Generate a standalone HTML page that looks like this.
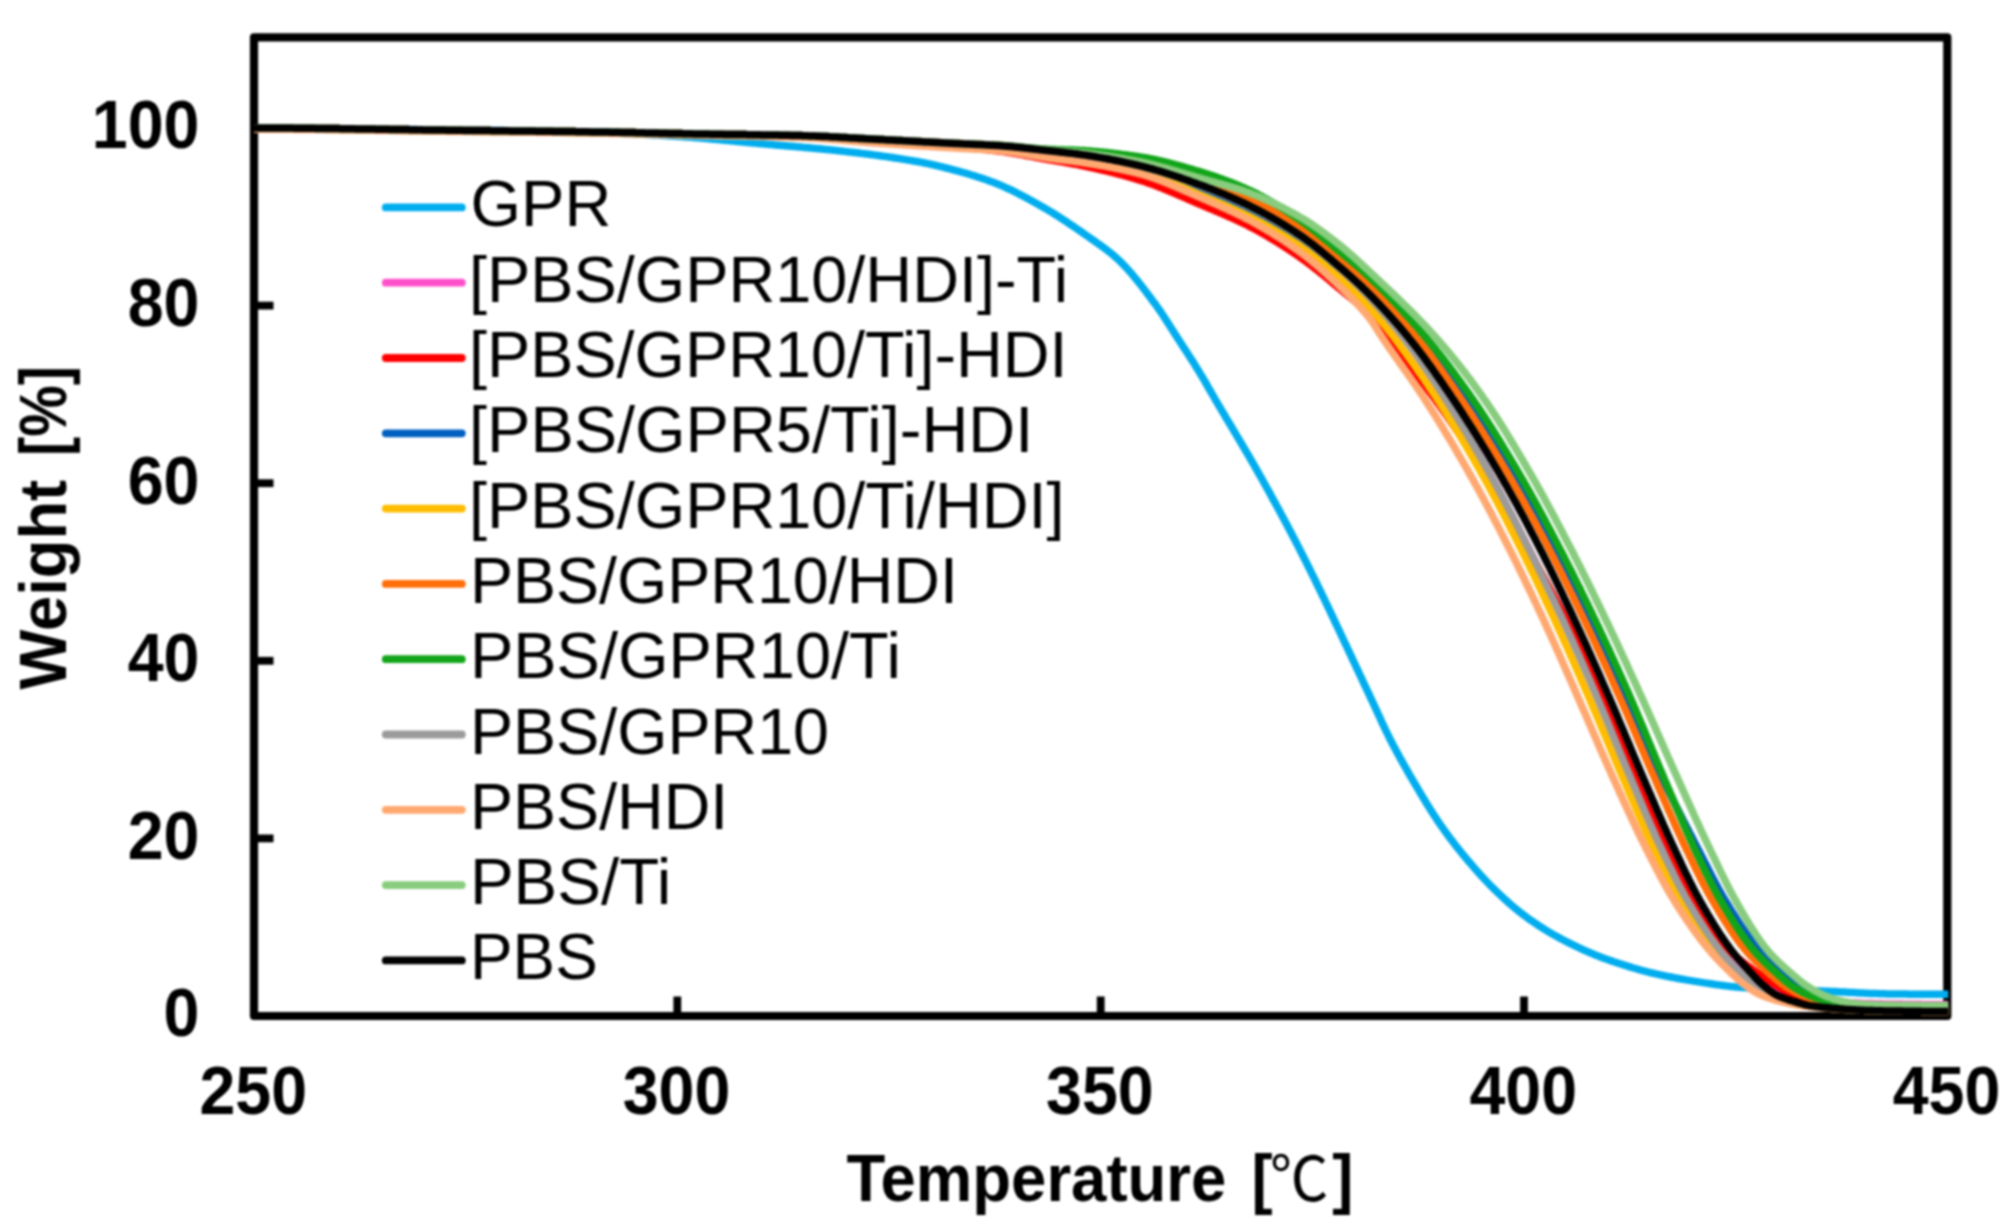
<!DOCTYPE html>
<html lang="en"><head><meta charset="utf-8"><title>TGA curves</title>
<style>html,body{margin:0;padding:0;background:#fff}body{width:2011px;height:1231px;overflow:hidden}#chart{width:2011px;height:1231px;background:#fff;filter:blur(0.9px)}</style></head>
<body>
<div id="chart">
<svg width="2011" height="1231" viewBox="0 0 2011 1231" style="display:block">
<rect width="2011" height="1231" fill="#fff"/>
<rect x="254.0" y="37.3" width="1693.3" height="978.7" fill="none" stroke="#000" stroke-width="8.2" stroke-linejoin="round"/>
<line x1="677.3" y1="1016.0" x2="677.3" y2="996.5" stroke="#000" stroke-width="7.8"/>
<line x1="1100.7" y1="1016.0" x2="1100.7" y2="996.5" stroke="#000" stroke-width="7.8"/>
<line x1="1524.0" y1="1016.0" x2="1524.0" y2="996.5" stroke="#000" stroke-width="7.8"/>
<line x1="254.0" y1="838.4" x2="273.5" y2="838.4" stroke="#000" stroke-width="7.8"/>
<line x1="254.0" y1="660.8" x2="273.5" y2="660.8" stroke="#000" stroke-width="7.8"/>
<line x1="254.0" y1="483.2" x2="273.5" y2="483.2" stroke="#000" stroke-width="7.8"/>
<line x1="254.0" y1="305.6" x2="273.5" y2="305.6" stroke="#000" stroke-width="7.8"/>
<line x1="254.0" y1="128.0" x2="273.5" y2="128.0" stroke="#000" stroke-width="7.8"/>
<g fill="none" stroke-linecap="butt" stroke-linejoin="round">
<path d="M254.0 128.5 L255.5 128.5 L257.1 128.5 L258.6 128.5 L260.2 128.5 L261.7 128.5 L263.2 128.5 L264.8 128.5 L266.3 128.5 L267.9 128.6 L269.4 128.6 L271.0 128.6 L272.5 128.6 L274.0 128.6 L275.6 128.6 L277.1 128.6 L278.7 128.6 L280.2 128.6 L281.7 128.6 L283.3 128.6 L284.8 128.6 L286.4 128.6 L287.9 128.6 L289.5 128.6 L291.0 128.7 L292.5 128.7 L294.1 128.7 L295.6 128.7 L297.2 128.7 L298.7 128.7 L300.2 128.7 L301.8 128.7 L303.3 128.7 L304.9 128.7 L306.4 128.7 L308.0 128.7 L309.5 128.8 L311.0 128.8 L312.6 128.8 L314.1 128.8 L315.7 128.8 L317.2 128.8 L318.7 128.8 L320.3 128.8 L321.8 128.8 L323.4 128.8 L324.9 128.9 L326.5 128.9 L328.0 128.9 L329.5 128.9 L331.1 128.9 L332.6 128.9 L334.2 128.9 L335.7 128.9 L337.2 128.9 L338.8 129.0 L340.3 129.0 L341.9 129.0 L343.4 129.0 L345.0 129.0 L346.5 129.0 L348.0 129.0 L349.6 129.0 L351.1 129.1 L352.7 129.1 L354.2 129.1 L355.7 129.1 L357.3 129.1 L358.8 129.1 L360.4 129.1 L361.9 129.1 L363.5 129.2 L365.0 129.2 L366.5 129.2 L368.1 129.2 L369.6 129.2 L371.2 129.2 L372.7 129.2 L374.2 129.2 L375.8 129.3 L377.3 129.3 L378.9 129.3 L380.4 129.3 L382.0 129.3 L383.5 129.3 L385.0 129.3 L386.6 129.4 L388.1 129.4 L389.7 129.4 L391.2 129.4 L392.7 129.4 L394.3 129.4 L395.8 129.5 L397.4 129.5 L398.9 129.5 L400.5 129.5 L402.0 129.5 L403.5 129.5 L405.1 129.5 L406.6 129.6 L408.2 129.6 L409.7 129.6 L411.2 129.6 L412.8 129.6 L414.3 129.6 L415.9 129.6 L417.4 129.7 L418.9 129.7 L420.5 129.7 L422.0 129.7 L423.6 129.7 L425.1 129.7 L426.7 129.8 L428.2 129.8 L429.7 129.8 L431.3 129.8 L432.8 129.8 L434.4 129.8 L435.9 129.9 L437.4 129.9 L439.0 129.9 L440.5 129.9 L442.1 129.9 L443.6 129.9 L445.2 129.9 L446.7 130.0 L448.2 130.0 L449.8 130.0 L451.3 130.0 L452.9 130.0 L454.4 130.0 L455.9 130.1 L457.5 130.1 L459.0 130.1 L460.6 130.1 L462.1 130.1 L463.7 130.1 L465.2 130.2 L466.7 130.2 L468.3 130.2 L469.8 130.2 L471.4 130.2 L472.9 130.3 L474.4 130.3 L476.0 130.3 L477.5 130.3 L479.1 130.3 L480.6 130.3 L482.2 130.4 L483.7 130.4 L485.2 130.4 L486.8 130.4 L488.3 130.4 L489.9 130.5 L491.4 130.5 L492.9 130.5 L494.5 130.5 L496.0 130.5 L497.6 130.6 L499.1 130.6 L500.7 130.6 L502.2 130.6 L503.7 130.6 L505.3 130.7 L506.8 130.7 L508.4 130.7 L509.9 130.7 L511.4 130.7 L513.0 130.8 L514.5 130.8 L516.1 130.8 L517.6 130.8 L519.2 130.9 L520.7 130.9 L522.2 130.9 L523.8 130.9 L525.3 131.0 L526.9 131.0 L528.4 131.0 L529.9 131.0 L531.5 131.1 L533.0 131.1 L534.6 131.1 L536.1 131.1 L537.7 131.2 L539.2 131.2 L540.7 131.2 L542.3 131.2 L543.8 131.3 L545.4 131.3 L546.9 131.3 L548.4 131.4 L550.0 131.4 L551.5 131.4 L553.1 131.4 L554.6 131.5 L556.2 131.5 L557.7 131.5 L559.2 131.6 L560.8 131.6 L562.3 131.6 L563.9 131.7 L565.4 131.7 L566.9 131.7 L568.5 131.8 L570.0 131.8 L571.6 131.8 L573.1 131.9 L574.6 131.9 L576.2 131.9 L577.7 132.0 L579.3 132.0 L580.8 132.0 L582.4 132.1 L583.9 132.1 L585.4 132.1 L587.0 132.2 L588.5 132.2 L590.1 132.2 L591.6 132.3 L593.1 132.3 L594.7 132.4 L596.2 132.4 L597.8 132.4 L599.3 132.5 L600.9 132.5 L602.4 132.6 L603.9 132.6 L605.5 132.7 L607.0 132.7 L608.6 132.8 L610.1 132.8 L611.6 132.9 L613.2 132.9 L614.7 133.0 L616.3 133.0 L617.8 133.1 L619.4 133.2 L620.9 133.2 L622.4 133.3 L624.0 133.4 L625.5 133.4 L627.1 133.5 L628.6 133.6 L630.1 133.6 L631.7 133.7 L633.2 133.8 L634.8 133.9 L636.3 133.9 L637.9 134.0 L639.4 134.1 L640.9 134.2 L642.5 134.3 L644.0 134.3 L645.6 134.4 L647.1 134.5 L648.6 134.6 L650.2 134.7 L651.7 134.8 L653.3 134.9 L654.8 134.9 L656.4 135.0 L657.9 135.1 L659.4 135.2 L661.0 135.3 L662.5 135.4 L664.1 135.5 L665.6 135.6 L667.1 135.7 L668.7 135.8 L670.2 135.9 L671.8 136.0 L673.3 136.1 L674.9 136.2 L676.4 136.3 L677.9 136.4 L679.5 136.5 L681.0 136.6 L682.6 136.7 L684.1 136.8 L685.6 136.9 L687.2 137.0 L688.7 137.1 L690.3 137.2 L691.8 137.3 L693.4 137.5 L694.9 137.6 L696.4 137.7 L698.0 137.8 L699.5 138.0 L701.1 138.1 L702.6 138.2 L704.1 138.3 L705.7 138.5 L707.2 138.6 L708.8 138.8 L710.3 138.9 L711.9 139.0 L713.4 139.2 L714.9 139.3 L716.5 139.5 L718.0 139.6 L719.6 139.7 L721.1 139.9 L722.6 140.0 L724.2 140.2 L725.7 140.3 L727.3 140.5 L728.8 140.6 L730.3 140.8 L731.9 140.9 L733.4 141.1 L735.0 141.2 L736.5 141.4 L738.1 141.5 L739.6 141.7 L741.1 141.8 L742.7 142.0 L744.2 142.1 L745.8 142.3 L747.3 142.4 L748.8 142.6 L750.4 142.7 L751.9 142.9 L753.5 143.0 L755.0 143.1 L756.6 143.3 L758.1 143.4 L759.6 143.6 L761.2 143.7 L762.7 143.8 L764.3 144.0 L765.8 144.1 L767.3 144.2 L768.9 144.4 L770.4 144.5 L772.0 144.6 L773.5 144.8 L775.1 144.9 L776.6 145.0 L778.1 145.2 L779.7 145.3 L781.2 145.4 L782.8 145.6 L784.3 145.7 L785.8 145.8 L787.4 146.0 L788.9 146.1 L790.5 146.2 L792.0 146.3 L793.6 146.5 L795.1 146.6 L796.6 146.7 L798.2 146.9 L799.7 147.0 L801.3 147.1 L802.8 147.3 L804.3 147.4 L805.9 147.6 L807.4 147.7 L809.0 147.8 L810.5 148.0 L812.1 148.1 L813.6 148.3 L815.1 148.4 L816.7 148.5 L818.2 148.7 L819.8 148.8 L821.3 149.0 L822.8 149.1 L824.4 149.3 L825.9 149.4 L827.5 149.6 L829.0 149.7 L830.6 149.9 L832.1 150.1 L833.6 150.2 L835.2 150.4 L836.7 150.6 L838.3 150.7 L839.8 150.9 L841.3 151.1 L842.9 151.2 L844.4 151.4 L846.0 151.6 L847.5 151.8 L849.1 151.9 L850.6 152.1 L852.1 152.3 L853.7 152.5 L855.2 152.6 L856.8 152.8 L858.3 153.0 L859.8 153.2 L861.4 153.4 L862.9 153.6 L864.5 153.8 L866.0 154.0 L867.6 154.1 L869.1 154.3 L870.6 154.5 L872.2 154.7 L873.7 154.9 L875.3 155.1 L876.8 155.3 L878.3 155.6 L879.9 155.8 L881.4 156.0 L883.0 156.2 L884.5 156.4 L886.0 156.6 L887.6 156.8 L889.1 157.1 L890.7 157.3 L892.2 157.5 L893.8 157.7 L895.3 158.0 L896.8 158.2 L898.4 158.4 L899.9 158.7 L901.5 158.9 L903.0 159.2 L904.5 159.4 L906.1 159.7 L907.6 159.9 L909.2 160.2 L910.7 160.4 L912.3 160.7 L913.8 161.0 L915.3 161.2 L916.9 161.5 L918.4 161.8 L920.0 162.1 L921.5 162.3 L923.0 162.6 L924.6 163.0 L926.1 163.3 L927.7 163.6 L929.2 163.9 L930.8 164.3 L932.3 164.6 L933.8 165.0 L935.4 165.3 L936.9 165.7 L938.5 166.0 L940.0 166.4 L941.5 166.8 L943.1 167.2 L944.6 167.6 L946.2 168.0 L947.7 168.3 L949.3 168.7 L950.8 169.2 L952.3 169.6 L953.9 170.0 L955.4 170.4 L957.0 170.8 L958.5 171.2 L960.0 171.6 L961.6 172.1 L963.1 172.5 L964.7 172.9 L966.2 173.4 L967.8 173.8 L969.3 174.3 L970.8 174.8 L972.4 175.2 L973.9 175.7 L975.5 176.2 L977.0 176.7 L978.5 177.2 L980.1 177.7 L981.6 178.2 L983.2 178.7 L984.7 179.2 L986.3 179.8 L987.8 180.3 L989.3 180.9 L990.9 181.5 L992.4 182.0 L994.0 182.6 L995.5 183.2 L997.0 183.8 L998.6 184.4 L1000.1 185.1 L1001.7 185.7 L1003.2 186.4 L1004.8 187.1 L1006.3 187.8 L1007.8 188.5 L1009.4 189.2 L1010.9 189.9 L1012.5 190.7 L1014.0 191.4 L1015.5 192.2 L1017.1 193.0 L1018.6 193.8 L1020.2 194.6 L1021.7 195.4 L1023.3 196.2 L1024.8 197.0 L1026.3 197.9 L1027.9 198.7 L1029.4 199.5 L1031.0 200.4 L1032.5 201.2 L1034.0 202.1 L1035.6 203.0 L1037.1 203.8 L1038.7 204.7 L1040.2 205.6 L1041.7 206.4 L1043.3 207.3 L1044.8 208.2 L1046.4 209.1 L1047.9 210.0 L1049.5 210.9 L1051.0 211.9 L1052.5 212.8 L1054.1 213.8 L1055.6 214.7 L1057.2 215.7 L1058.7 216.7 L1060.2 217.7 L1061.8 218.7 L1063.3 219.7 L1064.9 220.7 L1066.4 221.7 L1068.0 222.8 L1069.5 223.8 L1071.0 224.8 L1072.6 225.9 L1074.1 226.9 L1075.7 228.0 L1077.2 229.0 L1078.7 230.1 L1080.3 231.2 L1081.8 232.2 L1083.4 233.3 L1084.9 234.4 L1086.5 235.5 L1088.0 236.5 L1089.5 237.6 L1091.1 238.7 L1092.6 239.8 L1094.2 240.8 L1095.7 241.9 L1097.2 243.0 L1098.8 244.1 L1100.3 245.2 L1101.9 246.3 L1103.4 247.4 L1105.0 248.6 L1106.5 249.8 L1108.0 250.9 L1109.6 252.2 L1111.1 253.4 L1112.7 254.7 L1114.2 256.0 L1115.7 257.4 L1117.3 258.7 L1118.8 260.2 L1120.4 261.6 L1121.9 263.2 L1123.5 264.7 L1125.0 266.4 L1126.5 268.0 L1128.1 269.7 L1129.6 271.5 L1131.2 273.2 L1132.7 275.0 L1134.2 276.9 L1135.8 278.7 L1137.3 280.6 L1138.9 282.6 L1140.4 284.5 L1142.0 286.5 L1143.5 288.5 L1145.0 290.5 L1146.6 292.5 L1148.1 294.6 L1149.7 296.6 L1151.2 298.7 L1152.7 300.8 L1154.3 302.8 L1155.8 304.9 L1157.4 307.1 L1158.9 309.3 L1160.5 311.5 L1162.0 313.8 L1163.5 316.1 L1165.1 318.5 L1166.6 320.9 L1168.2 323.3 L1169.7 325.7 L1171.2 328.1 L1172.8 330.5 L1174.3 333.0 L1175.9 335.4 L1177.4 337.8 L1178.9 340.1 L1180.5 342.5 L1182.0 344.9 L1183.6 347.3 L1185.1 349.6 L1186.7 352.0 L1188.2 354.4 L1189.7 356.8 L1191.3 359.2 L1192.8 361.6 L1194.4 364.1 L1195.9 366.6 L1197.4 369.0 L1199.0 371.5 L1200.5 374.1 L1202.1 376.7 L1203.6 379.3 L1205.2 381.9 L1206.7 384.6 L1208.2 387.3 L1209.8 390.0 L1211.3 392.6 L1212.9 395.3 L1214.4 398.0 L1215.9 400.6 L1217.5 403.2 L1219.0 405.9 L1220.6 408.5 L1222.1 411.1 L1223.7 413.7 L1225.2 416.3 L1226.7 418.9 L1228.3 421.5 L1229.8 424.0 L1231.4 426.6 L1232.9 429.2 L1234.4 431.8 L1236.0 434.4 L1237.5 437.0 L1239.1 439.6 L1240.6 442.2 L1242.2 444.8 L1243.7 447.4 L1245.2 450.0 L1246.8 452.6 L1248.3 455.3 L1249.9 457.9 L1251.4 460.6 L1252.9 463.2 L1254.5 465.9 L1256.0 468.6 L1257.6 471.4 L1259.1 474.1 L1260.7 476.8 L1262.2 479.6 L1263.7 482.3 L1265.3 485.1 L1266.8 487.9 L1268.4 490.7 L1269.9 493.4 L1271.4 496.2 L1273.0 499.1 L1274.5 501.9 L1276.1 504.7 L1277.6 507.5 L1279.2 510.4 L1280.7 513.2 L1282.2 516.1 L1283.8 519.0 L1285.3 521.9 L1286.9 524.8 L1288.4 527.7 L1289.9 530.6 L1291.5 533.5 L1293.0 536.5 L1294.6 539.5 L1296.1 542.4 L1297.7 545.4 L1299.2 548.4 L1300.7 551.4 L1302.3 554.5 L1303.8 557.5 L1305.4 560.6 L1306.9 563.7 L1308.4 566.7 L1310.0 569.8 L1311.5 573.0 L1313.1 576.1 L1314.6 579.2 L1316.2 582.4 L1317.7 585.6 L1319.2 588.7 L1320.8 591.9 L1322.3 595.1 L1323.9 598.3 L1325.4 601.5 L1326.9 604.8 L1328.5 608.0 L1330.0 611.2 L1331.6 614.5 L1333.1 617.7 L1334.6 621.0 L1336.2 624.3 L1337.7 627.5 L1339.3 630.8 L1340.8 634.1 L1342.4 637.4 L1343.9 640.7 L1345.4 643.9 L1347.0 647.2 L1348.5 650.5 L1350.1 653.8 L1351.6 657.1 L1353.1 660.4 L1354.7 663.7 L1356.2 667.0 L1357.8 670.3 L1359.3 673.6 L1360.9 676.9 L1362.4 680.2 L1363.9 683.5 L1365.5 686.8 L1367.0 690.1 L1368.6 693.3 L1370.1 696.6 L1371.6 699.9 L1373.2 703.2 L1374.7 706.5 L1376.3 709.9 L1377.8 713.3 L1379.4 716.6 L1380.9 720.0 L1382.4 723.4 L1384.0 726.7 L1385.5 729.9 L1387.1 733.1 L1388.6 736.2 L1390.1 739.2 L1391.7 742.2 L1393.2 745.2 L1394.8 748.1 L1396.3 751.0 L1397.9 753.9 L1399.4 756.7 L1400.9 759.5 L1402.5 762.2 L1404.0 765.0 L1405.6 767.7 L1407.1 770.4 L1408.6 773.1 L1410.2 775.8 L1411.7 778.4 L1413.3 781.1 L1414.8 783.7 L1416.4 786.3 L1417.9 788.9 L1419.4 791.5 L1421.0 794.1 L1422.5 796.7 L1424.1 799.2 L1425.6 801.8 L1427.1 804.3 L1428.7 806.8 L1430.2 809.2 L1431.8 811.7 L1433.3 814.1 L1434.9 816.5 L1436.4 818.8 L1437.9 821.1 L1439.5 823.4 L1441.0 825.6 L1442.6 827.8 L1444.1 830.0 L1445.6 832.1 L1447.2 834.2 L1448.7 836.3 L1450.3 838.4 L1451.8 840.4 L1453.4 842.4 L1454.9 844.4 L1456.4 846.4 L1458.0 848.4 L1459.5 850.3 L1461.1 852.2 L1462.6 854.1 L1464.1 856.0 L1465.7 857.8 L1467.2 859.7 L1468.8 861.5 L1470.3 863.3 L1471.9 865.1 L1473.4 866.9 L1474.9 868.7 L1476.5 870.4 L1478.0 872.2 L1479.6 873.9 L1481.1 875.6 L1482.6 877.2 L1484.2 878.9 L1485.7 880.5 L1487.3 882.2 L1488.8 883.8 L1490.3 885.3 L1491.9 886.9 L1493.4 888.4 L1495.0 889.9 L1496.5 891.4 L1498.1 892.9 L1499.6 894.4 L1501.1 895.9 L1502.7 897.3 L1504.2 898.7 L1505.8 900.1 L1507.3 901.5 L1508.8 902.9 L1510.4 904.3 L1511.9 905.6 L1513.5 906.9 L1515.0 908.2 L1516.6 909.4 L1518.1 910.7 L1519.6 911.9 L1521.2 913.1 L1522.7 914.3 L1524.3 915.4 L1525.8 916.6 L1527.3 917.7 L1528.9 918.9 L1530.4 920.0 L1532.0 921.0 L1533.5 922.1 L1535.1 923.2 L1536.6 924.2 L1538.1 925.2 L1539.7 926.2 L1541.2 927.2 L1542.8 928.2 L1544.3 929.2 L1545.8 930.1 L1547.4 931.1 L1548.9 932.0 L1550.5 932.9 L1552.0 933.8 L1553.6 934.7 L1555.1 935.5 L1556.6 936.4 L1558.2 937.2 L1559.7 938.1 L1561.3 938.9 L1562.8 939.7 L1564.3 940.5 L1565.9 941.3 L1567.4 942.1 L1569.0 942.9 L1570.5 943.7 L1572.1 944.4 L1573.6 945.2 L1575.1 945.9 L1576.7 946.7 L1578.2 947.4 L1579.8 948.1 L1581.3 948.8 L1582.8 949.6 L1584.4 950.3 L1585.9 950.9 L1587.5 951.6 L1589.0 952.3 L1590.6 953.0 L1592.1 953.6 L1593.6 954.2 L1595.2 954.9 L1596.7 955.5 L1598.3 956.1 L1599.8 956.7 L1601.3 957.3 L1602.9 957.8 L1604.4 958.4 L1606.0 959.0 L1607.5 959.5 L1609.1 960.1 L1610.6 960.6 L1612.1 961.1 L1613.7 961.7 L1615.2 962.2 L1616.8 962.7 L1618.3 963.2 L1619.8 963.7 L1621.4 964.2 L1622.9 964.7 L1624.5 965.2 L1626.0 965.7 L1627.6 966.1 L1629.1 966.6 L1630.6 967.1 L1632.2 967.6 L1633.7 968.0 L1635.3 968.5 L1636.8 968.9 L1638.3 969.4 L1639.9 969.8 L1641.4 970.3 L1643.0 970.7 L1644.5 971.1 L1646.0 971.5 L1647.6 971.9 L1649.1 972.3 L1650.7 972.7 L1652.2 973.0 L1653.8 973.4 L1655.3 973.7 L1656.8 974.1 L1658.4 974.4 L1659.9 974.8 L1661.5 975.1 L1663.0 975.4 L1664.5 975.8 L1666.1 976.1 L1667.6 976.4 L1669.2 976.7 L1670.7 977.0 L1672.3 977.3 L1673.8 977.6 L1675.3 977.9 L1676.9 978.2 L1678.4 978.5 L1680.0 978.8 L1681.5 979.1 L1683.0 979.3 L1684.6 979.6 L1686.1 979.9 L1687.7 980.1 L1689.2 980.4 L1690.8 980.6 L1692.3 980.9 L1693.8 981.1 L1695.4 981.4 L1696.9 981.6 L1698.5 981.9 L1700.0 982.1 L1701.5 982.4 L1703.1 982.6 L1704.6 982.9 L1706.2 983.1 L1707.7 983.3 L1709.3 983.6 L1710.8 983.8 L1712.3 984.0 L1713.9 984.3 L1715.4 984.5 L1717.0 984.7 L1718.5 984.9 L1720.0 985.1 L1721.6 985.3 L1723.1 985.5 L1724.7 985.7 L1726.2 985.9 L1727.8 986.1 L1729.3 986.3 L1730.8 986.4 L1732.4 986.6 L1733.9 986.8 L1735.5 986.9 L1737.0 987.1 L1738.5 987.2 L1740.1 987.3 L1741.6 987.4 L1743.2 987.5 L1744.7 987.6 L1746.3 987.8 L1747.8 987.9 L1749.3 988.0 L1750.9 988.1 L1752.4 988.2 L1754.0 988.3 L1755.5 988.3 L1757.0 988.4 L1758.6 988.5 L1760.1 988.6 L1761.7 988.7 L1763.2 988.8 L1764.8 988.9 L1766.3 988.9 L1767.8 989.0 L1769.4 989.1 L1770.9 989.2 L1772.5 989.2 L1774.0 989.3 L1775.5 989.4 L1777.1 989.4 L1778.6 989.5 L1780.2 989.6 L1781.7 989.6 L1783.3 989.7 L1784.8 989.8 L1786.3 989.8 L1787.9 989.9 L1789.4 990.0 L1791.0 990.0 L1792.5 990.1 L1794.0 990.2 L1795.6 990.2 L1797.1 990.3 L1798.7 990.3 L1800.2 990.4 L1801.7 990.4 L1803.3 990.5 L1804.8 990.6 L1806.4 990.6 L1807.9 990.7 L1809.5 990.7 L1811.0 990.8 L1812.5 990.8 L1814.1 990.9 L1815.6 990.9 L1817.2 991.0 L1818.7 991.0 L1820.2 991.1 L1821.8 991.1 L1823.3 991.2 L1824.9 991.2 L1826.4 991.3 L1828.0 991.3 L1829.5 991.4 L1831.0 991.4 L1832.6 991.5 L1834.1 991.6 L1835.7 991.6 L1837.2 991.7 L1838.7 991.8 L1840.3 991.9 L1841.8 991.9 L1843.4 992.0 L1844.9 992.1 L1846.5 992.2 L1848.0 992.3 L1849.5 992.4 L1851.1 992.5 L1852.6 992.6 L1854.2 992.6 L1855.7 992.7 L1857.2 992.8 L1858.8 992.9 L1860.3 993.0 L1861.9 993.1 L1863.4 993.1 L1865.0 993.2 L1866.5 993.3 L1868.0 993.3 L1869.6 993.4 L1871.1 993.4 L1872.7 993.5 L1874.2 993.5 L1875.7 993.6 L1877.3 993.6 L1878.8 993.7 L1880.4 993.7 L1881.9 993.8 L1883.5 993.8 L1885.0 993.8 L1886.5 993.9 L1888.1 993.9 L1889.6 993.9 L1891.2 994.0 L1892.7 994.0 L1894.2 994.0 L1895.8 994.1 L1897.3 994.1 L1898.9 994.1 L1900.4 994.1 L1902.0 994.1 L1903.5 994.1 L1905.0 994.1 L1906.6 994.1 L1908.1 994.2 L1909.7 994.2 L1911.2 994.2 L1912.7 994.2 L1914.3 994.2 L1915.8 994.2 L1917.4 994.2 L1918.9 994.2 L1920.5 994.2 L1922.0 994.2 L1923.5 994.2 L1925.1 994.2 L1926.6 994.3 L1928.2 994.3 L1929.7 994.3 L1931.2 994.3 L1932.8 994.3 L1934.3 994.3 L1935.9 994.3 L1937.4 994.3 L1939.0 994.3 L1940.5 994.3 L1942.0 994.3 L1943.6 994.3 L1945.1 994.3 L1946.7 994.3 L1948.2 994.3" stroke="#00ADEE" stroke-width="7.5"/>
<path d="M254.0 128.0 L255.5 128.0 L257.1 128.0 L258.6 128.0 L260.2 128.0 L261.7 128.0 L263.2 128.0 L264.8 128.0 L266.3 128.0 L267.9 128.0 L269.4 128.0 L271.0 128.0 L272.5 128.0 L274.0 128.0 L275.6 128.0 L277.1 128.1 L278.7 128.1 L280.2 128.1 L281.7 128.1 L283.3 128.1 L284.8 128.1 L286.4 128.1 L287.9 128.1 L289.5 128.1 L291.0 128.1 L292.5 128.1 L294.1 128.2 L295.6 128.2 L297.2 128.2 L298.7 128.2 L300.2 128.2 L301.8 128.2 L303.3 128.2 L304.9 128.3 L306.4 128.3 L308.0 128.3 L309.5 128.3 L311.0 128.3 L312.6 128.3 L314.1 128.3 L315.7 128.4 L317.2 128.4 L318.7 128.4 L320.3 128.4 L321.8 128.4 L323.4 128.4 L324.9 128.5 L326.5 128.5 L328.0 128.5 L329.5 128.5 L331.1 128.5 L332.6 128.6 L334.2 128.6 L335.7 128.6 L337.2 128.6 L338.8 128.6 L340.3 128.7 L341.9 128.7 L343.4 128.7 L345.0 128.7 L346.5 128.7 L348.0 128.8 L349.6 128.8 L351.1 128.8 L352.7 128.8 L354.2 128.8 L355.7 128.9 L357.3 128.9 L358.8 128.9 L360.4 128.9 L361.9 129.0 L363.5 129.0 L365.0 129.0 L366.5 129.0 L368.1 129.0 L369.6 129.1 L371.2 129.1 L372.7 129.1 L374.2 129.1 L375.8 129.2 L377.3 129.2 L378.9 129.2 L380.4 129.2 L382.0 129.2 L383.5 129.3 L385.0 129.3 L386.6 129.3 L388.1 129.3 L389.7 129.4 L391.2 129.4 L392.7 129.4 L394.3 129.4 L395.8 129.5 L397.4 129.5 L398.9 129.5 L400.5 129.5 L402.0 129.5 L403.5 129.6 L405.1 129.6 L406.6 129.6 L408.2 129.6 L409.7 129.7 L411.2 129.7 L412.8 129.7 L414.3 129.7 L415.9 129.8 L417.4 129.8 L418.9 129.8 L420.5 129.8 L422.0 129.8 L423.6 129.9 L425.1 129.9 L426.7 129.9 L428.2 129.9 L429.7 129.9 L431.3 130.0 L432.8 130.0 L434.4 130.0 L435.9 130.0 L437.4 130.0 L439.0 130.1 L440.5 130.1 L442.1 130.1 L443.6 130.1 L445.2 130.1 L446.7 130.2 L448.2 130.2 L449.8 130.2 L451.3 130.2 L452.9 130.2 L454.4 130.3 L455.9 130.3 L457.5 130.3 L459.0 130.3 L460.6 130.3 L462.1 130.3 L463.7 130.4 L465.2 130.4 L466.7 130.4 L468.3 130.4 L469.8 130.4 L471.4 130.4 L472.9 130.5 L474.4 130.5 L476.0 130.5 L477.5 130.5 L479.1 130.5 L480.6 130.5 L482.2 130.6 L483.7 130.6 L485.2 130.6 L486.8 130.6 L488.3 130.6 L489.9 130.6 L491.4 130.7 L492.9 130.7 L494.5 130.7 L496.0 130.7 L497.6 130.7 L499.1 130.7 L500.7 130.8 L502.2 130.8 L503.7 130.8 L505.3 130.8 L506.8 130.8 L508.4 130.8 L509.9 130.9 L511.4 130.9 L513.0 130.9 L514.5 130.9 L516.1 130.9 L517.6 131.0 L519.2 131.0 L520.7 131.0 L522.2 131.0 L523.8 131.0 L525.3 131.0 L526.9 131.1 L528.4 131.1 L529.9 131.1 L531.5 131.1 L533.0 131.1 L534.6 131.1 L536.1 131.2 L537.7 131.2 L539.2 131.2 L540.7 131.2 L542.3 131.2 L543.8 131.3 L545.4 131.3 L546.9 131.3 L548.4 131.3 L550.0 131.3 L551.5 131.3 L553.1 131.4 L554.6 131.4 L556.2 131.4 L557.7 131.4 L559.2 131.4 L560.8 131.5 L562.3 131.5 L563.9 131.5 L565.4 131.5 L566.9 131.5 L568.5 131.6 L570.0 131.6 L571.6 131.6 L573.1 131.6 L574.6 131.6 L576.2 131.7 L577.7 131.7 L579.3 131.7 L580.8 131.7 L582.4 131.7 L583.9 131.8 L585.4 131.8 L587.0 131.8 L588.5 131.8 L590.1 131.9 L591.6 131.9 L593.1 131.9 L594.7 131.9 L596.2 131.9 L597.8 132.0 L599.3 132.0 L600.9 132.0 L602.4 132.0 L603.9 132.1 L605.5 132.1 L607.0 132.1 L608.6 132.1 L610.1 132.2 L611.6 132.2 L613.2 132.2 L614.7 132.2 L616.3 132.3 L617.8 132.3 L619.4 132.3 L620.9 132.4 L622.4 132.4 L624.0 132.4 L625.5 132.4 L627.1 132.5 L628.6 132.5 L630.1 132.5 L631.7 132.6 L633.2 132.6 L634.8 132.6 L636.3 132.7 L637.9 132.7 L639.4 132.7 L640.9 132.8 L642.5 132.8 L644.0 132.8 L645.6 132.9 L647.1 132.9 L648.6 132.9 L650.2 133.0 L651.7 133.0 L653.3 133.0 L654.8 133.1 L656.4 133.1 L657.9 133.1 L659.4 133.2 L661.0 133.2 L662.5 133.2 L664.1 133.2 L665.6 133.3 L667.1 133.3 L668.7 133.3 L670.2 133.4 L671.8 133.4 L673.3 133.4 L674.9 133.5 L676.4 133.5 L677.9 133.5 L679.5 133.6 L681.0 133.6 L682.6 133.6 L684.1 133.7 L685.6 133.7 L687.2 133.7 L688.7 133.8 L690.3 133.8 L691.8 133.8 L693.4 133.9 L694.9 133.9 L696.4 133.9 L698.0 133.9 L699.5 134.0 L701.1 134.0 L702.6 134.0 L704.1 134.1 L705.7 134.1 L707.2 134.1 L708.8 134.1 L710.3 134.2 L711.9 134.2 L713.4 134.2 L714.9 134.2 L716.5 134.3 L718.0 134.3 L719.6 134.3 L721.1 134.3 L722.6 134.4 L724.2 134.4 L725.7 134.4 L727.3 134.4 L728.8 134.5 L730.3 134.5 L731.9 134.5 L733.4 134.5 L735.0 134.6 L736.5 134.6 L738.1 134.6 L739.6 134.6 L741.1 134.6 L742.7 134.7 L744.2 134.7 L745.8 134.7 L747.3 134.7 L748.8 134.8 L750.4 134.8 L751.9 134.8 L753.5 134.8 L755.0 134.9 L756.6 134.9 L758.1 134.9 L759.6 134.9 L761.2 135.0 L762.7 135.0 L764.3 135.0 L765.8 135.0 L767.3 135.1 L768.9 135.1 L770.4 135.1 L772.0 135.1 L773.5 135.2 L775.1 135.2 L776.6 135.2 L778.1 135.3 L779.7 135.3 L781.2 135.3 L782.8 135.4 L784.3 135.4 L785.8 135.4 L787.4 135.5 L788.9 135.5 L790.5 135.5 L792.0 135.6 L793.6 135.6 L795.1 135.6 L796.6 135.7 L798.2 135.7 L799.7 135.8 L801.3 135.8 L802.8 135.8 L804.3 135.9 L805.9 135.9 L807.4 136.0 L809.0 136.1 L810.5 136.1 L812.1 136.2 L813.6 136.2 L815.1 136.3 L816.7 136.4 L818.2 136.4 L819.8 136.5 L821.3 136.6 L822.8 136.6 L824.4 136.7 L825.9 136.8 L827.5 136.9 L829.0 136.9 L830.6 137.0 L832.1 137.1 L833.6 137.2 L835.2 137.3 L836.7 137.3 L838.3 137.4 L839.8 137.5 L841.3 137.6 L842.9 137.7 L844.4 137.8 L846.0 137.9 L847.5 137.9 L849.1 138.0 L850.6 138.1 L852.1 138.2 L853.7 138.3 L855.2 138.4 L856.8 138.5 L858.3 138.6 L859.8 138.7 L861.4 138.7 L862.9 138.8 L864.5 138.9 L866.0 139.0 L867.6 139.1 L869.1 139.2 L870.6 139.3 L872.2 139.4 L873.7 139.4 L875.3 139.5 L876.8 139.6 L878.3 139.7 L879.9 139.8 L881.4 139.8 L883.0 139.9 L884.5 140.0 L886.0 140.1 L887.6 140.2 L889.1 140.3 L890.7 140.3 L892.2 140.4 L893.8 140.5 L895.3 140.6 L896.8 140.7 L898.4 140.8 L899.9 140.9 L901.5 140.9 L903.0 141.0 L904.5 141.1 L906.1 141.2 L907.6 141.3 L909.2 141.4 L910.7 141.5 L912.3 141.5 L913.8 141.6 L915.3 141.7 L916.9 141.8 L918.4 141.9 L920.0 142.0 L921.5 142.1 L923.0 142.1 L924.6 142.2 L926.1 142.3 L927.7 142.4 L929.2 142.5 L930.8 142.6 L932.3 142.7 L933.8 142.7 L935.4 142.8 L936.9 142.9 L938.5 143.0 L940.0 143.1 L941.5 143.2 L943.1 143.2 L944.6 143.3 L946.2 143.4 L947.7 143.5 L949.3 143.6 L950.8 143.7 L952.3 143.7 L953.9 143.8 L955.4 143.9 L957.0 144.0 L958.5 144.0 L960.0 144.1 L961.6 144.2 L963.1 144.3 L964.7 144.3 L966.2 144.4 L967.8 144.5 L969.3 144.5 L970.8 144.6 L972.4 144.7 L973.9 144.8 L975.5 144.8 L977.0 144.9 L978.5 145.0 L980.1 145.1 L981.6 145.1 L983.2 145.2 L984.7 145.3 L986.3 145.4 L987.8 145.5 L989.3 145.5 L990.9 145.6 L992.4 145.7 L994.0 145.8 L995.5 145.9 L997.0 146.0 L998.6 146.1 L1000.1 146.2 L1001.7 146.3 L1003.2 146.5 L1004.8 146.6 L1006.3 146.7 L1007.8 146.8 L1009.4 147.0 L1010.9 147.1 L1012.5 147.3 L1014.0 147.4 L1015.5 147.6 L1017.1 147.7 L1018.6 147.9 L1020.2 148.1 L1021.7 148.2 L1023.3 148.4 L1024.8 148.6 L1026.3 148.7 L1027.9 148.9 L1029.4 149.1 L1031.0 149.3 L1032.5 149.5 L1034.0 149.6 L1035.6 149.8 L1037.1 150.0 L1038.7 150.2 L1040.2 150.4 L1041.7 150.6 L1043.3 150.7 L1044.8 150.9 L1046.4 151.1 L1047.9 151.3 L1049.5 151.5 L1051.0 151.6 L1052.5 151.8 L1054.1 152.0 L1055.6 152.1 L1057.2 152.3 L1058.7 152.5 L1060.2 152.7 L1061.8 152.8 L1063.3 153.0 L1064.9 153.2 L1066.4 153.4 L1068.0 153.6 L1069.5 153.7 L1071.0 153.9 L1072.6 154.1 L1074.1 154.3 L1075.7 154.5 L1077.2 154.7 L1078.7 155.0 L1080.3 155.2 L1081.8 155.4 L1083.4 155.6 L1084.9 155.9 L1086.5 156.1 L1088.0 156.3 L1089.5 156.6 L1091.1 156.8 L1092.6 157.1 L1094.2 157.3 L1095.7 157.6 L1097.2 157.9 L1098.8 158.1 L1100.3 158.4 L1101.9 158.7 L1103.4 159.0 L1105.0 159.3 L1106.5 159.5 L1108.0 159.8 L1109.6 160.1 L1111.1 160.4 L1112.7 160.7 L1114.2 161.0 L1115.7 161.3 L1117.3 161.7 L1118.8 162.0 L1120.4 162.3 L1121.9 162.6 L1123.5 163.0 L1125.0 163.3 L1126.5 163.6 L1128.1 164.0 L1129.6 164.3 L1131.2 164.7 L1132.7 165.0 L1134.2 165.4 L1135.8 165.7 L1137.3 166.1 L1138.9 166.5 L1140.4 166.8 L1142.0 167.2 L1143.5 167.6 L1145.0 168.0 L1146.6 168.4 L1148.1 168.8 L1149.7 169.2 L1151.2 169.6 L1152.7 170.1 L1154.3 170.5 L1155.8 171.0 L1157.4 171.4 L1158.9 171.9 L1160.5 172.3 L1162.0 172.8 L1163.5 173.3 L1165.1 173.8 L1166.6 174.3 L1168.2 174.8 L1169.7 175.3 L1171.2 175.8 L1172.8 176.3 L1174.3 176.8 L1175.9 177.3 L1177.4 177.9 L1178.9 178.4 L1180.5 178.9 L1182.0 179.5 L1183.6 180.0 L1185.1 180.5 L1186.7 181.1 L1188.2 181.6 L1189.7 182.2 L1191.3 182.7 L1192.8 183.3 L1194.4 183.9 L1195.9 184.4 L1197.4 185.0 L1199.0 185.6 L1200.5 186.1 L1202.1 186.7 L1203.6 187.3 L1205.2 187.9 L1206.7 188.4 L1208.2 189.0 L1209.8 189.6 L1211.3 190.2 L1212.9 190.8 L1214.4 191.4 L1215.9 192.1 L1217.5 192.7 L1219.0 193.3 L1220.6 194.0 L1222.1 194.6 L1223.7 195.2 L1225.2 195.9 L1226.7 196.6 L1228.3 197.2 L1229.8 197.9 L1231.4 198.6 L1232.9 199.3 L1234.4 199.9 L1236.0 200.6 L1237.5 201.4 L1239.1 202.1 L1240.6 202.8 L1242.2 203.5 L1243.7 204.2 L1245.2 205.0 L1246.8 205.7 L1248.3 206.5 L1249.9 207.2 L1251.4 208.0 L1252.9 208.8 L1254.5 209.5 L1256.0 210.3 L1257.6 211.1 L1259.1 212.0 L1260.7 212.8 L1262.2 213.6 L1263.7 214.4 L1265.3 215.3 L1266.8 216.1 L1268.4 217.0 L1269.9 217.9 L1271.4 218.7 L1273.0 219.6 L1274.5 220.5 L1276.1 221.4 L1277.6 222.3 L1279.2 223.3 L1280.7 224.2 L1282.2 225.1 L1283.8 226.1 L1285.3 227.1 L1286.9 228.0 L1288.4 229.0 L1289.9 230.0 L1291.5 231.0 L1293.0 232.0 L1294.6 233.0 L1296.1 234.0 L1297.7 235.1 L1299.2 236.1 L1300.7 237.2 L1302.3 238.2 L1303.8 239.3 L1305.4 240.4 L1306.9 241.6 L1308.4 242.7 L1310.0 243.9 L1311.5 245.0 L1313.1 246.2 L1314.6 247.4 L1316.2 248.7 L1317.7 249.9 L1319.2 251.1 L1320.8 252.4 L1322.3 253.7 L1323.9 255.0 L1325.4 256.2 L1326.9 257.5 L1328.5 258.8 L1330.0 260.2 L1331.6 261.5 L1333.1 262.8 L1334.6 264.1 L1336.2 265.4 L1337.7 266.8 L1339.3 268.1 L1340.8 269.5 L1342.4 270.8 L1343.9 272.2 L1345.4 273.5 L1347.0 274.9 L1348.5 276.3 L1350.1 277.6 L1351.6 279.0 L1353.1 280.4 L1354.7 281.9 L1356.2 283.3 L1357.8 284.7 L1359.3 286.2 L1360.9 287.7 L1362.4 289.2 L1363.9 290.7 L1365.5 292.3 L1367.0 293.8 L1368.6 295.4 L1370.1 297.0 L1371.6 298.7 L1373.2 300.3 L1374.7 302.0 L1376.3 303.7 L1377.8 305.5 L1379.4 307.2 L1380.9 309.0 L1382.4 310.8 L1384.0 312.6 L1385.5 314.4 L1387.1 316.3 L1388.6 318.2 L1390.1 320.1 L1391.7 322.0 L1393.2 323.9 L1394.8 325.8 L1396.3 327.8 L1397.9 329.8 L1399.4 331.8 L1400.9 333.7 L1402.5 335.8 L1404.0 337.8 L1405.6 339.8 L1407.1 341.8 L1408.6 343.9 L1410.2 346.0 L1411.7 348.1 L1413.3 350.2 L1414.8 352.4 L1416.4 354.5 L1417.9 356.7 L1419.4 358.9 L1421.0 361.1 L1422.5 363.3 L1424.1 365.6 L1425.6 367.9 L1427.1 370.1 L1428.7 372.4 L1430.2 374.7 L1431.8 377.0 L1433.3 379.4 L1434.9 381.7 L1436.4 384.1 L1437.9 386.4 L1439.5 388.8 L1441.0 391.2 L1442.6 393.6 L1444.1 396.0 L1445.6 398.4 L1447.2 400.9 L1448.7 403.3 L1450.3 405.8 L1451.8 408.3 L1453.4 410.7 L1454.9 413.3 L1456.4 415.8 L1458.0 418.3 L1459.5 420.9 L1461.1 423.5 L1462.6 426.0 L1464.1 428.6 L1465.7 431.2 L1467.2 433.9 L1468.8 436.5 L1470.3 439.2 L1471.9 441.8 L1473.4 444.5 L1474.9 447.2 L1476.5 449.9 L1478.0 452.6 L1479.6 455.3 L1481.1 458.0 L1482.6 460.8 L1484.2 463.5 L1485.7 466.3 L1487.3 469.1 L1488.8 471.8 L1490.3 474.6 L1491.9 477.4 L1493.4 480.2 L1495.0 483.0 L1496.5 485.9 L1498.1 488.7 L1499.6 491.6 L1501.1 494.5 L1502.7 497.4 L1504.2 500.3 L1505.8 503.3 L1507.3 506.2 L1508.8 509.2 L1510.4 512.1 L1511.9 515.1 L1513.5 518.1 L1515.0 521.1 L1516.6 524.1 L1518.1 527.1 L1519.6 530.2 L1521.2 533.2 L1522.7 536.2 L1524.3 539.3 L1525.8 542.3 L1527.3 545.4 L1528.9 548.5 L1530.4 551.5 L1532.0 554.6 L1533.5 557.7 L1535.1 560.8 L1536.6 564.0 L1538.1 567.1 L1539.7 570.3 L1541.2 573.5 L1542.8 576.6 L1544.3 579.8 L1545.8 583.0 L1547.4 586.2 L1548.9 589.5 L1550.5 592.7 L1552.0 595.9 L1553.6 599.1 L1555.1 602.4 L1556.6 605.6 L1558.2 608.8 L1559.7 612.0 L1561.3 615.3 L1562.8 618.5 L1564.3 621.7 L1565.9 624.9 L1567.4 628.1 L1569.0 631.3 L1570.5 634.4 L1572.1 637.6 L1573.6 640.7 L1575.1 643.8 L1576.7 647.0 L1578.2 650.1 L1579.8 653.2 L1581.3 656.3 L1582.8 659.5 L1584.4 662.6 L1585.9 665.8 L1587.5 669.0 L1589.0 672.2 L1590.6 675.4 L1592.1 678.6 L1593.6 681.9 L1595.2 685.2 L1596.7 688.6 L1598.3 692.0 L1599.8 695.4 L1601.3 698.8 L1602.9 702.4 L1604.4 706.0 L1606.0 709.7 L1607.5 713.4 L1609.1 717.2 L1610.6 721.1 L1612.1 724.9 L1613.7 728.9 L1615.2 732.8 L1616.8 736.8 L1618.3 740.8 L1619.8 744.7 L1621.4 748.7 L1622.9 752.6 L1624.5 756.5 L1626.0 760.4 L1627.6 764.2 L1629.1 768.0 L1630.6 771.7 L1632.2 775.3 L1633.7 778.9 L1635.3 782.5 L1636.8 786.0 L1638.3 789.6 L1639.9 793.1 L1641.4 796.6 L1643.0 800.1 L1644.5 803.5 L1646.0 807.0 L1647.6 810.4 L1649.1 813.8 L1650.7 817.2 L1652.2 820.6 L1653.8 823.9 L1655.3 827.2 L1656.8 830.5 L1658.4 833.8 L1659.9 837.1 L1661.5 840.3 L1663.0 843.5 L1664.5 846.7 L1666.1 849.9 L1667.6 853.0 L1669.2 856.2 L1670.7 859.3 L1672.3 862.5 L1673.8 865.6 L1675.3 868.7 L1676.9 871.8 L1678.4 874.8 L1680.0 877.9 L1681.5 880.8 L1683.0 883.8 L1684.6 886.7 L1686.1 889.5 L1687.7 892.3 L1689.2 895.1 L1690.8 897.8 L1692.3 900.4 L1693.8 903.0 L1695.4 905.6 L1696.9 908.1 L1698.5 910.7 L1700.0 913.2 L1701.5 915.7 L1703.1 918.2 L1704.6 920.7 L1706.2 923.1 L1707.7 925.5 L1709.3 927.9 L1710.8 930.2 L1712.3 932.4 L1713.9 934.6 L1715.4 936.8 L1717.0 938.9 L1718.5 940.9 L1720.0 942.9 L1721.6 944.8 L1723.1 946.6 L1724.7 948.4 L1726.2 950.1 L1727.8 951.7 L1729.3 953.2 L1730.8 954.7 L1732.4 956.1 L1733.9 957.5 L1735.5 958.9 L1737.0 960.2 L1738.5 961.5 L1740.1 962.8 L1741.6 964.1 L1743.2 965.4 L1744.7 966.7 L1746.3 968.0 L1747.8 969.4 L1749.3 970.8 L1750.9 972.1 L1752.4 973.5 L1754.0 974.9 L1755.5 976.2 L1757.0 977.5 L1758.6 978.7 L1760.1 979.9 L1761.7 981.1 L1763.2 982.2 L1764.8 983.2 L1766.3 984.3 L1767.8 985.4 L1769.4 986.4 L1770.9 987.3 L1772.5 988.2 L1774.0 989.0 L1775.5 989.8 L1777.1 990.4 L1778.6 991.0 L1780.2 991.6 L1781.7 992.1 L1783.3 992.7 L1784.8 993.2 L1786.3 993.6 L1787.9 994.1 L1789.4 994.5 L1791.0 994.9 L1792.5 995.4 L1794.0 995.8 L1795.6 996.2 L1797.1 996.6 L1798.7 997.0 L1800.2 997.4 L1801.7 997.8 L1803.3 998.2 L1804.8 998.5 L1806.4 998.9 L1807.9 999.2 L1809.5 999.4 L1811.0 999.6 L1812.5 999.8 L1814.1 1000.0 L1815.6 1000.1 L1817.2 1000.3 L1818.7 1000.4 L1820.2 1000.6 L1821.8 1000.7 L1823.3 1000.9 L1824.9 1001.0 L1826.4 1001.1 L1828.0 1001.3 L1829.5 1001.4 L1831.0 1001.5 L1832.6 1001.6 L1834.1 1001.7 L1835.7 1001.9 L1837.2 1002.0 L1838.7 1002.1 L1840.3 1002.2 L1841.8 1002.3 L1843.4 1002.4 L1844.9 1002.5 L1846.5 1002.6 L1848.0 1002.6 L1849.5 1002.7 L1851.1 1002.8 L1852.6 1002.9 L1854.2 1003.0 L1855.7 1003.0 L1857.2 1003.1 L1858.8 1003.2 L1860.3 1003.2 L1861.9 1003.3 L1863.4 1003.4 L1865.0 1003.4 L1866.5 1003.5 L1868.0 1003.5 L1869.6 1003.6 L1871.1 1003.6 L1872.7 1003.6 L1874.2 1003.7 L1875.7 1003.7 L1877.3 1003.7 L1878.8 1003.8 L1880.4 1003.8 L1881.9 1003.8 L1883.5 1003.9 L1885.0 1003.9 L1886.5 1003.9 L1888.1 1003.9 L1889.6 1004.0 L1891.2 1004.0 L1892.7 1004.0 L1894.2 1004.0 L1895.8 1004.1 L1897.3 1004.1 L1898.9 1004.1 L1900.4 1004.1 L1902.0 1004.1 L1903.5 1004.2 L1905.0 1004.2 L1906.6 1004.2 L1908.1 1004.2 L1909.7 1004.2 L1911.2 1004.3 L1912.7 1004.3 L1914.3 1004.3 L1915.8 1004.3 L1917.4 1004.3 L1918.9 1004.3 L1920.5 1004.3 L1922.0 1004.4 L1923.5 1004.4 L1925.1 1004.4 L1926.6 1004.4 L1928.2 1004.4 L1929.7 1004.4 L1931.2 1004.4 L1932.8 1004.4 L1934.3 1004.4 L1935.9 1004.5 L1937.4 1004.5 L1939.0 1004.5 L1940.5 1004.5 L1942.0 1004.5 L1943.6 1004.5 L1945.1 1004.5 L1946.7 1004.5 L1948.2 1004.5" stroke="#FF50CC" stroke-width="7.5"/>
<path d="M254.0 128.0 L255.5 128.0 L257.1 128.0 L258.6 128.0 L260.2 128.0 L261.7 128.0 L263.2 128.0 L264.8 128.0 L266.3 128.0 L267.9 128.0 L269.4 128.0 L271.0 128.0 L272.5 128.0 L274.0 128.0 L275.6 128.0 L277.1 128.1 L278.7 128.1 L280.2 128.1 L281.7 128.1 L283.3 128.1 L284.8 128.1 L286.4 128.1 L287.9 128.1 L289.5 128.1 L291.0 128.1 L292.5 128.1 L294.1 128.2 L295.6 128.2 L297.2 128.2 L298.7 128.2 L300.2 128.2 L301.8 128.2 L303.3 128.2 L304.9 128.3 L306.4 128.3 L308.0 128.3 L309.5 128.3 L311.0 128.3 L312.6 128.3 L314.1 128.3 L315.7 128.4 L317.2 128.4 L318.7 128.4 L320.3 128.4 L321.8 128.4 L323.4 128.4 L324.9 128.5 L326.5 128.5 L328.0 128.5 L329.5 128.5 L331.1 128.5 L332.6 128.6 L334.2 128.6 L335.7 128.6 L337.2 128.6 L338.8 128.6 L340.3 128.7 L341.9 128.7 L343.4 128.7 L345.0 128.7 L346.5 128.7 L348.0 128.8 L349.6 128.8 L351.1 128.8 L352.7 128.8 L354.2 128.8 L355.7 128.9 L357.3 128.9 L358.8 128.9 L360.4 128.9 L361.9 129.0 L363.5 129.0 L365.0 129.0 L366.5 129.0 L368.1 129.0 L369.6 129.1 L371.2 129.1 L372.7 129.1 L374.2 129.1 L375.8 129.2 L377.3 129.2 L378.9 129.2 L380.4 129.2 L382.0 129.2 L383.5 129.3 L385.0 129.3 L386.6 129.3 L388.1 129.3 L389.7 129.4 L391.2 129.4 L392.7 129.4 L394.3 129.4 L395.8 129.5 L397.4 129.5 L398.9 129.5 L400.5 129.5 L402.0 129.5 L403.5 129.6 L405.1 129.6 L406.6 129.6 L408.2 129.6 L409.7 129.7 L411.2 129.7 L412.8 129.7 L414.3 129.7 L415.9 129.8 L417.4 129.8 L418.9 129.8 L420.5 129.8 L422.0 129.8 L423.6 129.9 L425.1 129.9 L426.7 129.9 L428.2 129.9 L429.7 129.9 L431.3 130.0 L432.8 130.0 L434.4 130.0 L435.9 130.0 L437.4 130.0 L439.0 130.1 L440.5 130.1 L442.1 130.1 L443.6 130.1 L445.2 130.1 L446.7 130.2 L448.2 130.2 L449.8 130.2 L451.3 130.2 L452.9 130.2 L454.4 130.3 L455.9 130.3 L457.5 130.3 L459.0 130.3 L460.6 130.3 L462.1 130.3 L463.7 130.4 L465.2 130.4 L466.7 130.4 L468.3 130.4 L469.8 130.4 L471.4 130.4 L472.9 130.5 L474.4 130.5 L476.0 130.5 L477.5 130.5 L479.1 130.5 L480.6 130.5 L482.2 130.6 L483.7 130.6 L485.2 130.6 L486.8 130.6 L488.3 130.6 L489.9 130.6 L491.4 130.7 L492.9 130.7 L494.5 130.7 L496.0 130.7 L497.6 130.7 L499.1 130.7 L500.7 130.8 L502.2 130.8 L503.7 130.8 L505.3 130.8 L506.8 130.8 L508.4 130.8 L509.9 130.9 L511.4 130.9 L513.0 130.9 L514.5 130.9 L516.1 130.9 L517.6 131.0 L519.2 131.0 L520.7 131.0 L522.2 131.0 L523.8 131.0 L525.3 131.0 L526.9 131.1 L528.4 131.1 L529.9 131.1 L531.5 131.1 L533.0 131.1 L534.6 131.1 L536.1 131.2 L537.7 131.2 L539.2 131.2 L540.7 131.2 L542.3 131.2 L543.8 131.3 L545.4 131.3 L546.9 131.3 L548.4 131.3 L550.0 131.3 L551.5 131.3 L553.1 131.4 L554.6 131.4 L556.2 131.4 L557.7 131.4 L559.2 131.4 L560.8 131.5 L562.3 131.5 L563.9 131.5 L565.4 131.5 L566.9 131.5 L568.5 131.6 L570.0 131.6 L571.6 131.6 L573.1 131.6 L574.6 131.6 L576.2 131.7 L577.7 131.7 L579.3 131.7 L580.8 131.7 L582.4 131.7 L583.9 131.8 L585.4 131.8 L587.0 131.8 L588.5 131.8 L590.1 131.9 L591.6 131.9 L593.1 131.9 L594.7 131.9 L596.2 131.9 L597.8 132.0 L599.3 132.0 L600.9 132.0 L602.4 132.0 L603.9 132.1 L605.5 132.1 L607.0 132.1 L608.6 132.1 L610.1 132.2 L611.6 132.2 L613.2 132.2 L614.7 132.2 L616.3 132.3 L617.8 132.3 L619.4 132.3 L620.9 132.4 L622.4 132.4 L624.0 132.4 L625.5 132.5 L627.1 132.5 L628.6 132.5 L630.1 132.5 L631.7 132.6 L633.2 132.6 L634.8 132.6 L636.3 132.7 L637.9 132.7 L639.4 132.7 L640.9 132.8 L642.5 132.8 L644.0 132.8 L645.6 132.9 L647.1 132.9 L648.6 132.9 L650.2 133.0 L651.7 133.0 L653.3 133.0 L654.8 133.1 L656.4 133.1 L657.9 133.1 L659.4 133.2 L661.0 133.2 L662.5 133.2 L664.1 133.3 L665.6 133.3 L667.1 133.3 L668.7 133.4 L670.2 133.4 L671.8 133.4 L673.3 133.5 L674.9 133.5 L676.4 133.5 L677.9 133.6 L679.5 133.6 L681.0 133.6 L682.6 133.7 L684.1 133.7 L685.6 133.7 L687.2 133.7 L688.7 133.8 L690.3 133.8 L691.8 133.8 L693.4 133.9 L694.9 133.9 L696.4 133.9 L698.0 133.9 L699.5 134.0 L701.1 134.0 L702.6 134.0 L704.1 134.1 L705.7 134.1 L707.2 134.1 L708.8 134.1 L710.3 134.2 L711.9 134.2 L713.4 134.2 L714.9 134.2 L716.5 134.2 L718.0 134.3 L719.6 134.3 L721.1 134.3 L722.6 134.3 L724.2 134.4 L725.7 134.4 L727.3 134.4 L728.8 134.4 L730.3 134.4 L731.9 134.5 L733.4 134.5 L735.0 134.5 L736.5 134.5 L738.1 134.5 L739.6 134.6 L741.1 134.6 L742.7 134.6 L744.2 134.6 L745.8 134.6 L747.3 134.7 L748.8 134.7 L750.4 134.7 L751.9 134.7 L753.5 134.7 L755.0 134.8 L756.6 134.8 L758.1 134.8 L759.6 134.8 L761.2 134.8 L762.7 134.9 L764.3 134.9 L765.8 134.9 L767.3 134.9 L768.9 135.0 L770.4 135.0 L772.0 135.0 L773.5 135.0 L775.1 135.1 L776.6 135.1 L778.1 135.1 L779.7 135.1 L781.2 135.2 L782.8 135.2 L784.3 135.2 L785.8 135.3 L787.4 135.3 L788.9 135.3 L790.5 135.4 L792.0 135.4 L793.6 135.4 L795.1 135.5 L796.6 135.5 L798.2 135.6 L799.7 135.6 L801.3 135.6 L802.8 135.7 L804.3 135.7 L805.9 135.8 L807.4 135.8 L809.0 135.9 L810.5 136.0 L812.1 136.0 L813.6 136.1 L815.1 136.2 L816.7 136.3 L818.2 136.3 L819.8 136.4 L821.3 136.5 L822.8 136.6 L824.4 136.7 L825.9 136.8 L827.5 136.9 L829.0 137.0 L830.6 137.1 L832.1 137.2 L833.6 137.3 L835.2 137.4 L836.7 137.5 L838.3 137.6 L839.8 137.7 L841.3 137.8 L842.9 137.9 L844.4 138.0 L846.0 138.1 L847.5 138.3 L849.1 138.4 L850.6 138.5 L852.1 138.6 L853.7 138.7 L855.2 138.8 L856.8 139.0 L858.3 139.1 L859.8 139.2 L861.4 139.3 L862.9 139.4 L864.5 139.5 L866.0 139.7 L867.6 139.8 L869.1 139.9 L870.6 140.0 L872.2 140.1 L873.7 140.2 L875.3 140.3 L876.8 140.5 L878.3 140.6 L879.9 140.7 L881.4 140.8 L883.0 140.9 L884.5 141.0 L886.0 141.1 L887.6 141.2 L889.1 141.3 L890.7 141.4 L892.2 141.6 L893.8 141.7 L895.3 141.8 L896.8 141.9 L898.4 142.0 L899.9 142.1 L901.5 142.2 L903.0 142.4 L904.5 142.5 L906.1 142.6 L907.6 142.7 L909.2 142.8 L910.7 142.9 L912.3 143.1 L913.8 143.2 L915.3 143.3 L916.9 143.4 L918.4 143.6 L920.0 143.7 L921.5 143.8 L923.0 143.9 L924.6 144.0 L926.1 144.2 L927.7 144.3 L929.2 144.4 L930.8 144.6 L932.3 144.7 L933.8 144.8 L935.4 144.9 L936.9 145.1 L938.5 145.2 L940.0 145.3 L941.5 145.5 L943.1 145.6 L944.6 145.7 L946.2 145.9 L947.7 146.0 L949.3 146.1 L950.8 146.3 L952.3 146.4 L953.9 146.5 L955.4 146.7 L957.0 146.8 L958.5 147.0 L960.0 147.1 L961.6 147.2 L963.1 147.4 L964.7 147.5 L966.2 147.6 L967.8 147.8 L969.3 147.9 L970.8 148.1 L972.4 148.2 L973.9 148.4 L975.5 148.5 L977.0 148.7 L978.5 148.8 L980.1 149.0 L981.6 149.1 L983.2 149.3 L984.7 149.4 L986.3 149.6 L987.8 149.8 L989.3 150.0 L990.9 150.1 L992.4 150.3 L994.0 150.5 L995.5 150.7 L997.0 150.8 L998.6 151.0 L1000.1 151.2 L1001.7 151.4 L1003.2 151.6 L1004.8 151.9 L1006.3 152.1 L1007.8 152.3 L1009.4 152.6 L1010.9 152.8 L1012.5 153.0 L1014.0 153.3 L1015.5 153.6 L1017.1 153.8 L1018.6 154.1 L1020.2 154.4 L1021.7 154.6 L1023.3 154.9 L1024.8 155.2 L1026.3 155.5 L1027.9 155.8 L1029.4 156.1 L1031.0 156.3 L1032.5 156.6 L1034.0 156.9 L1035.6 157.2 L1037.1 157.5 L1038.7 157.8 L1040.2 158.1 L1041.7 158.4 L1043.3 158.7 L1044.8 158.9 L1046.4 159.2 L1047.9 159.5 L1049.5 159.8 L1051.0 160.0 L1052.5 160.3 L1054.1 160.6 L1055.6 160.8 L1057.2 161.1 L1058.7 161.4 L1060.2 161.6 L1061.8 161.9 L1063.3 162.1 L1064.9 162.4 L1066.4 162.7 L1068.0 162.9 L1069.5 163.2 L1071.0 163.5 L1072.6 163.8 L1074.1 164.1 L1075.7 164.3 L1077.2 164.6 L1078.7 164.9 L1080.3 165.3 L1081.8 165.6 L1083.4 165.9 L1084.9 166.2 L1086.5 166.5 L1088.0 166.9 L1089.5 167.2 L1091.1 167.5 L1092.6 167.9 L1094.2 168.2 L1095.7 168.6 L1097.2 168.9 L1098.8 169.3 L1100.3 169.6 L1101.9 170.0 L1103.4 170.3 L1105.0 170.7 L1106.5 171.1 L1108.0 171.4 L1109.6 171.8 L1111.1 172.2 L1112.7 172.6 L1114.2 173.0 L1115.7 173.4 L1117.3 173.8 L1118.8 174.2 L1120.4 174.6 L1121.9 175.0 L1123.5 175.4 L1125.0 175.8 L1126.5 176.3 L1128.1 176.7 L1129.6 177.1 L1131.2 177.6 L1132.7 178.0 L1134.2 178.5 L1135.8 178.9 L1137.3 179.4 L1138.9 179.9 L1140.4 180.3 L1142.0 180.8 L1143.5 181.3 L1145.0 181.8 L1146.6 182.4 L1148.1 182.9 L1149.7 183.4 L1151.2 184.0 L1152.7 184.5 L1154.3 185.1 L1155.8 185.7 L1157.4 186.3 L1158.9 186.9 L1160.5 187.5 L1162.0 188.1 L1163.5 188.7 L1165.1 189.4 L1166.6 190.0 L1168.2 190.6 L1169.7 191.3 L1171.2 191.9 L1172.8 192.6 L1174.3 193.2 L1175.9 193.9 L1177.4 194.6 L1178.9 195.2 L1180.5 195.9 L1182.0 196.6 L1183.6 197.2 L1185.1 197.9 L1186.7 198.6 L1188.2 199.3 L1189.7 199.9 L1191.3 200.6 L1192.8 201.3 L1194.4 201.9 L1195.9 202.6 L1197.4 203.3 L1199.0 203.9 L1200.5 204.6 L1202.1 205.2 L1203.6 205.9 L1205.2 206.5 L1206.7 207.2 L1208.2 207.8 L1209.8 208.5 L1211.3 209.1 L1212.9 209.7 L1214.4 210.4 L1215.9 211.0 L1217.5 211.7 L1219.0 212.4 L1220.6 213.0 L1222.1 213.7 L1223.7 214.3 L1225.2 215.0 L1226.7 215.7 L1228.3 216.4 L1229.8 217.0 L1231.4 217.7 L1232.9 218.4 L1234.4 219.1 L1236.0 219.8 L1237.5 220.5 L1239.1 221.3 L1240.6 222.0 L1242.2 222.7 L1243.7 223.5 L1245.2 224.2 L1246.8 225.0 L1248.3 225.8 L1249.9 226.6 L1251.4 227.4 L1252.9 228.2 L1254.5 229.0 L1256.0 229.8 L1257.6 230.7 L1259.1 231.5 L1260.7 232.4 L1262.2 233.3 L1263.7 234.1 L1265.3 235.0 L1266.8 235.9 L1268.4 236.8 L1269.9 237.8 L1271.4 238.7 L1273.0 239.6 L1274.5 240.6 L1276.1 241.5 L1277.6 242.5 L1279.2 243.4 L1280.7 244.4 L1282.2 245.4 L1283.8 246.4 L1285.3 247.4 L1286.9 248.4 L1288.4 249.4 L1289.9 250.4 L1291.5 251.5 L1293.0 252.5 L1294.6 253.5 L1296.1 254.6 L1297.7 255.6 L1299.2 256.7 L1300.7 257.8 L1302.3 258.9 L1303.8 260.0 L1305.4 261.1 L1306.9 262.2 L1308.4 263.4 L1310.0 264.6 L1311.5 265.7 L1313.1 266.9 L1314.6 268.2 L1316.2 269.4 L1317.7 270.6 L1319.2 271.8 L1320.8 273.1 L1322.3 274.3 L1323.9 275.6 L1325.4 276.9 L1326.9 278.1 L1328.5 279.4 L1330.0 280.7 L1331.6 282.0 L1333.1 283.3 L1334.6 284.6 L1336.2 285.9 L1337.7 287.2 L1339.3 288.4 L1340.8 289.7 L1342.4 291.0 L1343.9 292.3 L1345.4 293.5 L1347.0 294.8 L1348.5 296.0 L1350.1 297.3 L1351.6 298.5 L1353.1 299.8 L1354.7 301.1 L1356.2 302.4 L1357.8 303.7 L1359.3 305.1 L1360.9 306.4 L1362.4 307.8 L1363.9 309.3 L1365.5 310.8 L1367.0 312.3 L1368.6 313.9 L1370.1 315.5 L1371.6 317.3 L1373.2 319.1 L1374.7 321.1 L1376.3 323.1 L1377.8 325.2 L1379.4 327.4 L1380.9 329.5 L1382.4 331.7 L1384.0 333.9 L1385.5 336.0 L1387.1 338.1 L1388.6 340.2 L1390.1 342.2 L1391.7 344.2 L1393.2 346.1 L1394.8 348.1 L1396.3 350.1 L1397.9 352.0 L1399.4 353.9 L1400.9 355.8 L1402.5 357.7 L1404.0 359.7 L1405.6 361.6 L1407.1 363.5 L1408.6 365.4 L1410.2 367.3 L1411.7 369.2 L1413.3 371.1 L1414.8 373.0 L1416.4 374.9 L1417.9 376.8 L1419.4 378.8 L1421.0 380.7 L1422.5 382.7 L1424.1 384.6 L1425.6 386.6 L1427.1 388.6 L1428.7 390.7 L1430.2 392.7 L1431.8 394.7 L1433.3 396.8 L1434.9 398.9 L1436.4 401.1 L1437.9 403.2 L1439.5 405.3 L1441.0 407.5 L1442.6 409.7 L1444.1 411.9 L1445.6 414.1 L1447.2 416.3 L1448.7 418.6 L1450.3 420.8 L1451.8 423.1 L1453.4 425.3 L1454.9 427.6 L1456.4 429.9 L1458.0 432.2 L1459.5 434.5 L1461.1 436.9 L1462.6 439.2 L1464.1 441.6 L1465.7 443.9 L1467.2 446.3 L1468.8 448.7 L1470.3 451.1 L1471.9 453.5 L1473.4 455.9 L1474.9 458.3 L1476.5 460.8 L1478.0 463.2 L1479.6 465.7 L1481.1 468.1 L1482.6 470.6 L1484.2 473.1 L1485.7 475.6 L1487.3 478.1 L1488.8 480.6 L1490.3 483.1 L1491.9 485.7 L1493.4 488.3 L1495.0 490.9 L1496.5 493.5 L1498.1 496.1 L1499.6 498.7 L1501.1 501.3 L1502.7 504.0 L1504.2 506.7 L1505.8 509.3 L1507.3 512.0 L1508.8 514.7 L1510.4 517.4 L1511.9 520.2 L1513.5 522.9 L1515.0 525.6 L1516.6 528.3 L1518.1 531.1 L1519.6 533.8 L1521.2 536.6 L1522.7 539.3 L1524.3 542.1 L1525.8 544.9 L1527.3 547.6 L1528.9 550.4 L1530.4 553.2 L1532.0 555.9 L1533.5 558.7 L1535.1 561.5 L1536.6 564.3 L1538.1 567.1 L1539.7 569.9 L1541.2 572.7 L1542.8 575.5 L1544.3 578.3 L1545.8 581.1 L1547.4 584.0 L1548.9 586.8 L1550.5 589.7 L1552.0 592.5 L1553.6 595.4 L1555.1 598.3 L1556.6 601.2 L1558.2 604.1 L1559.7 607.1 L1561.3 610.0 L1562.8 613.0 L1564.3 616.0 L1565.9 619.0 L1567.4 622.0 L1569.0 625.0 L1570.5 628.1 L1572.1 631.1 L1573.6 634.2 L1575.1 637.3 L1576.7 640.4 L1578.2 643.5 L1579.8 646.6 L1581.3 649.8 L1582.8 652.9 L1584.4 656.1 L1585.9 659.3 L1587.5 662.5 L1589.0 665.7 L1590.6 669.0 L1592.1 672.2 L1593.6 675.5 L1595.2 678.8 L1596.7 682.1 L1598.3 685.5 L1599.8 688.8 L1601.3 692.2 L1602.9 695.6 L1604.4 699.0 L1606.0 702.5 L1607.5 706.0 L1609.1 709.5 L1610.6 713.1 L1612.1 716.8 L1613.7 720.4 L1615.2 724.1 L1616.8 727.8 L1618.3 731.5 L1619.8 735.3 L1621.4 739.0 L1622.9 742.8 L1624.5 746.6 L1626.0 750.3 L1627.6 754.1 L1629.1 757.8 L1630.6 761.5 L1632.2 765.2 L1633.7 768.9 L1635.3 772.6 L1636.8 776.2 L1638.3 779.8 L1639.9 783.5 L1641.4 787.1 L1643.0 790.7 L1644.5 794.4 L1646.0 798.1 L1647.6 801.7 L1649.1 805.3 L1650.7 809.0 L1652.2 812.6 L1653.8 816.2 L1655.3 819.8 L1656.8 823.3 L1658.4 826.9 L1659.9 830.4 L1661.5 833.8 L1663.0 837.3 L1664.5 840.7 L1666.1 844.0 L1667.6 847.3 L1669.2 850.6 L1670.7 853.8 L1672.3 857.0 L1673.8 860.2 L1675.3 863.4 L1676.9 866.6 L1678.4 869.7 L1680.0 872.8 L1681.5 875.9 L1683.0 878.9 L1684.6 881.9 L1686.1 884.8 L1687.7 887.7 L1689.2 890.6 L1690.8 893.3 L1692.3 896.1 L1693.8 898.7 L1695.4 901.3 L1696.9 903.9 L1698.5 906.4 L1700.0 909.0 L1701.5 911.5 L1703.1 914.0 L1704.6 916.5 L1706.2 918.9 L1707.7 921.3 L1709.3 923.7 L1710.8 926.1 L1712.3 928.4 L1713.9 930.6 L1715.4 932.9 L1717.0 935.0 L1718.5 937.1 L1720.0 939.2 L1721.6 941.2 L1723.1 943.1 L1724.7 945.0 L1726.2 946.7 L1727.8 948.5 L1729.3 950.1 L1730.8 951.7 L1732.4 953.2 L1733.9 954.6 L1735.5 956.0 L1737.0 957.4 L1738.5 958.7 L1740.1 960.0 L1741.6 961.2 L1743.2 962.4 L1744.7 963.6 L1746.3 964.8 L1747.8 965.9 L1749.3 967.1 L1750.9 968.2 L1752.4 969.4 L1754.0 970.5 L1755.5 971.6 L1757.0 972.7 L1758.6 973.8 L1760.1 974.9 L1761.7 976.0 L1763.2 977.0 L1764.8 978.1 L1766.3 979.1 L1767.8 980.1 L1769.4 981.1 L1770.9 982.1 L1772.5 983.0 L1774.0 984.0 L1775.5 985.0 L1777.1 985.9 L1778.6 986.8 L1780.2 987.8 L1781.7 988.7 L1783.3 989.6 L1784.8 990.6 L1786.3 991.5 L1787.9 992.4 L1789.4 993.2 L1791.0 994.1 L1792.5 994.9 L1794.0 995.7 L1795.6 996.4 L1797.1 997.1 L1798.7 997.7 L1800.2 998.3 L1801.7 998.9 L1803.3 999.5 L1804.8 1000.1 L1806.4 1000.6 L1807.9 1001.1 L1809.5 1001.6 L1811.0 1002.0 L1812.5 1002.4 L1814.1 1002.7 L1815.6 1003.1 L1817.2 1003.4 L1818.7 1003.7 L1820.2 1004.0 L1821.8 1004.3 L1823.3 1004.6 L1824.9 1004.8 L1826.4 1005.0 L1828.0 1005.3 L1829.5 1005.4 L1831.0 1005.6 L1832.6 1005.8 L1834.1 1005.9 L1835.7 1006.1 L1837.2 1006.3 L1838.7 1006.4 L1840.3 1006.6 L1841.8 1006.7 L1843.4 1006.9 L1844.9 1007.0 L1846.5 1007.1 L1848.0 1007.3 L1849.5 1007.4 L1851.1 1007.5 L1852.6 1007.6 L1854.2 1007.7 L1855.7 1007.8 L1857.2 1007.9 L1858.8 1008.0 L1860.3 1008.1 L1861.9 1008.2 L1863.4 1008.3 L1865.0 1008.3 L1866.5 1008.4 L1868.0 1008.4 L1869.6 1008.5 L1871.1 1008.5 L1872.7 1008.6 L1874.2 1008.6 L1875.7 1008.6 L1877.3 1008.7 L1878.8 1008.7 L1880.4 1008.7 L1881.9 1008.8 L1883.5 1008.8 L1885.0 1008.8 L1886.5 1008.9 L1888.1 1008.9 L1889.6 1008.9 L1891.2 1008.9 L1892.7 1009.0 L1894.2 1009.0 L1895.8 1009.0 L1897.3 1009.0 L1898.9 1009.1 L1900.4 1009.1 L1902.0 1009.1 L1903.5 1009.1 L1905.0 1009.2 L1906.6 1009.2 L1908.1 1009.2 L1909.7 1009.2 L1911.2 1009.2 L1912.7 1009.3 L1914.3 1009.3 L1915.8 1009.3 L1917.4 1009.3 L1918.9 1009.3 L1920.5 1009.3 L1922.0 1009.4 L1923.5 1009.4 L1925.1 1009.4 L1926.6 1009.4 L1928.2 1009.4 L1929.7 1009.4 L1931.2 1009.4 L1932.8 1009.4 L1934.3 1009.4 L1935.9 1009.5 L1937.4 1009.5 L1939.0 1009.5 L1940.5 1009.5 L1942.0 1009.5 L1943.6 1009.5 L1945.1 1009.5 L1946.7 1009.5 L1948.2 1009.5" stroke="#FF0000" stroke-width="7.5"/>
<path d="M254.0 128.0 L255.5 128.0 L257.1 128.0 L258.6 128.0 L260.2 128.0 L261.7 128.0 L263.2 128.0 L264.8 128.0 L266.3 128.0 L267.9 128.0 L269.4 128.0 L271.0 128.0 L272.5 128.0 L274.0 128.0 L275.6 128.0 L277.1 128.1 L278.7 128.1 L280.2 128.1 L281.7 128.1 L283.3 128.1 L284.8 128.1 L286.4 128.1 L287.9 128.1 L289.5 128.1 L291.0 128.1 L292.5 128.1 L294.1 128.2 L295.6 128.2 L297.2 128.2 L298.7 128.2 L300.2 128.2 L301.8 128.2 L303.3 128.2 L304.9 128.3 L306.4 128.3 L308.0 128.3 L309.5 128.3 L311.0 128.3 L312.6 128.3 L314.1 128.3 L315.7 128.4 L317.2 128.4 L318.7 128.4 L320.3 128.4 L321.8 128.4 L323.4 128.4 L324.9 128.5 L326.5 128.5 L328.0 128.5 L329.5 128.5 L331.1 128.5 L332.6 128.6 L334.2 128.6 L335.7 128.6 L337.2 128.6 L338.8 128.6 L340.3 128.7 L341.9 128.7 L343.4 128.7 L345.0 128.7 L346.5 128.7 L348.0 128.8 L349.6 128.8 L351.1 128.8 L352.7 128.8 L354.2 128.8 L355.7 128.9 L357.3 128.9 L358.8 128.9 L360.4 128.9 L361.9 129.0 L363.5 129.0 L365.0 129.0 L366.5 129.0 L368.1 129.0 L369.6 129.1 L371.2 129.1 L372.7 129.1 L374.2 129.1 L375.8 129.2 L377.3 129.2 L378.9 129.2 L380.4 129.2 L382.0 129.2 L383.5 129.3 L385.0 129.3 L386.6 129.3 L388.1 129.3 L389.7 129.4 L391.2 129.4 L392.7 129.4 L394.3 129.4 L395.8 129.5 L397.4 129.5 L398.9 129.5 L400.5 129.5 L402.0 129.5 L403.5 129.6 L405.1 129.6 L406.6 129.6 L408.2 129.6 L409.7 129.7 L411.2 129.7 L412.8 129.7 L414.3 129.7 L415.9 129.8 L417.4 129.8 L418.9 129.8 L420.5 129.8 L422.0 129.8 L423.6 129.9 L425.1 129.9 L426.7 129.9 L428.2 129.9 L429.7 129.9 L431.3 130.0 L432.8 130.0 L434.4 130.0 L435.9 130.0 L437.4 130.0 L439.0 130.1 L440.5 130.1 L442.1 130.1 L443.6 130.1 L445.2 130.1 L446.7 130.2 L448.2 130.2 L449.8 130.2 L451.3 130.2 L452.9 130.2 L454.4 130.3 L455.9 130.3 L457.5 130.3 L459.0 130.3 L460.6 130.3 L462.1 130.3 L463.7 130.4 L465.2 130.4 L466.7 130.4 L468.3 130.4 L469.8 130.4 L471.4 130.4 L472.9 130.5 L474.4 130.5 L476.0 130.5 L477.5 130.5 L479.1 130.5 L480.6 130.5 L482.2 130.6 L483.7 130.6 L485.2 130.6 L486.8 130.6 L488.3 130.6 L489.9 130.6 L491.4 130.7 L492.9 130.7 L494.5 130.7 L496.0 130.7 L497.6 130.7 L499.1 130.7 L500.7 130.8 L502.2 130.8 L503.7 130.8 L505.3 130.8 L506.8 130.8 L508.4 130.8 L509.9 130.9 L511.4 130.9 L513.0 130.9 L514.5 130.9 L516.1 130.9 L517.6 131.0 L519.2 131.0 L520.7 131.0 L522.2 131.0 L523.8 131.0 L525.3 131.0 L526.9 131.1 L528.4 131.1 L529.9 131.1 L531.5 131.1 L533.0 131.1 L534.6 131.1 L536.1 131.2 L537.7 131.2 L539.2 131.2 L540.7 131.2 L542.3 131.2 L543.8 131.3 L545.4 131.3 L546.9 131.3 L548.4 131.3 L550.0 131.3 L551.5 131.3 L553.1 131.4 L554.6 131.4 L556.2 131.4 L557.7 131.4 L559.2 131.4 L560.8 131.5 L562.3 131.5 L563.9 131.5 L565.4 131.5 L566.9 131.5 L568.5 131.6 L570.0 131.6 L571.6 131.6 L573.1 131.6 L574.6 131.6 L576.2 131.7 L577.7 131.7 L579.3 131.7 L580.8 131.7 L582.4 131.7 L583.9 131.8 L585.4 131.8 L587.0 131.8 L588.5 131.8 L590.1 131.9 L591.6 131.9 L593.1 131.9 L594.7 131.9 L596.2 131.9 L597.8 132.0 L599.3 132.0 L600.9 132.0 L602.4 132.0 L603.9 132.1 L605.5 132.1 L607.0 132.1 L608.6 132.1 L610.1 132.2 L611.6 132.2 L613.2 132.2 L614.7 132.2 L616.3 132.3 L617.8 132.3 L619.4 132.3 L620.9 132.4 L622.4 132.4 L624.0 132.4 L625.5 132.5 L627.1 132.5 L628.6 132.5 L630.1 132.5 L631.7 132.6 L633.2 132.6 L634.8 132.6 L636.3 132.7 L637.9 132.7 L639.4 132.7 L640.9 132.8 L642.5 132.8 L644.0 132.8 L645.6 132.9 L647.1 132.9 L648.6 132.9 L650.2 133.0 L651.7 133.0 L653.3 133.0 L654.8 133.1 L656.4 133.1 L657.9 133.1 L659.4 133.2 L661.0 133.2 L662.5 133.2 L664.1 133.3 L665.6 133.3 L667.1 133.3 L668.7 133.4 L670.2 133.4 L671.8 133.4 L673.3 133.5 L674.9 133.5 L676.4 133.5 L677.9 133.6 L679.5 133.6 L681.0 133.6 L682.6 133.7 L684.1 133.7 L685.6 133.7 L687.2 133.7 L688.7 133.8 L690.3 133.8 L691.8 133.8 L693.4 133.9 L694.9 133.9 L696.4 133.9 L698.0 133.9 L699.5 134.0 L701.1 134.0 L702.6 134.0 L704.1 134.1 L705.7 134.1 L707.2 134.1 L708.8 134.1 L710.3 134.2 L711.9 134.2 L713.4 134.2 L714.9 134.2 L716.5 134.3 L718.0 134.3 L719.6 134.3 L721.1 134.3 L722.6 134.3 L724.2 134.4 L725.7 134.4 L727.3 134.4 L728.8 134.4 L730.3 134.4 L731.9 134.5 L733.4 134.5 L735.0 134.5 L736.5 134.5 L738.1 134.5 L739.6 134.6 L741.1 134.6 L742.7 134.6 L744.2 134.6 L745.8 134.6 L747.3 134.7 L748.8 134.7 L750.4 134.7 L751.9 134.7 L753.5 134.8 L755.0 134.8 L756.6 134.8 L758.1 134.8 L759.6 134.8 L761.2 134.9 L762.7 134.9 L764.3 134.9 L765.8 134.9 L767.3 135.0 L768.9 135.0 L770.4 135.0 L772.0 135.0 L773.5 135.1 L775.1 135.1 L776.6 135.1 L778.1 135.1 L779.7 135.2 L781.2 135.2 L782.8 135.2 L784.3 135.3 L785.8 135.3 L787.4 135.3 L788.9 135.3 L790.5 135.4 L792.0 135.4 L793.6 135.4 L795.1 135.5 L796.6 135.5 L798.2 135.6 L799.7 135.6 L801.3 135.6 L802.8 135.7 L804.3 135.7 L805.9 135.8 L807.4 135.8 L809.0 135.9 L810.5 135.9 L812.1 136.0 L813.6 136.0 L815.1 136.1 L816.7 136.2 L818.2 136.2 L819.8 136.3 L821.3 136.4 L822.8 136.4 L824.4 136.5 L825.9 136.6 L827.5 136.6 L829.0 136.7 L830.6 136.8 L832.1 136.9 L833.6 136.9 L835.2 137.0 L836.7 137.1 L838.3 137.2 L839.8 137.3 L841.3 137.4 L842.9 137.4 L844.4 137.5 L846.0 137.6 L847.5 137.7 L849.1 137.8 L850.6 137.9 L852.1 137.9 L853.7 138.0 L855.2 138.1 L856.8 138.2 L858.3 138.3 L859.8 138.4 L861.4 138.5 L862.9 138.6 L864.5 138.6 L866.0 138.7 L867.6 138.8 L869.1 138.9 L870.6 139.0 L872.2 139.1 L873.7 139.1 L875.3 139.2 L876.8 139.3 L878.3 139.4 L879.9 139.5 L881.4 139.5 L883.0 139.6 L884.5 139.7 L886.0 139.8 L887.6 139.9 L889.1 140.0 L890.7 140.0 L892.2 140.1 L893.8 140.2 L895.3 140.3 L896.8 140.4 L898.4 140.5 L899.9 140.5 L901.5 140.6 L903.0 140.7 L904.5 140.8 L906.1 140.9 L907.6 141.0 L909.2 141.1 L910.7 141.1 L912.3 141.2 L913.8 141.3 L915.3 141.4 L916.9 141.5 L918.4 141.6 L920.0 141.7 L921.5 141.8 L923.0 141.8 L924.6 141.9 L926.1 142.0 L927.7 142.1 L929.2 142.2 L930.8 142.3 L932.3 142.4 L933.8 142.4 L935.4 142.5 L936.9 142.6 L938.5 142.7 L940.0 142.8 L941.5 142.9 L943.1 143.0 L944.6 143.0 L946.2 143.1 L947.7 143.2 L949.3 143.3 L950.8 143.4 L952.3 143.5 L953.9 143.5 L955.4 143.6 L957.0 143.7 L958.5 143.8 L960.0 143.8 L961.6 143.9 L963.1 144.0 L964.7 144.1 L966.2 144.1 L967.8 144.2 L969.3 144.3 L970.8 144.4 L972.4 144.4 L973.9 144.5 L975.5 144.6 L977.0 144.7 L978.5 144.7 L980.1 144.8 L981.6 144.9 L983.2 145.0 L984.7 145.0 L986.3 145.1 L987.8 145.2 L989.3 145.3 L990.9 145.4 L992.4 145.5 L994.0 145.6 L995.5 145.7 L997.0 145.8 L998.6 145.9 L1000.1 146.0 L1001.7 146.1 L1003.2 146.2 L1004.8 146.3 L1006.3 146.5 L1007.8 146.6 L1009.4 146.7 L1010.9 146.9 L1012.5 147.0 L1014.0 147.2 L1015.5 147.3 L1017.1 147.5 L1018.6 147.7 L1020.2 147.8 L1021.7 148.0 L1023.3 148.1 L1024.8 148.3 L1026.3 148.5 L1027.9 148.7 L1029.4 148.8 L1031.0 149.0 L1032.5 149.2 L1034.0 149.4 L1035.6 149.6 L1037.1 149.7 L1038.7 149.9 L1040.2 150.1 L1041.7 150.3 L1043.3 150.5 L1044.8 150.7 L1046.4 150.8 L1047.9 151.0 L1049.5 151.2 L1051.0 151.4 L1052.5 151.6 L1054.1 151.7 L1055.6 151.9 L1057.2 152.1 L1058.7 152.3 L1060.2 152.5 L1061.8 152.6 L1063.3 152.8 L1064.9 153.0 L1066.4 153.2 L1068.0 153.4 L1069.5 153.6 L1071.0 153.8 L1072.6 154.0 L1074.1 154.2 L1075.7 154.4 L1077.2 154.7 L1078.7 154.9 L1080.3 155.1 L1081.8 155.3 L1083.4 155.6 L1084.9 155.8 L1086.5 156.1 L1088.0 156.3 L1089.5 156.6 L1091.1 156.8 L1092.6 157.1 L1094.2 157.3 L1095.7 157.6 L1097.2 157.9 L1098.8 158.1 L1100.3 158.4 L1101.9 158.7 L1103.4 159.0 L1105.0 159.3 L1106.5 159.6 L1108.0 159.8 L1109.6 160.1 L1111.1 160.4 L1112.7 160.8 L1114.2 161.1 L1115.7 161.4 L1117.3 161.7 L1118.8 162.0 L1120.4 162.4 L1121.9 162.7 L1123.5 163.0 L1125.0 163.4 L1126.5 163.7 L1128.1 164.1 L1129.6 164.4 L1131.2 164.8 L1132.7 165.2 L1134.2 165.6 L1135.8 165.9 L1137.3 166.3 L1138.9 166.7 L1140.4 167.1 L1142.0 167.5 L1143.5 168.0 L1145.0 168.4 L1146.6 168.9 L1148.1 169.3 L1149.7 169.8 L1151.2 170.3 L1152.7 170.8 L1154.3 171.3 L1155.8 171.8 L1157.4 172.4 L1158.9 172.9 L1160.5 173.5 L1162.0 174.0 L1163.5 174.6 L1165.1 175.2 L1166.6 175.8 L1168.2 176.4 L1169.7 177.0 L1171.2 177.6 L1172.8 178.2 L1174.3 178.8 L1175.9 179.4 L1177.4 180.1 L1178.9 180.7 L1180.5 181.3 L1182.0 182.0 L1183.6 182.6 L1185.1 183.2 L1186.7 183.9 L1188.2 184.5 L1189.7 185.1 L1191.3 185.8 L1192.8 186.4 L1194.4 187.1 L1195.9 187.7 L1197.4 188.3 L1199.0 188.9 L1200.5 189.6 L1202.1 190.2 L1203.6 190.8 L1205.2 191.4 L1206.7 192.0 L1208.2 192.7 L1209.8 193.3 L1211.3 193.9 L1212.9 194.5 L1214.4 195.2 L1215.9 195.8 L1217.5 196.5 L1219.0 197.1 L1220.6 197.7 L1222.1 198.4 L1223.7 199.0 L1225.2 199.7 L1226.7 200.4 L1228.3 201.0 L1229.8 201.7 L1231.4 202.4 L1232.9 203.1 L1234.4 203.7 L1236.0 204.4 L1237.5 205.1 L1239.1 205.8 L1240.6 206.6 L1242.2 207.3 L1243.7 208.0 L1245.2 208.7 L1246.8 209.5 L1248.3 210.2 L1249.9 211.0 L1251.4 211.8 L1252.9 212.5 L1254.5 213.3 L1256.0 214.1 L1257.6 214.9 L1259.1 215.7 L1260.7 216.5 L1262.2 217.3 L1263.7 218.2 L1265.3 219.0 L1266.8 219.9 L1268.4 220.7 L1269.9 221.6 L1271.4 222.5 L1273.0 223.3 L1274.5 224.2 L1276.1 225.1 L1277.6 226.0 L1279.2 226.9 L1280.7 227.8 L1282.2 228.7 L1283.8 229.7 L1285.3 230.6 L1286.9 231.5 L1288.4 232.5 L1289.9 233.4 L1291.5 234.4 L1293.0 235.3 L1294.6 236.3 L1296.1 237.3 L1297.7 238.3 L1299.2 239.3 L1300.7 240.2 L1302.3 241.3 L1303.8 242.3 L1305.4 243.3 L1306.9 244.3 L1308.4 245.4 L1310.0 246.5 L1311.5 247.5 L1313.1 248.6 L1314.6 249.7 L1316.2 250.8 L1317.7 251.9 L1319.2 253.1 L1320.8 254.2 L1322.3 255.3 L1323.9 256.5 L1325.4 257.6 L1326.9 258.8 L1328.5 259.9 L1330.0 261.1 L1331.6 262.3 L1333.1 263.5 L1334.6 264.6 L1336.2 265.8 L1337.7 267.0 L1339.3 268.2 L1340.8 269.4 L1342.4 270.6 L1343.9 271.8 L1345.4 273.0 L1347.0 274.2 L1348.5 275.4 L1350.1 276.7 L1351.6 277.9 L1353.1 279.2 L1354.7 280.4 L1356.2 281.7 L1357.8 283.0 L1359.3 284.3 L1360.9 285.5 L1362.4 286.8 L1363.9 288.2 L1365.5 289.5 L1367.0 290.8 L1368.6 292.2 L1370.1 293.5 L1371.6 294.9 L1373.2 296.2 L1374.7 297.6 L1376.3 299.0 L1377.8 300.3 L1379.4 301.7 L1380.9 303.1 L1382.4 304.5 L1384.0 305.9 L1385.5 307.3 L1387.1 308.7 L1388.6 310.1 L1390.1 311.6 L1391.7 313.0 L1393.2 314.5 L1394.8 315.9 L1396.3 317.4 L1397.9 318.9 L1399.4 320.4 L1400.9 321.9 L1402.5 323.4 L1404.0 324.9 L1405.6 326.5 L1407.1 328.0 L1408.6 329.6 L1410.2 331.2 L1411.7 332.8 L1413.3 334.4 L1414.8 336.1 L1416.4 337.7 L1417.9 339.4 L1419.4 341.1 L1421.0 342.8 L1422.5 344.5 L1424.1 346.3 L1425.6 348.1 L1427.1 349.9 L1428.7 351.7 L1430.2 353.5 L1431.8 355.4 L1433.3 357.2 L1434.9 359.1 L1436.4 361.0 L1437.9 363.0 L1439.5 364.9 L1441.0 366.9 L1442.6 368.8 L1444.1 370.8 L1445.6 372.8 L1447.2 374.9 L1448.7 376.9 L1450.3 378.9 L1451.8 381.0 L1453.4 383.1 L1454.9 385.2 L1456.4 387.3 L1458.0 389.4 L1459.5 391.5 L1461.1 393.6 L1462.6 395.8 L1464.1 397.9 L1465.7 400.1 L1467.2 402.2 L1468.8 404.4 L1470.3 406.7 L1471.9 408.9 L1473.4 411.1 L1474.9 413.4 L1476.5 415.7 L1478.0 418.0 L1479.6 420.3 L1481.1 422.7 L1482.6 425.0 L1484.2 427.4 L1485.7 429.8 L1487.3 432.2 L1488.8 434.6 L1490.3 437.1 L1491.9 439.5 L1493.4 442.0 L1495.0 444.5 L1496.5 446.9 L1498.1 449.4 L1499.6 451.9 L1501.1 454.5 L1502.7 457.0 L1504.2 459.5 L1505.8 462.1 L1507.3 464.7 L1508.8 467.2 L1510.4 469.8 L1511.9 472.4 L1513.5 475.0 L1515.0 477.6 L1516.6 480.3 L1518.1 482.9 L1519.6 485.6 L1521.2 488.2 L1522.7 490.9 L1524.3 493.7 L1525.8 496.4 L1527.3 499.1 L1528.9 501.9 L1530.4 504.7 L1532.0 507.5 L1533.5 510.3 L1535.1 513.1 L1536.6 515.9 L1538.1 518.8 L1539.7 521.6 L1541.2 524.5 L1542.8 527.4 L1544.3 530.3 L1545.8 533.2 L1547.4 536.1 L1548.9 539.0 L1550.5 541.9 L1552.0 544.9 L1553.6 547.9 L1555.1 550.8 L1556.6 553.8 L1558.2 556.8 L1559.7 559.8 L1561.3 562.9 L1562.8 565.9 L1564.3 569.0 L1565.9 572.1 L1567.4 575.2 L1569.0 578.3 L1570.5 581.5 L1572.1 584.6 L1573.6 587.8 L1575.1 590.9 L1576.7 594.1 L1578.2 597.3 L1579.8 600.5 L1581.3 603.8 L1582.8 607.0 L1584.4 610.2 L1585.9 613.5 L1587.5 616.7 L1589.0 620.0 L1590.6 623.2 L1592.1 626.5 L1593.6 629.8 L1595.2 633.1 L1596.7 636.5 L1598.3 639.9 L1599.8 643.3 L1601.3 646.7 L1602.9 650.1 L1604.4 653.5 L1606.0 657.0 L1607.5 660.4 L1609.1 663.9 L1610.6 667.3 L1612.1 670.8 L1613.7 674.2 L1615.2 677.7 L1616.8 681.1 L1618.3 684.5 L1619.8 687.9 L1621.4 691.3 L1622.9 694.7 L1624.5 698.1 L1626.0 701.4 L1627.6 704.8 L1629.1 708.1 L1630.6 711.4 L1632.2 714.7 L1633.7 718.1 L1635.3 721.4 L1636.8 724.7 L1638.3 728.0 L1639.9 731.3 L1641.4 734.6 L1643.0 737.9 L1644.5 741.2 L1646.0 744.5 L1647.6 747.7 L1649.1 751.0 L1650.7 754.2 L1652.2 757.5 L1653.8 760.7 L1655.3 763.9 L1656.8 767.1 L1658.4 770.3 L1659.9 773.5 L1661.5 776.6 L1663.0 779.8 L1664.5 782.9 L1666.1 786.1 L1667.6 789.2 L1669.2 792.3 L1670.7 795.4 L1672.3 798.5 L1673.8 801.6 L1675.3 804.6 L1676.9 807.7 L1678.4 810.8 L1680.0 813.8 L1681.5 816.9 L1683.0 819.9 L1684.6 822.9 L1686.1 825.9 L1687.7 829.0 L1689.2 832.0 L1690.8 835.0 L1692.3 838.0 L1693.8 841.0 L1695.4 844.0 L1696.9 846.9 L1698.5 849.9 L1700.0 852.9 L1701.5 855.9 L1703.1 859.0 L1704.6 862.0 L1706.2 865.0 L1707.7 868.1 L1709.3 871.1 L1710.8 874.1 L1712.3 877.1 L1713.9 880.0 L1715.4 883.0 L1717.0 885.9 L1718.5 888.7 L1720.0 891.5 L1721.6 894.2 L1723.1 896.9 L1724.7 899.5 L1726.2 902.1 L1727.8 904.6 L1729.3 907.2 L1730.8 909.7 L1732.4 912.2 L1733.9 914.6 L1735.5 917.1 L1737.0 919.5 L1738.5 921.9 L1740.1 924.3 L1741.6 926.6 L1743.2 928.9 L1744.7 931.2 L1746.3 933.4 L1747.8 935.6 L1749.3 937.7 L1750.9 939.8 L1752.4 941.9 L1754.0 943.8 L1755.5 945.8 L1757.0 947.7 L1758.6 949.5 L1760.1 951.3 L1761.7 953.0 L1763.2 954.7 L1764.8 956.3 L1766.3 957.9 L1767.8 959.4 L1769.4 960.9 L1770.9 962.4 L1772.5 963.8 L1774.0 965.2 L1775.5 966.6 L1777.1 968.0 L1778.6 969.4 L1780.2 970.8 L1781.7 972.2 L1783.3 973.6 L1784.8 974.9 L1786.3 976.3 L1787.9 977.7 L1789.4 979.0 L1791.0 980.3 L1792.5 981.5 L1794.0 982.8 L1795.6 983.9 L1797.1 985.0 L1798.7 986.1 L1800.2 987.1 L1801.7 988.0 L1803.3 988.9 L1804.8 989.8 L1806.4 990.6 L1807.9 991.5 L1809.5 992.3 L1811.0 993.0 L1812.5 993.7 L1814.1 994.4 L1815.6 995.1 L1817.2 995.7 L1818.7 996.3 L1820.2 996.8 L1821.8 997.4 L1823.3 997.9 L1824.9 998.4 L1826.4 998.8 L1828.0 999.3 L1829.5 999.7 L1831.0 1000.1 L1832.6 1000.5 L1834.1 1000.8 L1835.7 1001.1 L1837.2 1001.5 L1838.7 1001.8 L1840.3 1002.1 L1841.8 1002.4 L1843.4 1002.6 L1844.9 1002.9 L1846.5 1003.1 L1848.0 1003.4 L1849.5 1003.5 L1851.1 1003.7 L1852.6 1003.9 L1854.2 1004.1 L1855.7 1004.2 L1857.2 1004.4 L1858.8 1004.6 L1860.3 1004.7 L1861.9 1004.9 L1863.4 1005.0 L1865.0 1005.2 L1866.5 1005.3 L1868.0 1005.4 L1869.6 1005.5 L1871.1 1005.6 L1872.7 1005.7 L1874.2 1005.8 L1875.7 1005.9 L1877.3 1005.9 L1878.8 1006.0 L1880.4 1006.0 L1881.9 1006.0 L1883.5 1006.1 L1885.0 1006.1 L1886.5 1006.1 L1888.1 1006.1 L1889.6 1006.1 L1891.2 1006.2 L1892.7 1006.2 L1894.2 1006.2 L1895.8 1006.2 L1897.3 1006.2 L1898.9 1006.2 L1900.4 1006.3 L1902.0 1006.3 L1903.5 1006.3 L1905.0 1006.3 L1906.6 1006.3 L1908.1 1006.3 L1909.7 1006.3 L1911.2 1006.3 L1912.7 1006.4 L1914.3 1006.4 L1915.8 1006.4 L1917.4 1006.4 L1918.9 1006.4 L1920.5 1006.4 L1922.0 1006.4 L1923.5 1006.4 L1925.1 1006.4 L1926.6 1006.4 L1928.2 1006.4 L1929.7 1006.4 L1931.2 1006.5 L1932.8 1006.5 L1934.3 1006.5 L1935.9 1006.5 L1937.4 1006.5 L1939.0 1006.5 L1940.5 1006.5 L1942.0 1006.5 L1943.6 1006.5 L1945.1 1006.5 L1946.7 1006.5 L1948.2 1006.5" stroke="#0060C0" stroke-width="7.5"/>
<path d="M254.0 128.8 L255.5 128.8 L257.1 128.8 L258.6 128.8 L260.2 128.8 L261.7 128.8 L263.2 128.8 L264.8 128.8 L266.3 128.8 L267.9 128.8 L269.4 128.8 L271.0 128.8 L272.5 128.8 L274.0 128.8 L275.6 128.8 L277.1 128.9 L278.7 128.9 L280.2 128.9 L281.7 128.9 L283.3 128.9 L284.8 128.9 L286.4 128.9 L287.9 128.9 L289.5 128.9 L291.0 128.9 L292.5 128.9 L294.1 129.0 L295.6 129.0 L297.2 129.0 L298.7 129.0 L300.2 129.0 L301.8 129.0 L303.3 129.0 L304.9 129.1 L306.4 129.1 L308.0 129.1 L309.5 129.1 L311.0 129.1 L312.6 129.1 L314.1 129.1 L315.7 129.2 L317.2 129.2 L318.7 129.2 L320.3 129.2 L321.8 129.2 L323.4 129.2 L324.9 129.3 L326.5 129.3 L328.0 129.3 L329.5 129.3 L331.1 129.3 L332.6 129.4 L334.2 129.4 L335.7 129.4 L337.2 129.4 L338.8 129.4 L340.3 129.5 L341.9 129.5 L343.4 129.5 L345.0 129.5 L346.5 129.5 L348.0 129.6 L349.6 129.6 L351.1 129.6 L352.7 129.6 L354.2 129.6 L355.7 129.7 L357.3 129.7 L358.8 129.7 L360.4 129.7 L361.9 129.8 L363.5 129.8 L365.0 129.8 L366.5 129.8 L368.1 129.8 L369.6 129.9 L371.2 129.9 L372.7 129.9 L374.2 129.9 L375.8 130.0 L377.3 130.0 L378.9 130.0 L380.4 130.0 L382.0 130.0 L383.5 130.1 L385.0 130.1 L386.6 130.1 L388.1 130.1 L389.7 130.2 L391.2 130.2 L392.7 130.2 L394.3 130.2 L395.8 130.3 L397.4 130.3 L398.9 130.3 L400.5 130.3 L402.0 130.3 L403.5 130.4 L405.1 130.4 L406.6 130.4 L408.2 130.4 L409.7 130.5 L411.2 130.5 L412.8 130.5 L414.3 130.5 L415.9 130.6 L417.4 130.6 L418.9 130.6 L420.5 130.6 L422.0 130.6 L423.6 130.7 L425.1 130.7 L426.7 130.7 L428.2 130.7 L429.7 130.7 L431.3 130.8 L432.8 130.8 L434.4 130.8 L435.9 130.8 L437.4 130.8 L439.0 130.9 L440.5 130.9 L442.1 130.9 L443.6 130.9 L445.2 130.9 L446.7 131.0 L448.2 131.0 L449.8 131.0 L451.3 131.0 L452.9 131.0 L454.4 131.1 L455.9 131.1 L457.5 131.1 L459.0 131.1 L460.6 131.1 L462.1 131.1 L463.7 131.2 L465.2 131.2 L466.7 131.2 L468.3 131.2 L469.8 131.2 L471.4 131.2 L472.9 131.3 L474.4 131.3 L476.0 131.3 L477.5 131.3 L479.1 131.3 L480.6 131.3 L482.2 131.4 L483.7 131.4 L485.2 131.4 L486.8 131.4 L488.3 131.4 L489.9 131.4 L491.4 131.5 L492.9 131.5 L494.5 131.5 L496.0 131.5 L497.6 131.5 L499.1 131.5 L500.7 131.6 L502.2 131.6 L503.7 131.6 L505.3 131.6 L506.8 131.6 L508.4 131.6 L509.9 131.7 L511.4 131.7 L513.0 131.7 L514.5 131.7 L516.1 131.7 L517.6 131.8 L519.2 131.8 L520.7 131.8 L522.2 131.8 L523.8 131.8 L525.3 131.8 L526.9 131.9 L528.4 131.9 L529.9 131.9 L531.5 131.9 L533.0 131.9 L534.6 131.9 L536.1 132.0 L537.7 132.0 L539.2 132.0 L540.7 132.0 L542.3 132.0 L543.8 132.1 L545.4 132.1 L546.9 132.1 L548.4 132.1 L550.0 132.1 L551.5 132.1 L553.1 132.2 L554.6 132.2 L556.2 132.2 L557.7 132.2 L559.2 132.2 L560.8 132.3 L562.3 132.3 L563.9 132.3 L565.4 132.3 L566.9 132.3 L568.5 132.4 L570.0 132.4 L571.6 132.4 L573.1 132.4 L574.6 132.4 L576.2 132.5 L577.7 132.5 L579.3 132.5 L580.8 132.5 L582.4 132.5 L583.9 132.6 L585.4 132.6 L587.0 132.6 L588.5 132.6 L590.1 132.7 L591.6 132.7 L593.1 132.7 L594.7 132.7 L596.2 132.7 L597.8 132.8 L599.3 132.8 L600.9 132.8 L602.4 132.8 L603.9 132.9 L605.5 132.9 L607.0 132.9 L608.6 132.9 L610.1 133.0 L611.6 133.0 L613.2 133.0 L614.7 133.0 L616.3 133.1 L617.8 133.1 L619.4 133.1 L620.9 133.2 L622.4 133.2 L624.0 133.2 L625.5 133.3 L627.1 133.3 L628.6 133.3 L630.1 133.3 L631.7 133.4 L633.2 133.4 L634.8 133.4 L636.3 133.5 L637.9 133.5 L639.4 133.5 L640.9 133.6 L642.5 133.6 L644.0 133.6 L645.6 133.7 L647.1 133.7 L648.6 133.7 L650.2 133.8 L651.7 133.8 L653.3 133.8 L654.8 133.9 L656.4 133.9 L657.9 133.9 L659.4 134.0 L661.0 134.0 L662.5 134.0 L664.1 134.1 L665.6 134.1 L667.1 134.1 L668.7 134.2 L670.2 134.2 L671.8 134.2 L673.3 134.3 L674.9 134.3 L676.4 134.3 L677.9 134.4 L679.5 134.4 L681.0 134.4 L682.6 134.5 L684.1 134.5 L685.6 134.5 L687.2 134.5 L688.7 134.6 L690.3 134.6 L691.8 134.6 L693.4 134.7 L694.9 134.7 L696.4 134.7 L698.0 134.7 L699.5 134.8 L701.1 134.8 L702.6 134.8 L704.1 134.9 L705.7 134.9 L707.2 134.9 L708.8 134.9 L710.3 135.0 L711.9 135.0 L713.4 135.0 L714.9 135.0 L716.5 135.1 L718.0 135.1 L719.6 135.1 L721.1 135.1 L722.6 135.1 L724.2 135.2 L725.7 135.2 L727.3 135.2 L728.8 135.2 L730.3 135.2 L731.9 135.3 L733.4 135.3 L735.0 135.3 L736.5 135.3 L738.1 135.3 L739.6 135.4 L741.1 135.4 L742.7 135.4 L744.2 135.4 L745.8 135.4 L747.3 135.5 L748.8 135.5 L750.4 135.5 L751.9 135.5 L753.5 135.6 L755.0 135.6 L756.6 135.6 L758.1 135.6 L759.6 135.6 L761.2 135.7 L762.7 135.7 L764.3 135.7 L765.8 135.7 L767.3 135.8 L768.9 135.8 L770.4 135.8 L772.0 135.8 L773.5 135.9 L775.1 135.9 L776.6 135.9 L778.1 135.9 L779.7 136.0 L781.2 136.0 L782.8 136.0 L784.3 136.1 L785.8 136.1 L787.4 136.1 L788.9 136.1 L790.5 136.2 L792.0 136.2 L793.6 136.2 L795.1 136.3 L796.6 136.3 L798.2 136.4 L799.7 136.4 L801.3 136.4 L802.8 136.5 L804.3 136.5 L805.9 136.6 L807.4 136.6 L809.0 136.7 L810.5 136.7 L812.1 136.8 L813.6 136.8 L815.1 136.9 L816.7 137.0 L818.2 137.0 L819.8 137.1 L821.3 137.2 L822.8 137.2 L824.4 137.3 L825.9 137.4 L827.5 137.5 L829.0 137.6 L830.6 137.6 L832.1 137.7 L833.6 137.8 L835.2 137.9 L836.7 138.0 L838.3 138.1 L839.8 138.1 L841.3 138.2 L842.9 138.3 L844.4 138.4 L846.0 138.5 L847.5 138.6 L849.1 138.7 L850.6 138.8 L852.1 138.9 L853.7 138.9 L855.2 139.0 L856.8 139.1 L858.3 139.2 L859.8 139.3 L861.4 139.4 L862.9 139.5 L864.5 139.6 L866.0 139.7 L867.6 139.8 L869.1 139.8 L870.6 139.9 L872.2 140.0 L873.7 140.1 L875.3 140.2 L876.8 140.3 L878.3 140.3 L879.9 140.4 L881.4 140.5 L883.0 140.6 L884.5 140.7 L886.0 140.8 L887.6 140.8 L889.1 140.9 L890.7 141.0 L892.2 141.1 L893.8 141.2 L895.3 141.3 L896.8 141.3 L898.4 141.4 L899.9 141.5 L901.5 141.6 L903.0 141.7 L904.5 141.8 L906.1 141.9 L907.6 141.9 L909.2 142.0 L910.7 142.1 L912.3 142.2 L913.8 142.3 L915.3 142.4 L916.9 142.5 L918.4 142.6 L920.0 142.6 L921.5 142.7 L923.0 142.8 L924.6 142.9 L926.1 143.0 L927.7 143.1 L929.2 143.2 L930.8 143.2 L932.3 143.3 L933.8 143.4 L935.4 143.5 L936.9 143.6 L938.5 143.7 L940.0 143.8 L941.5 143.8 L943.1 143.9 L944.6 144.0 L946.2 144.1 L947.7 144.2 L949.3 144.3 L950.8 144.3 L952.3 144.4 L953.9 144.5 L955.4 144.6 L957.0 144.7 L958.5 144.7 L960.0 144.8 L961.6 144.9 L963.1 144.9 L964.7 145.0 L966.2 145.1 L967.8 145.2 L969.3 145.2 L970.8 145.3 L972.4 145.4 L973.9 145.4 L975.5 145.5 L977.0 145.6 L978.5 145.7 L980.1 145.7 L981.6 145.8 L983.2 145.9 L984.7 146.0 L986.3 146.0 L987.8 146.1 L989.3 146.2 L990.9 146.3 L992.4 146.4 L994.0 146.5 L995.5 146.6 L997.0 146.7 L998.6 146.8 L1000.1 146.9 L1001.7 147.0 L1003.2 147.2 L1004.8 147.3 L1006.3 147.4 L1007.8 147.6 L1009.4 147.7 L1010.9 147.9 L1012.5 148.1 L1014.0 148.2 L1015.5 148.4 L1017.1 148.6 L1018.6 148.8 L1020.2 149.0 L1021.7 149.2 L1023.3 149.4 L1024.8 149.6 L1026.3 149.8 L1027.9 150.0 L1029.4 150.2 L1031.0 150.4 L1032.5 150.6 L1034.0 150.8 L1035.6 151.1 L1037.1 151.3 L1038.7 151.5 L1040.2 151.7 L1041.7 151.9 L1043.3 152.1 L1044.8 152.4 L1046.4 152.6 L1047.9 152.8 L1049.5 153.0 L1051.0 153.2 L1052.5 153.4 L1054.1 153.6 L1055.6 153.8 L1057.2 154.0 L1058.7 154.3 L1060.2 154.5 L1061.8 154.7 L1063.3 154.9 L1064.9 155.1 L1066.4 155.4 L1068.0 155.6 L1069.5 155.8 L1071.0 156.1 L1072.6 156.3 L1074.1 156.5 L1075.7 156.8 L1077.2 157.1 L1078.7 157.3 L1080.3 157.6 L1081.8 157.9 L1083.4 158.1 L1084.9 158.4 L1086.5 158.7 L1088.0 159.0 L1089.5 159.2 L1091.1 159.5 L1092.6 159.8 L1094.2 160.1 L1095.7 160.4 L1097.2 160.7 L1098.8 161.0 L1100.3 161.3 L1101.9 161.6 L1103.4 161.9 L1105.0 162.3 L1106.5 162.6 L1108.0 162.9 L1109.6 163.2 L1111.1 163.6 L1112.7 163.9 L1114.2 164.3 L1115.7 164.6 L1117.3 165.0 L1118.8 165.3 L1120.4 165.7 L1121.9 166.1 L1123.5 166.4 L1125.0 166.8 L1126.5 167.2 L1128.1 167.6 L1129.6 168.0 L1131.2 168.4 L1132.7 168.8 L1134.2 169.2 L1135.8 169.6 L1137.3 170.1 L1138.9 170.5 L1140.4 170.9 L1142.0 171.4 L1143.5 171.8 L1145.0 172.3 L1146.6 172.8 L1148.1 173.3 L1149.7 173.9 L1151.2 174.4 L1152.7 175.0 L1154.3 175.5 L1155.8 176.1 L1157.4 176.7 L1158.9 177.3 L1160.5 177.9 L1162.0 178.5 L1163.5 179.1 L1165.1 179.8 L1166.6 180.4 L1168.2 181.0 L1169.7 181.7 L1171.2 182.3 L1172.8 183.0 L1174.3 183.7 L1175.9 184.3 L1177.4 185.0 L1178.9 185.7 L1180.5 186.4 L1182.0 187.0 L1183.6 187.7 L1185.1 188.4 L1186.7 189.1 L1188.2 189.7 L1189.7 190.4 L1191.3 191.1 L1192.8 191.8 L1194.4 192.4 L1195.9 193.1 L1197.4 193.8 L1199.0 194.4 L1200.5 195.1 L1202.1 195.7 L1203.6 196.4 L1205.2 197.0 L1206.7 197.6 L1208.2 198.3 L1209.8 198.9 L1211.3 199.6 L1212.9 200.2 L1214.4 200.8 L1215.9 201.5 L1217.5 202.1 L1219.0 202.8 L1220.6 203.4 L1222.1 204.1 L1223.7 204.7 L1225.2 205.4 L1226.7 206.1 L1228.3 206.7 L1229.8 207.4 L1231.4 208.1 L1232.9 208.8 L1234.4 209.5 L1236.0 210.2 L1237.5 210.9 L1239.1 211.6 L1240.6 212.3 L1242.2 213.0 L1243.7 213.8 L1245.2 214.5 L1246.8 215.3 L1248.3 216.0 L1249.9 216.8 L1251.4 217.6 L1252.9 218.4 L1254.5 219.1 L1256.0 219.9 L1257.6 220.8 L1259.1 221.6 L1260.7 222.4 L1262.2 223.2 L1263.7 224.1 L1265.3 224.9 L1266.8 225.8 L1268.4 226.6 L1269.9 227.5 L1271.4 228.4 L1273.0 229.3 L1274.5 230.1 L1276.1 231.1 L1277.6 232.0 L1279.2 232.9 L1280.7 233.8 L1282.2 234.8 L1283.8 235.7 L1285.3 236.7 L1286.9 237.6 L1288.4 238.6 L1289.9 239.6 L1291.5 240.6 L1293.0 241.6 L1294.6 242.6 L1296.1 243.6 L1297.7 244.7 L1299.2 245.7 L1300.7 246.8 L1302.3 247.9 L1303.8 249.0 L1305.4 250.1 L1306.9 251.2 L1308.4 252.4 L1310.0 253.5 L1311.5 254.7 L1313.1 255.9 L1314.6 257.1 L1316.2 258.4 L1317.7 259.6 L1319.2 260.9 L1320.8 262.1 L1322.3 263.4 L1323.9 264.7 L1325.4 266.0 L1326.9 267.3 L1328.5 268.7 L1330.0 270.0 L1331.6 271.3 L1333.1 272.7 L1334.6 274.0 L1336.2 275.4 L1337.7 276.7 L1339.3 278.1 L1340.8 279.5 L1342.4 280.9 L1343.9 282.2 L1345.4 283.6 L1347.0 285.0 L1348.5 286.5 L1350.1 287.9 L1351.6 289.3 L1353.1 290.8 L1354.7 292.3 L1356.2 293.8 L1357.8 295.3 L1359.3 296.8 L1360.9 298.3 L1362.4 299.9 L1363.9 301.5 L1365.5 303.1 L1367.0 304.7 L1368.6 306.4 L1370.1 308.0 L1371.6 309.7 L1373.2 311.5 L1374.7 313.3 L1376.3 315.1 L1377.8 316.9 L1379.4 318.8 L1380.9 320.7 L1382.4 322.6 L1384.0 324.5 L1385.5 326.5 L1387.1 328.5 L1388.6 330.5 L1390.1 332.5 L1391.7 334.5 L1393.2 336.5 L1394.8 338.6 L1396.3 340.6 L1397.9 342.6 L1399.4 344.7 L1400.9 346.8 L1402.5 348.9 L1404.0 350.9 L1405.6 353.1 L1407.1 355.2 L1408.6 357.3 L1410.2 359.4 L1411.7 361.6 L1413.3 363.8 L1414.8 365.9 L1416.4 368.1 L1417.9 370.3 L1419.4 372.6 L1421.0 374.8 L1422.5 377.0 L1424.1 379.3 L1425.6 381.6 L1427.1 383.8 L1428.7 386.1 L1430.2 388.4 L1431.8 390.8 L1433.3 393.1 L1434.9 395.4 L1436.4 397.8 L1437.9 400.2 L1439.5 402.5 L1441.0 404.9 L1442.6 407.4 L1444.1 409.8 L1445.6 412.2 L1447.2 414.7 L1448.7 417.2 L1450.3 419.7 L1451.8 422.2 L1453.4 424.7 L1454.9 427.3 L1456.4 429.8 L1458.0 432.4 L1459.5 435.0 L1461.1 437.5 L1462.6 440.2 L1464.1 442.8 L1465.7 445.4 L1467.2 448.1 L1468.8 450.7 L1470.3 453.4 L1471.9 456.1 L1473.4 458.8 L1474.9 461.5 L1476.5 464.2 L1478.0 466.9 L1479.6 469.6 L1481.1 472.4 L1482.6 475.2 L1484.2 477.9 L1485.7 480.7 L1487.3 483.5 L1488.8 486.4 L1490.3 489.2 L1491.9 492.1 L1493.4 495.0 L1495.0 497.9 L1496.5 500.8 L1498.1 503.7 L1499.6 506.7 L1501.1 509.6 L1502.7 512.6 L1504.2 515.6 L1505.8 518.6 L1507.3 521.6 L1508.8 524.6 L1510.4 527.7 L1511.9 530.7 L1513.5 533.8 L1515.0 536.9 L1516.6 539.9 L1518.1 543.0 L1519.6 546.1 L1521.2 549.2 L1522.7 552.3 L1524.3 555.5 L1525.8 558.6 L1527.3 561.8 L1528.9 564.9 L1530.4 568.1 L1532.0 571.3 L1533.5 574.5 L1535.1 577.8 L1536.6 581.0 L1538.1 584.3 L1539.7 587.5 L1541.2 590.8 L1542.8 594.1 L1544.3 597.4 L1545.8 600.7 L1547.4 604.1 L1548.9 607.4 L1550.5 610.7 L1552.0 614.1 L1553.6 617.4 L1555.1 620.8 L1556.6 624.2 L1558.2 627.6 L1559.7 631.0 L1561.3 634.4 L1562.8 637.8 L1564.3 641.2 L1565.9 644.7 L1567.4 648.1 L1569.0 651.6 L1570.5 655.1 L1572.1 658.6 L1573.6 662.1 L1575.1 665.6 L1576.7 669.2 L1578.2 672.7 L1579.8 676.2 L1581.3 679.8 L1582.8 683.3 L1584.4 686.9 L1585.9 690.4 L1587.5 694.0 L1589.0 697.6 L1590.6 701.2 L1592.1 704.7 L1593.6 708.4 L1595.2 712.0 L1596.7 715.6 L1598.3 719.3 L1599.8 722.9 L1601.3 726.6 L1602.9 730.3 L1604.4 734.0 L1606.0 737.6 L1607.5 741.3 L1609.1 745.0 L1610.6 748.7 L1612.1 752.4 L1613.7 756.0 L1615.2 759.7 L1616.8 763.3 L1618.3 767.0 L1619.8 770.6 L1621.4 774.2 L1622.9 777.8 L1624.5 781.4 L1626.0 785.0 L1627.6 788.6 L1629.1 792.2 L1630.6 795.8 L1632.2 799.4 L1633.7 803.0 L1635.3 806.6 L1636.8 810.2 L1638.3 813.8 L1639.9 817.3 L1641.4 820.9 L1643.0 824.4 L1644.5 827.9 L1646.0 831.4 L1647.6 834.8 L1649.1 838.2 L1650.7 841.6 L1652.2 844.9 L1653.8 848.2 L1655.3 851.5 L1656.8 854.7 L1658.4 858.0 L1659.9 861.2 L1661.5 864.4 L1663.0 867.6 L1664.5 870.7 L1666.1 873.9 L1667.6 877.0 L1669.2 880.0 L1670.7 883.0 L1672.3 886.0 L1673.8 888.9 L1675.3 891.8 L1676.9 894.6 L1678.4 897.4 L1680.0 900.0 L1681.5 902.7 L1683.0 905.3 L1684.6 907.9 L1686.1 910.4 L1687.7 912.9 L1689.2 915.4 L1690.8 917.9 L1692.3 920.4 L1693.8 922.8 L1695.4 925.1 L1696.9 927.5 L1698.5 929.8 L1700.0 932.1 L1701.5 934.3 L1703.1 936.5 L1704.6 938.7 L1706.2 940.8 L1707.7 942.9 L1709.3 944.9 L1710.8 946.9 L1712.3 948.9 L1713.9 950.8 L1715.4 952.7 L1717.0 954.6 L1718.5 956.3 L1720.0 958.1 L1721.6 959.8 L1723.1 961.5 L1724.7 963.1 L1726.2 964.7 L1727.8 966.3 L1729.3 967.9 L1730.8 969.4 L1732.4 971.0 L1733.9 972.5 L1735.5 974.0 L1737.0 975.5 L1738.5 977.0 L1740.1 978.5 L1741.6 979.9 L1743.2 981.3 L1744.7 982.6 L1746.3 983.9 L1747.8 985.1 L1749.3 986.2 L1750.9 987.4 L1752.4 988.5 L1754.0 989.6 L1755.5 990.6 L1757.0 991.6 L1758.6 992.5 L1760.1 993.4 L1761.7 994.2 L1763.2 994.9 L1764.8 995.6 L1766.3 996.2 L1767.8 996.8 L1769.4 997.4 L1770.9 998.0 L1772.5 998.5 L1774.0 999.0 L1775.5 999.5 L1777.1 999.9 L1778.6 1000.4 L1780.2 1000.8 L1781.7 1001.2 L1783.3 1001.6 L1784.8 1002.0 L1786.3 1002.3 L1787.9 1002.7 L1789.4 1003.1 L1791.0 1003.4 L1792.5 1003.8 L1794.0 1004.1 L1795.6 1004.4 L1797.1 1004.7 L1798.7 1005.0 L1800.2 1005.3 L1801.7 1005.5 L1803.3 1005.7 L1804.8 1005.9 L1806.4 1006.1 L1807.9 1006.3 L1809.5 1006.4 L1811.0 1006.6 L1812.5 1006.7 L1814.1 1006.9 L1815.6 1007.0 L1817.2 1007.2 L1818.7 1007.3 L1820.2 1007.5 L1821.8 1007.6 L1823.3 1007.7 L1824.9 1007.9 L1826.4 1008.0 L1828.0 1008.1 L1829.5 1008.3 L1831.0 1008.4 L1832.6 1008.5 L1834.1 1008.6 L1835.7 1008.7 L1837.2 1008.8 L1838.7 1009.0 L1840.3 1009.1 L1841.8 1009.2 L1843.4 1009.3 L1844.9 1009.4 L1846.5 1009.5 L1848.0 1009.6 L1849.5 1009.6 L1851.1 1009.7 L1852.6 1009.8 L1854.2 1009.9 L1855.7 1010.0 L1857.2 1010.1 L1858.8 1010.1 L1860.3 1010.2 L1861.9 1010.3 L1863.4 1010.3 L1865.0 1010.4 L1866.5 1010.4 L1868.0 1010.5 L1869.6 1010.5 L1871.1 1010.6 L1872.7 1010.6 L1874.2 1010.7 L1875.7 1010.7 L1877.3 1010.7 L1878.8 1010.8 L1880.4 1010.8 L1881.9 1010.8 L1883.5 1010.9 L1885.0 1010.9 L1886.5 1010.9 L1888.1 1010.9 L1889.6 1011.0 L1891.2 1011.0 L1892.7 1011.0 L1894.2 1011.0 L1895.8 1011.1 L1897.3 1011.1 L1898.9 1011.1 L1900.4 1011.1 L1902.0 1011.1 L1903.5 1011.2 L1905.0 1011.2 L1906.6 1011.2 L1908.1 1011.2 L1909.7 1011.2 L1911.2 1011.3 L1912.7 1011.3 L1914.3 1011.3 L1915.8 1011.3 L1917.4 1011.3 L1918.9 1011.3 L1920.5 1011.3 L1922.0 1011.4 L1923.5 1011.4 L1925.1 1011.4 L1926.6 1011.4 L1928.2 1011.4 L1929.7 1011.4 L1931.2 1011.4 L1932.8 1011.4 L1934.3 1011.4 L1935.9 1011.5 L1937.4 1011.5 L1939.0 1011.5 L1940.5 1011.5 L1942.0 1011.5 L1943.6 1011.5 L1945.1 1011.5 L1946.7 1011.5 L1948.2 1011.5" stroke="#FFBC00" stroke-width="7.5"/>
<path d="M254.0 128.0 L255.5 128.0 L257.1 128.0 L258.6 128.0 L260.2 128.0 L261.7 128.0 L263.2 128.0 L264.8 128.0 L266.3 128.0 L267.9 128.0 L269.4 128.0 L271.0 128.0 L272.5 128.0 L274.0 128.0 L275.6 128.0 L277.1 128.1 L278.7 128.1 L280.2 128.1 L281.7 128.1 L283.3 128.1 L284.8 128.1 L286.4 128.1 L287.9 128.1 L289.5 128.1 L291.0 128.1 L292.5 128.1 L294.1 128.2 L295.6 128.2 L297.2 128.2 L298.7 128.2 L300.2 128.2 L301.8 128.2 L303.3 128.2 L304.9 128.3 L306.4 128.3 L308.0 128.3 L309.5 128.3 L311.0 128.3 L312.6 128.3 L314.1 128.3 L315.7 128.4 L317.2 128.4 L318.7 128.4 L320.3 128.4 L321.8 128.4 L323.4 128.4 L324.9 128.5 L326.5 128.5 L328.0 128.5 L329.5 128.5 L331.1 128.5 L332.6 128.6 L334.2 128.6 L335.7 128.6 L337.2 128.6 L338.8 128.6 L340.3 128.7 L341.9 128.7 L343.4 128.7 L345.0 128.7 L346.5 128.7 L348.0 128.8 L349.6 128.8 L351.1 128.8 L352.7 128.8 L354.2 128.8 L355.7 128.9 L357.3 128.9 L358.8 128.9 L360.4 128.9 L361.9 129.0 L363.5 129.0 L365.0 129.0 L366.5 129.0 L368.1 129.0 L369.6 129.1 L371.2 129.1 L372.7 129.1 L374.2 129.1 L375.8 129.2 L377.3 129.2 L378.9 129.2 L380.4 129.2 L382.0 129.2 L383.5 129.3 L385.0 129.3 L386.6 129.3 L388.1 129.3 L389.7 129.4 L391.2 129.4 L392.7 129.4 L394.3 129.4 L395.8 129.5 L397.4 129.5 L398.9 129.5 L400.5 129.5 L402.0 129.5 L403.5 129.6 L405.1 129.6 L406.6 129.6 L408.2 129.6 L409.7 129.7 L411.2 129.7 L412.8 129.7 L414.3 129.7 L415.9 129.8 L417.4 129.8 L418.9 129.8 L420.5 129.8 L422.0 129.8 L423.6 129.9 L425.1 129.9 L426.7 129.9 L428.2 129.9 L429.7 129.9 L431.3 130.0 L432.8 130.0 L434.4 130.0 L435.9 130.0 L437.4 130.0 L439.0 130.1 L440.5 130.1 L442.1 130.1 L443.6 130.1 L445.2 130.1 L446.7 130.2 L448.2 130.2 L449.8 130.2 L451.3 130.2 L452.9 130.2 L454.4 130.3 L455.9 130.3 L457.5 130.3 L459.0 130.3 L460.6 130.3 L462.1 130.3 L463.7 130.4 L465.2 130.4 L466.7 130.4 L468.3 130.4 L469.8 130.4 L471.4 130.4 L472.9 130.5 L474.4 130.5 L476.0 130.5 L477.5 130.5 L479.1 130.5 L480.6 130.5 L482.2 130.6 L483.7 130.6 L485.2 130.6 L486.8 130.6 L488.3 130.6 L489.9 130.6 L491.4 130.7 L492.9 130.7 L494.5 130.7 L496.0 130.7 L497.6 130.7 L499.1 130.7 L500.7 130.8 L502.2 130.8 L503.7 130.8 L505.3 130.8 L506.8 130.8 L508.4 130.8 L509.9 130.9 L511.4 130.9 L513.0 130.9 L514.5 130.9 L516.1 130.9 L517.6 131.0 L519.2 131.0 L520.7 131.0 L522.2 131.0 L523.8 131.0 L525.3 131.0 L526.9 131.1 L528.4 131.1 L529.9 131.1 L531.5 131.1 L533.0 131.1 L534.6 131.1 L536.1 131.2 L537.7 131.2 L539.2 131.2 L540.7 131.2 L542.3 131.2 L543.8 131.3 L545.4 131.3 L546.9 131.3 L548.4 131.3 L550.0 131.3 L551.5 131.3 L553.1 131.4 L554.6 131.4 L556.2 131.4 L557.7 131.4 L559.2 131.4 L560.8 131.5 L562.3 131.5 L563.9 131.5 L565.4 131.5 L566.9 131.5 L568.5 131.6 L570.0 131.6 L571.6 131.6 L573.1 131.6 L574.6 131.6 L576.2 131.7 L577.7 131.7 L579.3 131.7 L580.8 131.7 L582.4 131.7 L583.9 131.8 L585.4 131.8 L587.0 131.8 L588.5 131.8 L590.1 131.9 L591.6 131.9 L593.1 131.9 L594.7 131.9 L596.2 131.9 L597.8 132.0 L599.3 132.0 L600.9 132.0 L602.4 132.0 L603.9 132.1 L605.5 132.1 L607.0 132.1 L608.6 132.1 L610.1 132.2 L611.6 132.2 L613.2 132.2 L614.7 132.2 L616.3 132.3 L617.8 132.3 L619.4 132.3 L620.9 132.4 L622.4 132.4 L624.0 132.4 L625.5 132.5 L627.1 132.5 L628.6 132.5 L630.1 132.5 L631.7 132.6 L633.2 132.6 L634.8 132.6 L636.3 132.7 L637.9 132.7 L639.4 132.7 L640.9 132.8 L642.5 132.8 L644.0 132.8 L645.6 132.9 L647.1 132.9 L648.6 132.9 L650.2 133.0 L651.7 133.0 L653.3 133.0 L654.8 133.1 L656.4 133.1 L657.9 133.1 L659.4 133.2 L661.0 133.2 L662.5 133.2 L664.1 133.3 L665.6 133.3 L667.1 133.3 L668.7 133.4 L670.2 133.4 L671.8 133.4 L673.3 133.5 L674.9 133.5 L676.4 133.5 L677.9 133.6 L679.5 133.6 L681.0 133.6 L682.6 133.7 L684.1 133.7 L685.6 133.7 L687.2 133.7 L688.7 133.8 L690.3 133.8 L691.8 133.8 L693.4 133.9 L694.9 133.9 L696.4 133.9 L698.0 133.9 L699.5 134.0 L701.1 134.0 L702.6 134.0 L704.1 134.1 L705.7 134.1 L707.2 134.1 L708.8 134.1 L710.3 134.2 L711.9 134.2 L713.4 134.2 L714.9 134.2 L716.5 134.3 L718.0 134.3 L719.6 134.3 L721.1 134.3 L722.6 134.3 L724.2 134.4 L725.7 134.4 L727.3 134.4 L728.8 134.4 L730.3 134.4 L731.9 134.5 L733.4 134.5 L735.0 134.5 L736.5 134.5 L738.1 134.5 L739.6 134.6 L741.1 134.6 L742.7 134.6 L744.2 134.6 L745.8 134.6 L747.3 134.7 L748.8 134.7 L750.4 134.7 L751.9 134.7 L753.5 134.8 L755.0 134.8 L756.6 134.8 L758.1 134.8 L759.6 134.8 L761.2 134.9 L762.7 134.9 L764.3 134.9 L765.8 134.9 L767.3 135.0 L768.9 135.0 L770.4 135.0 L772.0 135.0 L773.5 135.1 L775.1 135.1 L776.6 135.1 L778.1 135.1 L779.7 135.2 L781.2 135.2 L782.8 135.2 L784.3 135.3 L785.8 135.3 L787.4 135.3 L788.9 135.3 L790.5 135.4 L792.0 135.4 L793.6 135.4 L795.1 135.5 L796.6 135.5 L798.2 135.6 L799.7 135.6 L801.3 135.6 L802.8 135.7 L804.3 135.7 L805.9 135.8 L807.4 135.8 L809.0 135.9 L810.5 135.9 L812.1 136.0 L813.6 136.0 L815.1 136.1 L816.7 136.2 L818.2 136.2 L819.8 136.3 L821.3 136.4 L822.8 136.4 L824.4 136.5 L825.9 136.6 L827.5 136.6 L829.0 136.7 L830.6 136.8 L832.1 136.9 L833.6 137.0 L835.2 137.0 L836.7 137.1 L838.3 137.2 L839.8 137.3 L841.3 137.4 L842.9 137.5 L844.4 137.5 L846.0 137.6 L847.5 137.7 L849.1 137.8 L850.6 137.9 L852.1 138.0 L853.7 138.1 L855.2 138.1 L856.8 138.2 L858.3 138.3 L859.8 138.4 L861.4 138.5 L862.9 138.6 L864.5 138.7 L866.0 138.7 L867.6 138.8 L869.1 138.9 L870.6 139.0 L872.2 139.1 L873.7 139.2 L875.3 139.2 L876.8 139.3 L878.3 139.4 L879.9 139.5 L881.4 139.5 L883.0 139.6 L884.5 139.7 L886.0 139.8 L887.6 139.9 L889.1 139.9 L890.7 140.0 L892.2 140.1 L893.8 140.2 L895.3 140.3 L896.8 140.3 L898.4 140.4 L899.9 140.5 L901.5 140.6 L903.0 140.7 L904.5 140.7 L906.1 140.8 L907.6 140.9 L909.2 141.0 L910.7 141.1 L912.3 141.1 L913.8 141.2 L915.3 141.3 L916.9 141.4 L918.4 141.5 L920.0 141.6 L921.5 141.6 L923.0 141.7 L924.6 141.8 L926.1 141.9 L927.7 142.0 L929.2 142.0 L930.8 142.1 L932.3 142.2 L933.8 142.3 L935.4 142.4 L936.9 142.4 L938.5 142.5 L940.0 142.6 L941.5 142.7 L943.1 142.8 L944.6 142.8 L946.2 142.9 L947.7 143.0 L949.3 143.1 L950.8 143.1 L952.3 143.2 L953.9 143.3 L955.4 143.4 L957.0 143.4 L958.5 143.5 L960.0 143.6 L961.6 143.6 L963.1 143.7 L964.7 143.8 L966.2 143.8 L967.8 143.9 L969.3 144.0 L970.8 144.0 L972.4 144.1 L973.9 144.2 L975.5 144.2 L977.0 144.3 L978.5 144.4 L980.1 144.4 L981.6 144.5 L983.2 144.6 L984.7 144.7 L986.3 144.7 L987.8 144.8 L989.3 144.9 L990.9 145.0 L992.4 145.1 L994.0 145.1 L995.5 145.2 L997.0 145.3 L998.6 145.4 L1000.1 145.5 L1001.7 145.6 L1003.2 145.7 L1004.8 145.9 L1006.3 146.0 L1007.8 146.1 L1009.4 146.2 L1010.9 146.4 L1012.5 146.5 L1014.0 146.7 L1015.5 146.8 L1017.1 147.0 L1018.6 147.1 L1020.2 147.3 L1021.7 147.4 L1023.3 147.6 L1024.8 147.8 L1026.3 147.9 L1027.9 148.1 L1029.4 148.3 L1031.0 148.5 L1032.5 148.6 L1034.0 148.8 L1035.6 149.0 L1037.1 149.1 L1038.7 149.3 L1040.2 149.5 L1041.7 149.7 L1043.3 149.8 L1044.8 150.0 L1046.4 150.2 L1047.9 150.3 L1049.5 150.5 L1051.0 150.7 L1052.5 150.8 L1054.1 151.0 L1055.6 151.1 L1057.2 151.3 L1058.7 151.5 L1060.2 151.6 L1061.8 151.8 L1063.3 151.9 L1064.9 152.1 L1066.4 152.3 L1068.0 152.4 L1069.5 152.6 L1071.0 152.8 L1072.6 152.9 L1074.1 153.1 L1075.7 153.3 L1077.2 153.5 L1078.7 153.7 L1080.3 153.9 L1081.8 154.1 L1083.4 154.3 L1084.9 154.5 L1086.5 154.8 L1088.0 155.0 L1089.5 155.2 L1091.1 155.5 L1092.6 155.7 L1094.2 155.9 L1095.7 156.2 L1097.2 156.4 L1098.8 156.7 L1100.3 157.0 L1101.9 157.2 L1103.4 157.5 L1105.0 157.8 L1106.5 158.0 L1108.0 158.3 L1109.6 158.6 L1111.1 158.9 L1112.7 159.2 L1114.2 159.5 L1115.7 159.8 L1117.3 160.1 L1118.8 160.4 L1120.4 160.7 L1121.9 161.0 L1123.5 161.3 L1125.0 161.6 L1126.5 161.9 L1128.1 162.2 L1129.6 162.6 L1131.2 162.9 L1132.7 163.2 L1134.2 163.6 L1135.8 163.9 L1137.3 164.2 L1138.9 164.6 L1140.4 164.9 L1142.0 165.3 L1143.5 165.6 L1145.0 166.0 L1146.6 166.3 L1148.1 166.7 L1149.7 167.1 L1151.2 167.5 L1152.7 167.9 L1154.3 168.3 L1155.8 168.7 L1157.4 169.1 L1158.9 169.5 L1160.5 169.9 L1162.0 170.4 L1163.5 170.8 L1165.1 171.2 L1166.6 171.7 L1168.2 172.1 L1169.7 172.6 L1171.2 173.0 L1172.8 173.5 L1174.3 173.9 L1175.9 174.4 L1177.4 174.9 L1178.9 175.3 L1180.5 175.8 L1182.0 176.3 L1183.6 176.7 L1185.1 177.2 L1186.7 177.7 L1188.2 178.2 L1189.7 178.6 L1191.3 179.1 L1192.8 179.6 L1194.4 180.1 L1195.9 180.6 L1197.4 181.0 L1199.0 181.5 L1200.5 182.0 L1202.1 182.5 L1203.6 183.0 L1205.2 183.4 L1206.7 183.9 L1208.2 184.4 L1209.8 184.9 L1211.3 185.4 L1212.9 185.8 L1214.4 186.3 L1215.9 186.8 L1217.5 187.3 L1219.0 187.8 L1220.6 188.3 L1222.1 188.8 L1223.7 189.3 L1225.2 189.8 L1226.7 190.3 L1228.3 190.8 L1229.8 191.4 L1231.4 191.9 L1232.9 192.4 L1234.4 193.0 L1236.0 193.5 L1237.5 194.1 L1239.1 194.7 L1240.6 195.3 L1242.2 195.9 L1243.7 196.5 L1245.2 197.1 L1246.8 197.7 L1248.3 198.3 L1249.9 199.0 L1251.4 199.7 L1252.9 200.3 L1254.5 201.0 L1256.0 201.8 L1257.6 202.5 L1259.1 203.2 L1260.7 204.0 L1262.2 204.8 L1263.7 205.5 L1265.3 206.3 L1266.8 207.2 L1268.4 208.0 L1269.9 208.8 L1271.4 209.7 L1273.0 210.5 L1274.5 211.4 L1276.1 212.3 L1277.6 213.2 L1279.2 214.1 L1280.7 215.0 L1282.2 215.9 L1283.8 216.9 L1285.3 217.8 L1286.9 218.8 L1288.4 219.8 L1289.9 220.7 L1291.5 221.7 L1293.0 222.7 L1294.6 223.7 L1296.1 224.7 L1297.7 225.7 L1299.2 226.7 L1300.7 227.8 L1302.3 228.8 L1303.8 229.9 L1305.4 231.0 L1306.9 232.1 L1308.4 233.2 L1310.0 234.4 L1311.5 235.6 L1313.1 236.8 L1314.6 238.0 L1316.2 239.2 L1317.7 240.4 L1319.2 241.7 L1320.8 242.9 L1322.3 244.2 L1323.9 245.5 L1325.4 246.8 L1326.9 248.0 L1328.5 249.3 L1330.0 250.7 L1331.6 252.0 L1333.1 253.3 L1334.6 254.6 L1336.2 255.9 L1337.7 257.2 L1339.3 258.5 L1340.8 259.8 L1342.4 261.2 L1343.9 262.5 L1345.4 263.8 L1347.0 265.1 L1348.5 266.5 L1350.1 267.8 L1351.6 269.2 L1353.1 270.6 L1354.7 271.9 L1356.2 273.3 L1357.8 274.7 L1359.3 276.1 L1360.9 277.6 L1362.4 279.0 L1363.9 280.5 L1365.5 281.9 L1367.0 283.4 L1368.6 284.9 L1370.1 286.4 L1371.6 288.0 L1373.2 289.5 L1374.7 291.0 L1376.3 292.6 L1377.8 294.2 L1379.4 295.8 L1380.9 297.4 L1382.4 299.0 L1384.0 300.6 L1385.5 302.2 L1387.1 303.9 L1388.6 305.5 L1390.1 307.2 L1391.7 308.9 L1393.2 310.6 L1394.8 312.3 L1396.3 314.0 L1397.9 315.7 L1399.4 317.4 L1400.9 319.2 L1402.5 321.0 L1404.0 322.7 L1405.6 324.5 L1407.1 326.3 L1408.6 328.1 L1410.2 330.0 L1411.7 331.8 L1413.3 333.6 L1414.8 335.5 L1416.4 337.4 L1417.9 339.3 L1419.4 341.2 L1421.0 343.1 L1422.5 345.1 L1424.1 347.0 L1425.6 349.0 L1427.1 351.0 L1428.7 353.1 L1430.2 355.1 L1431.8 357.2 L1433.3 359.3 L1434.9 361.4 L1436.4 363.5 L1437.9 365.6 L1439.5 367.8 L1441.0 369.9 L1442.6 372.1 L1444.1 374.3 L1445.6 376.5 L1447.2 378.7 L1448.7 380.9 L1450.3 383.1 L1451.8 385.4 L1453.4 387.6 L1454.9 389.9 L1456.4 392.2 L1458.0 394.4 L1459.5 396.7 L1461.1 399.0 L1462.6 401.3 L1464.1 403.6 L1465.7 405.9 L1467.2 408.2 L1468.8 410.6 L1470.3 412.9 L1471.9 415.3 L1473.4 417.7 L1474.9 420.1 L1476.5 422.5 L1478.0 424.9 L1479.6 427.3 L1481.1 429.7 L1482.6 432.2 L1484.2 434.6 L1485.7 437.1 L1487.3 439.6 L1488.8 442.1 L1490.3 444.6 L1491.9 447.1 L1493.4 449.6 L1495.0 452.2 L1496.5 454.7 L1498.1 457.3 L1499.6 459.8 L1501.1 462.4 L1502.7 465.0 L1504.2 467.6 L1505.8 470.2 L1507.3 472.8 L1508.8 475.5 L1510.4 478.1 L1511.9 480.8 L1513.5 483.5 L1515.0 486.2 L1516.6 488.9 L1518.1 491.6 L1519.6 494.3 L1521.2 497.1 L1522.7 499.9 L1524.3 502.7 L1525.8 505.5 L1527.3 508.3 L1528.9 511.1 L1530.4 513.9 L1532.0 516.8 L1533.5 519.6 L1535.1 522.5 L1536.6 525.4 L1538.1 528.3 L1539.7 531.2 L1541.2 534.1 L1542.8 537.0 L1544.3 539.9 L1545.8 542.9 L1547.4 545.8 L1548.9 548.8 L1550.5 551.7 L1552.0 554.7 L1553.6 557.7 L1555.1 560.7 L1556.6 563.8 L1558.2 566.8 L1559.7 569.8 L1561.3 572.9 L1562.8 576.0 L1564.3 579.1 L1565.9 582.2 L1567.4 585.3 L1569.0 588.4 L1570.5 591.6 L1572.1 594.7 L1573.6 597.9 L1575.1 601.0 L1576.7 604.2 L1578.2 607.4 L1579.8 610.6 L1581.3 613.8 L1582.8 617.0 L1584.4 620.3 L1585.9 623.5 L1587.5 626.7 L1589.0 630.0 L1590.6 633.3 L1592.1 636.5 L1593.6 639.8 L1595.2 643.1 L1596.7 646.5 L1598.3 649.8 L1599.8 653.1 L1601.3 656.5 L1602.9 659.8 L1604.4 663.2 L1606.0 666.6 L1607.5 670.0 L1609.1 673.4 L1610.6 676.8 L1612.1 680.2 L1613.7 683.7 L1615.2 687.1 L1616.8 690.6 L1618.3 694.0 L1619.8 697.5 L1621.4 701.0 L1622.9 704.5 L1624.5 708.0 L1626.0 711.5 L1627.6 715.1 L1629.1 718.7 L1630.6 722.3 L1632.2 725.9 L1633.7 729.5 L1635.3 733.1 L1636.8 736.8 L1638.3 740.4 L1639.9 744.0 L1641.4 747.7 L1643.0 751.3 L1644.5 754.9 L1646.0 758.5 L1647.6 762.1 L1649.1 765.7 L1650.7 769.2 L1652.2 772.8 L1653.8 776.3 L1655.3 779.8 L1656.8 783.4 L1658.4 786.9 L1659.9 790.4 L1661.5 794.0 L1663.0 797.5 L1664.5 801.0 L1666.1 804.6 L1667.6 808.1 L1669.2 811.6 L1670.7 815.1 L1672.3 818.5 L1673.8 822.0 L1675.3 825.4 L1676.9 828.9 L1678.4 832.3 L1680.0 835.6 L1681.5 839.0 L1683.0 842.3 L1684.6 845.6 L1686.1 848.8 L1687.7 852.0 L1689.2 855.2 L1690.8 858.4 L1692.3 861.6 L1693.8 864.8 L1695.4 868.0 L1696.9 871.1 L1698.5 874.2 L1700.0 877.3 L1701.5 880.4 L1703.1 883.4 L1704.6 886.3 L1706.2 889.2 L1707.7 892.1 L1709.3 894.9 L1710.8 897.6 L1712.3 900.3 L1713.9 902.9 L1715.4 905.5 L1717.0 908.1 L1718.5 910.7 L1720.0 913.3 L1721.6 915.8 L1723.1 918.3 L1724.7 920.8 L1726.2 923.2 L1727.8 925.6 L1729.3 928.0 L1730.8 930.3 L1732.4 932.6 L1733.9 934.9 L1735.5 937.1 L1737.0 939.2 L1738.5 941.3 L1740.1 943.4 L1741.6 945.4 L1743.2 947.3 L1744.7 949.2 L1746.3 951.0 L1747.8 952.8 L1749.3 954.5 L1750.9 956.1 L1752.4 957.7 L1754.0 959.3 L1755.5 960.8 L1757.0 962.3 L1758.6 963.8 L1760.1 965.2 L1761.7 966.6 L1763.2 968.0 L1764.8 969.4 L1766.3 970.8 L1767.8 972.2 L1769.4 973.6 L1770.9 975.0 L1772.5 976.4 L1774.0 977.7 L1775.5 979.1 L1777.1 980.4 L1778.6 981.6 L1780.2 982.8 L1781.7 984.0 L1783.3 985.1 L1784.8 986.2 L1786.3 987.1 L1787.9 988.1 L1789.4 989.0 L1791.0 989.9 L1792.5 990.7 L1794.0 991.5 L1795.6 992.3 L1797.1 993.1 L1798.7 993.8 L1800.2 994.5 L1801.7 995.2 L1803.3 995.8 L1804.8 996.4 L1806.4 997.0 L1807.9 997.6 L1809.5 998.1 L1811.0 998.6 L1812.5 999.1 L1814.1 999.6 L1815.6 1000.1 L1817.2 1000.5 L1818.7 1000.9 L1820.2 1001.3 L1821.8 1001.7 L1823.3 1002.1 L1824.9 1002.4 L1826.4 1002.8 L1828.0 1003.1 L1829.5 1003.4 L1831.0 1003.7 L1832.6 1004.0 L1834.1 1004.2 L1835.7 1004.5 L1837.2 1004.7 L1838.7 1004.8 L1840.3 1005.0 L1841.8 1005.2 L1843.4 1005.4 L1844.9 1005.6 L1846.5 1005.8 L1848.0 1005.9 L1849.5 1006.1 L1851.1 1006.3 L1852.6 1006.4 L1854.2 1006.5 L1855.7 1006.7 L1857.2 1006.8 L1858.8 1006.9 L1860.3 1007.0 L1861.9 1007.1 L1863.4 1007.2 L1865.0 1007.3 L1866.5 1007.4 L1868.0 1007.4 L1869.6 1007.5 L1871.1 1007.5 L1872.7 1007.6 L1874.2 1007.6 L1875.7 1007.6 L1877.3 1007.7 L1878.8 1007.7 L1880.4 1007.7 L1881.9 1007.8 L1883.5 1007.8 L1885.0 1007.8 L1886.5 1007.9 L1888.1 1007.9 L1889.6 1007.9 L1891.2 1008.0 L1892.7 1008.0 L1894.2 1008.0 L1895.8 1008.0 L1897.3 1008.1 L1898.9 1008.1 L1900.4 1008.1 L1902.0 1008.1 L1903.5 1008.1 L1905.0 1008.2 L1906.6 1008.2 L1908.1 1008.2 L1909.7 1008.2 L1911.2 1008.2 L1912.7 1008.3 L1914.3 1008.3 L1915.8 1008.3 L1917.4 1008.3 L1918.9 1008.3 L1920.5 1008.3 L1922.0 1008.4 L1923.5 1008.4 L1925.1 1008.4 L1926.6 1008.4 L1928.2 1008.4 L1929.7 1008.4 L1931.2 1008.4 L1932.8 1008.4 L1934.3 1008.4 L1935.9 1008.5 L1937.4 1008.5 L1939.0 1008.5 L1940.5 1008.5 L1942.0 1008.5 L1943.6 1008.5 L1945.1 1008.5 L1946.7 1008.5 L1948.2 1008.5" stroke="#FF6E08" stroke-width="7.5"/>
<path d="M254.0 128.0 L255.5 128.0 L257.1 128.0 L258.6 128.0 L260.2 128.0 L261.7 128.0 L263.2 128.0 L264.8 128.0 L266.3 128.0 L267.9 128.0 L269.4 128.0 L271.0 128.0 L272.5 128.0 L274.0 128.0 L275.6 128.0 L277.1 128.1 L278.7 128.1 L280.2 128.1 L281.7 128.1 L283.3 128.1 L284.8 128.1 L286.4 128.1 L287.9 128.1 L289.5 128.1 L291.0 128.1 L292.5 128.1 L294.1 128.2 L295.6 128.2 L297.2 128.2 L298.7 128.2 L300.2 128.2 L301.8 128.2 L303.3 128.2 L304.9 128.3 L306.4 128.3 L308.0 128.3 L309.5 128.3 L311.0 128.3 L312.6 128.3 L314.1 128.3 L315.7 128.4 L317.2 128.4 L318.7 128.4 L320.3 128.4 L321.8 128.4 L323.4 128.4 L324.9 128.5 L326.5 128.5 L328.0 128.5 L329.5 128.5 L331.1 128.5 L332.6 128.6 L334.2 128.6 L335.7 128.6 L337.2 128.6 L338.8 128.6 L340.3 128.7 L341.9 128.7 L343.4 128.7 L345.0 128.7 L346.5 128.7 L348.0 128.8 L349.6 128.8 L351.1 128.8 L352.7 128.8 L354.2 128.8 L355.7 128.9 L357.3 128.9 L358.8 128.9 L360.4 128.9 L361.9 129.0 L363.5 129.0 L365.0 129.0 L366.5 129.0 L368.1 129.0 L369.6 129.1 L371.2 129.1 L372.7 129.1 L374.2 129.1 L375.8 129.2 L377.3 129.2 L378.9 129.2 L380.4 129.2 L382.0 129.2 L383.5 129.3 L385.0 129.3 L386.6 129.3 L388.1 129.3 L389.7 129.4 L391.2 129.4 L392.7 129.4 L394.3 129.4 L395.8 129.5 L397.4 129.5 L398.9 129.5 L400.5 129.5 L402.0 129.5 L403.5 129.6 L405.1 129.6 L406.6 129.6 L408.2 129.6 L409.7 129.7 L411.2 129.7 L412.8 129.7 L414.3 129.7 L415.9 129.8 L417.4 129.8 L418.9 129.8 L420.5 129.8 L422.0 129.8 L423.6 129.9 L425.1 129.9 L426.7 129.9 L428.2 129.9 L429.7 129.9 L431.3 130.0 L432.8 130.0 L434.4 130.0 L435.9 130.0 L437.4 130.0 L439.0 130.1 L440.5 130.1 L442.1 130.1 L443.6 130.1 L445.2 130.1 L446.7 130.2 L448.2 130.2 L449.8 130.2 L451.3 130.2 L452.9 130.2 L454.4 130.3 L455.9 130.3 L457.5 130.3 L459.0 130.3 L460.6 130.3 L462.1 130.3 L463.7 130.4 L465.2 130.4 L466.7 130.4 L468.3 130.4 L469.8 130.4 L471.4 130.4 L472.9 130.5 L474.4 130.5 L476.0 130.5 L477.5 130.5 L479.1 130.5 L480.6 130.5 L482.2 130.6 L483.7 130.6 L485.2 130.6 L486.8 130.6 L488.3 130.6 L489.9 130.6 L491.4 130.7 L492.9 130.7 L494.5 130.7 L496.0 130.7 L497.6 130.7 L499.1 130.7 L500.7 130.8 L502.2 130.8 L503.7 130.8 L505.3 130.8 L506.8 130.8 L508.4 130.8 L509.9 130.9 L511.4 130.9 L513.0 130.9 L514.5 130.9 L516.1 130.9 L517.6 131.0 L519.2 131.0 L520.7 131.0 L522.2 131.0 L523.8 131.0 L525.3 131.0 L526.9 131.1 L528.4 131.1 L529.9 131.1 L531.5 131.1 L533.0 131.1 L534.6 131.1 L536.1 131.2 L537.7 131.2 L539.2 131.2 L540.7 131.2 L542.3 131.2 L543.8 131.3 L545.4 131.3 L546.9 131.3 L548.4 131.3 L550.0 131.3 L551.5 131.3 L553.1 131.4 L554.6 131.4 L556.2 131.4 L557.7 131.4 L559.2 131.4 L560.8 131.5 L562.3 131.5 L563.9 131.5 L565.4 131.5 L566.9 131.5 L568.5 131.6 L570.0 131.6 L571.6 131.6 L573.1 131.6 L574.6 131.6 L576.2 131.7 L577.7 131.7 L579.3 131.7 L580.8 131.7 L582.4 131.7 L583.9 131.8 L585.4 131.8 L587.0 131.8 L588.5 131.8 L590.1 131.9 L591.6 131.9 L593.1 131.9 L594.7 131.9 L596.2 131.9 L597.8 132.0 L599.3 132.0 L600.9 132.0 L602.4 132.0 L603.9 132.1 L605.5 132.1 L607.0 132.1 L608.6 132.1 L610.1 132.2 L611.6 132.2 L613.2 132.2 L614.7 132.2 L616.3 132.3 L617.8 132.3 L619.4 132.3 L620.9 132.4 L622.4 132.4 L624.0 132.4 L625.5 132.5 L627.1 132.5 L628.6 132.5 L630.1 132.5 L631.7 132.6 L633.2 132.6 L634.8 132.6 L636.3 132.7 L637.9 132.7 L639.4 132.7 L640.9 132.8 L642.5 132.8 L644.0 132.8 L645.6 132.9 L647.1 132.9 L648.6 132.9 L650.2 133.0 L651.7 133.0 L653.3 133.0 L654.8 133.1 L656.4 133.1 L657.9 133.1 L659.4 133.2 L661.0 133.2 L662.5 133.2 L664.1 133.3 L665.6 133.3 L667.1 133.3 L668.7 133.4 L670.2 133.4 L671.8 133.4 L673.3 133.5 L674.9 133.5 L676.4 133.5 L677.9 133.6 L679.5 133.6 L681.0 133.6 L682.6 133.7 L684.1 133.7 L685.6 133.7 L687.2 133.7 L688.7 133.8 L690.3 133.8 L691.8 133.8 L693.4 133.9 L694.9 133.9 L696.4 133.9 L698.0 133.9 L699.5 134.0 L701.1 134.0 L702.6 134.0 L704.1 134.1 L705.7 134.1 L707.2 134.1 L708.8 134.1 L710.3 134.2 L711.9 134.2 L713.4 134.2 L714.9 134.2 L716.5 134.3 L718.0 134.3 L719.6 134.3 L721.1 134.3 L722.6 134.3 L724.2 134.4 L725.7 134.4 L727.3 134.4 L728.8 134.4 L730.3 134.4 L731.9 134.5 L733.4 134.5 L735.0 134.5 L736.5 134.5 L738.1 134.5 L739.6 134.6 L741.1 134.6 L742.7 134.6 L744.2 134.6 L745.8 134.6 L747.3 134.7 L748.8 134.7 L750.4 134.7 L751.9 134.7 L753.5 134.8 L755.0 134.8 L756.6 134.8 L758.1 134.8 L759.6 134.8 L761.2 134.9 L762.7 134.9 L764.3 134.9 L765.8 134.9 L767.3 135.0 L768.9 135.0 L770.4 135.0 L772.0 135.0 L773.5 135.1 L775.1 135.1 L776.6 135.1 L778.1 135.1 L779.7 135.2 L781.2 135.2 L782.8 135.2 L784.3 135.3 L785.8 135.3 L787.4 135.3 L788.9 135.3 L790.5 135.4 L792.0 135.4 L793.6 135.4 L795.1 135.5 L796.6 135.5 L798.2 135.6 L799.7 135.6 L801.3 135.6 L802.8 135.7 L804.3 135.7 L805.9 135.8 L807.4 135.8 L809.0 135.9 L810.5 135.9 L812.1 136.0 L813.6 136.0 L815.1 136.1 L816.7 136.2 L818.2 136.2 L819.8 136.3 L821.3 136.4 L822.8 136.4 L824.4 136.5 L825.9 136.6 L827.5 136.6 L829.0 136.7 L830.6 136.8 L832.1 136.9 L833.6 137.0 L835.2 137.0 L836.7 137.1 L838.3 137.2 L839.8 137.3 L841.3 137.4 L842.9 137.4 L844.4 137.5 L846.0 137.6 L847.5 137.7 L849.1 137.8 L850.6 137.9 L852.1 138.0 L853.7 138.0 L855.2 138.1 L856.8 138.2 L858.3 138.3 L859.8 138.4 L861.4 138.5 L862.9 138.6 L864.5 138.7 L866.0 138.7 L867.6 138.8 L869.1 138.9 L870.6 139.0 L872.2 139.1 L873.7 139.2 L875.3 139.2 L876.8 139.3 L878.3 139.4 L879.9 139.5 L881.4 139.5 L883.0 139.6 L884.5 139.7 L886.0 139.8 L887.6 139.9 L889.1 140.0 L890.7 140.0 L892.2 140.1 L893.8 140.2 L895.3 140.3 L896.8 140.4 L898.4 140.5 L899.9 140.5 L901.5 140.6 L903.0 140.7 L904.5 140.8 L906.1 140.9 L907.6 141.0 L909.2 141.0 L910.7 141.1 L912.3 141.2 L913.8 141.3 L915.3 141.4 L916.9 141.5 L918.4 141.6 L920.0 141.6 L921.5 141.7 L923.0 141.8 L924.6 141.9 L926.1 142.0 L927.7 142.1 L929.2 142.1 L930.8 142.2 L932.3 142.3 L933.8 142.4 L935.4 142.5 L936.9 142.5 L938.5 142.6 L940.0 142.7 L941.5 142.8 L943.1 142.9 L944.6 142.9 L946.2 143.0 L947.7 143.1 L949.3 143.2 L950.8 143.2 L952.3 143.3 L953.9 143.4 L955.4 143.5 L957.0 143.5 L958.5 143.6 L960.0 143.6 L961.6 143.7 L963.1 143.8 L964.7 143.8 L966.2 143.9 L967.8 144.0 L969.3 144.0 L970.8 144.1 L972.4 144.1 L973.9 144.2 L975.5 144.3 L977.0 144.3 L978.5 144.4 L980.1 144.5 L981.6 144.5 L983.2 144.6 L984.7 144.7 L986.3 144.7 L987.8 144.8 L989.3 144.9 L990.9 144.9 L992.4 145.0 L994.0 145.1 L995.5 145.2 L997.0 145.3 L998.6 145.3 L1000.1 145.4 L1001.7 145.5 L1003.2 145.6 L1004.8 145.7 L1006.3 145.8 L1007.8 145.9 L1009.4 146.1 L1010.9 146.2 L1012.5 146.3 L1014.0 146.5 L1015.5 146.6 L1017.1 146.7 L1018.6 146.9 L1020.2 147.0 L1021.7 147.1 L1023.3 147.3 L1024.8 147.4 L1026.3 147.6 L1027.9 147.7 L1029.4 147.9 L1031.0 148.0 L1032.5 148.1 L1034.0 148.3 L1035.6 148.4 L1037.1 148.5 L1038.7 148.6 L1040.2 148.8 L1041.7 148.9 L1043.3 149.0 L1044.8 149.1 L1046.4 149.2 L1047.9 149.3 L1049.5 149.3 L1051.0 149.4 L1052.5 149.5 L1054.1 149.5 L1055.6 149.6 L1057.2 149.7 L1058.7 149.7 L1060.2 149.7 L1061.8 149.8 L1063.3 149.8 L1064.9 149.9 L1066.4 149.9 L1068.0 150.0 L1069.5 150.0 L1071.0 150.1 L1072.6 150.1 L1074.1 150.2 L1075.7 150.2 L1077.2 150.3 L1078.7 150.4 L1080.3 150.4 L1081.8 150.5 L1083.4 150.6 L1084.9 150.7 L1086.5 150.8 L1088.0 150.9 L1089.5 151.0 L1091.1 151.1 L1092.6 151.3 L1094.2 151.4 L1095.7 151.5 L1097.2 151.6 L1098.8 151.8 L1100.3 151.9 L1101.9 152.1 L1103.4 152.2 L1105.0 152.4 L1106.5 152.5 L1108.0 152.7 L1109.6 152.9 L1111.1 153.1 L1112.7 153.2 L1114.2 153.4 L1115.7 153.6 L1117.3 153.8 L1118.8 154.0 L1120.4 154.2 L1121.9 154.4 L1123.5 154.6 L1125.0 154.8 L1126.5 155.0 L1128.1 155.2 L1129.6 155.4 L1131.2 155.6 L1132.7 155.8 L1134.2 156.1 L1135.8 156.3 L1137.3 156.5 L1138.9 156.7 L1140.4 157.0 L1142.0 157.2 L1143.5 157.5 L1145.0 157.7 L1146.6 158.0 L1148.1 158.3 L1149.7 158.6 L1151.2 158.9 L1152.7 159.2 L1154.3 159.5 L1155.8 159.8 L1157.4 160.2 L1158.9 160.5 L1160.5 160.9 L1162.0 161.2 L1163.5 161.6 L1165.1 162.0 L1166.6 162.3 L1168.2 162.7 L1169.7 163.1 L1171.2 163.5 L1172.8 163.9 L1174.3 164.3 L1175.9 164.8 L1177.4 165.2 L1178.9 165.6 L1180.5 166.0 L1182.0 166.5 L1183.6 166.9 L1185.1 167.3 L1186.7 167.8 L1188.2 168.2 L1189.7 168.7 L1191.3 169.1 L1192.8 169.6 L1194.4 170.1 L1195.9 170.5 L1197.4 171.0 L1199.0 171.4 L1200.5 171.9 L1202.1 172.4 L1203.6 172.8 L1205.2 173.3 L1206.7 173.8 L1208.2 174.3 L1209.8 174.8 L1211.3 175.3 L1212.9 175.8 L1214.4 176.4 L1215.9 176.9 L1217.5 177.4 L1219.0 178.0 L1220.6 178.5 L1222.1 179.1 L1223.7 179.7 L1225.2 180.2 L1226.7 180.8 L1228.3 181.4 L1229.8 182.0 L1231.4 182.6 L1232.9 183.2 L1234.4 183.8 L1236.0 184.5 L1237.5 185.1 L1239.1 185.7 L1240.6 186.4 L1242.2 187.1 L1243.7 187.7 L1245.2 188.4 L1246.8 189.1 L1248.3 189.8 L1249.9 190.5 L1251.4 191.2 L1252.9 191.9 L1254.5 192.7 L1256.0 193.4 L1257.6 194.2 L1259.1 195.0 L1260.7 195.8 L1262.2 196.6 L1263.7 197.5 L1265.3 198.3 L1266.8 199.2 L1268.4 200.0 L1269.9 200.9 L1271.4 201.8 L1273.0 202.7 L1274.5 203.6 L1276.1 204.5 L1277.6 205.5 L1279.2 206.4 L1280.7 207.4 L1282.2 208.3 L1283.8 209.3 L1285.3 210.3 L1286.9 211.3 L1288.4 212.3 L1289.9 213.3 L1291.5 214.3 L1293.0 215.3 L1294.6 216.3 L1296.1 217.3 L1297.7 218.4 L1299.2 219.4 L1300.7 220.5 L1302.3 221.5 L1303.8 222.6 L1305.4 223.8 L1306.9 224.9 L1308.4 226.0 L1310.0 227.2 L1311.5 228.4 L1313.1 229.6 L1314.6 230.8 L1316.2 232.0 L1317.7 233.3 L1319.2 234.5 L1320.8 235.8 L1322.3 237.0 L1323.9 238.3 L1325.4 239.6 L1326.9 240.9 L1328.5 242.2 L1330.0 243.4 L1331.6 244.7 L1333.1 246.0 L1334.6 247.3 L1336.2 248.6 L1337.7 249.9 L1339.3 251.2 L1340.8 252.4 L1342.4 253.7 L1343.9 255.0 L1345.4 256.2 L1347.0 257.5 L1348.5 258.8 L1350.1 260.0 L1351.6 261.3 L1353.1 262.6 L1354.7 263.9 L1356.2 265.2 L1357.8 266.5 L1359.3 267.8 L1360.9 269.2 L1362.4 270.5 L1363.9 271.9 L1365.5 273.3 L1367.0 274.7 L1368.6 276.1 L1370.1 277.5 L1371.6 279.0 L1373.2 280.5 L1374.7 281.9 L1376.3 283.4 L1377.8 285.0 L1379.4 286.5 L1380.9 288.0 L1382.4 289.6 L1384.0 291.1 L1385.5 292.7 L1387.1 294.3 L1388.6 295.9 L1390.1 297.5 L1391.7 299.1 L1393.2 300.7 L1394.8 302.3 L1396.3 304.0 L1397.9 305.7 L1399.4 307.3 L1400.9 309.0 L1402.5 310.7 L1404.0 312.4 L1405.6 314.1 L1407.1 315.8 L1408.6 317.6 L1410.2 319.3 L1411.7 321.0 L1413.3 322.8 L1414.8 324.6 L1416.4 326.3 L1417.9 328.1 L1419.4 329.9 L1421.0 331.7 L1422.5 333.5 L1424.1 335.4 L1425.6 337.2 L1427.1 339.0 L1428.7 340.9 L1430.2 342.7 L1431.8 344.6 L1433.3 346.5 L1434.9 348.4 L1436.4 350.3 L1437.9 352.2 L1439.5 354.2 L1441.0 356.1 L1442.6 358.1 L1444.1 360.1 L1445.6 362.1 L1447.2 364.1 L1448.7 366.1 L1450.3 368.2 L1451.8 370.2 L1453.4 372.3 L1454.9 374.4 L1456.4 376.5 L1458.0 378.6 L1459.5 380.7 L1461.1 382.8 L1462.6 385.0 L1464.1 387.1 L1465.7 389.3 L1467.2 391.5 L1468.8 393.7 L1470.3 395.9 L1471.9 398.1 L1473.4 400.4 L1474.9 402.6 L1476.5 404.9 L1478.0 407.2 L1479.6 409.5 L1481.1 411.8 L1482.6 414.2 L1484.2 416.5 L1485.7 418.9 L1487.3 421.3 L1488.8 423.7 L1490.3 426.1 L1491.9 428.6 L1493.4 431.0 L1495.0 433.5 L1496.5 436.0 L1498.1 438.5 L1499.6 441.0 L1501.1 443.5 L1502.7 446.0 L1504.2 448.6 L1505.8 451.2 L1507.3 453.7 L1508.8 456.3 L1510.4 458.9 L1511.9 461.5 L1513.5 464.1 L1515.0 466.7 L1516.6 469.4 L1518.1 472.0 L1519.6 474.6 L1521.2 477.3 L1522.7 480.0 L1524.3 482.7 L1525.8 485.4 L1527.3 488.1 L1528.9 490.9 L1530.4 493.6 L1532.0 496.4 L1533.5 499.2 L1535.1 502.0 L1536.6 504.8 L1538.1 507.7 L1539.7 510.5 L1541.2 513.4 L1542.8 516.3 L1544.3 519.1 L1545.8 522.0 L1547.4 525.0 L1548.9 527.9 L1550.5 530.8 L1552.0 533.7 L1553.6 536.7 L1555.1 539.6 L1556.6 542.6 L1558.2 545.6 L1559.7 548.6 L1561.3 551.5 L1562.8 554.5 L1564.3 557.5 L1565.9 560.6 L1567.4 563.6 L1569.0 566.7 L1570.5 569.7 L1572.1 572.8 L1573.6 575.9 L1575.1 579.0 L1576.7 582.1 L1578.2 585.2 L1579.8 588.3 L1581.3 591.5 L1582.8 594.7 L1584.4 597.8 L1585.9 601.0 L1587.5 604.2 L1589.0 607.4 L1590.6 610.6 L1592.1 613.8 L1593.6 617.1 L1595.2 620.3 L1596.7 623.6 L1598.3 626.8 L1599.8 630.1 L1601.3 633.4 L1602.9 636.7 L1604.4 640.0 L1606.0 643.4 L1607.5 646.7 L1609.1 650.0 L1610.6 653.4 L1612.1 656.8 L1613.7 660.2 L1615.2 663.6 L1616.8 667.0 L1618.3 670.4 L1619.8 673.9 L1621.4 677.3 L1622.9 680.8 L1624.5 684.3 L1626.0 687.8 L1627.6 691.3 L1629.1 694.8 L1630.6 698.3 L1632.2 701.9 L1633.7 705.5 L1635.3 709.1 L1636.8 712.7 L1638.3 716.4 L1639.9 720.1 L1641.4 723.8 L1643.0 727.5 L1644.5 731.2 L1646.0 734.9 L1647.6 738.7 L1649.1 742.4 L1650.7 746.2 L1652.2 749.9 L1653.8 753.6 L1655.3 757.4 L1656.8 761.1 L1658.4 764.8 L1659.9 768.5 L1661.5 772.1 L1663.0 775.7 L1664.5 779.4 L1666.1 783.0 L1667.6 786.7 L1669.2 790.3 L1670.7 794.0 L1672.3 797.6 L1673.8 801.3 L1675.3 804.9 L1676.9 808.6 L1678.4 812.2 L1680.0 815.8 L1681.5 819.4 L1683.0 822.9 L1684.6 826.5 L1686.1 830.0 L1687.7 833.5 L1689.2 836.9 L1690.8 840.4 L1692.3 843.7 L1693.8 847.1 L1695.4 850.4 L1696.9 853.7 L1698.5 856.9 L1700.0 860.2 L1701.5 863.4 L1703.1 866.6 L1704.6 869.8 L1706.2 873.0 L1707.7 876.1 L1709.3 879.2 L1710.8 882.2 L1712.3 885.2 L1713.9 888.2 L1715.4 891.1 L1717.0 893.9 L1718.5 896.7 L1720.0 899.4 L1721.6 902.0 L1723.1 904.7 L1724.7 907.3 L1726.2 909.9 L1727.8 912.5 L1729.3 915.0 L1730.8 917.5 L1732.4 920.0 L1733.9 922.5 L1735.5 924.9 L1737.0 927.3 L1738.5 929.6 L1740.1 931.9 L1741.6 934.2 L1743.2 936.4 L1744.7 938.6 L1746.3 940.7 L1747.8 942.8 L1749.3 944.8 L1750.9 946.8 L1752.4 948.7 L1754.0 950.5 L1755.5 952.3 L1757.0 954.1 L1758.6 955.8 L1760.1 957.4 L1761.7 959.0 L1763.2 960.5 L1764.8 962.1 L1766.3 963.6 L1767.8 965.0 L1769.4 966.5 L1770.9 967.9 L1772.5 969.3 L1774.0 970.7 L1775.5 972.1 L1777.1 973.6 L1778.6 975.0 L1780.2 976.4 L1781.7 977.7 L1783.3 979.1 L1784.8 980.4 L1786.3 981.7 L1787.9 982.9 L1789.4 984.1 L1791.0 985.2 L1792.5 986.3 L1794.0 987.3 L1795.6 988.2 L1797.1 989.2 L1798.7 990.1 L1800.2 990.9 L1801.7 991.8 L1803.3 992.6 L1804.8 993.4 L1806.4 994.1 L1807.9 994.8 L1809.5 995.5 L1811.0 996.1 L1812.5 996.7 L1814.1 997.3 L1815.6 997.8 L1817.2 998.3 L1818.7 998.8 L1820.2 999.3 L1821.8 999.7 L1823.3 1000.2 L1824.9 1000.6 L1826.4 1000.9 L1828.0 1001.3 L1829.5 1001.6 L1831.0 1002.0 L1832.6 1002.3 L1834.1 1002.6 L1835.7 1002.9 L1837.2 1003.1 L1838.7 1003.4 L1840.3 1003.6 L1841.8 1003.9 L1843.4 1004.0 L1844.9 1004.2 L1846.5 1004.4 L1848.0 1004.6 L1849.5 1004.8 L1851.1 1005.0 L1852.6 1005.1 L1854.2 1005.3 L1855.7 1005.5 L1857.2 1005.6 L1858.8 1005.8 L1860.3 1005.9 L1861.9 1006.1 L1863.4 1006.2 L1865.0 1006.3 L1866.5 1006.4 L1868.0 1006.5 L1869.6 1006.6 L1871.1 1006.7 L1872.7 1006.7 L1874.2 1006.8 L1875.7 1006.8 L1877.3 1006.8 L1878.8 1006.9 L1880.4 1006.9 L1881.9 1006.9 L1883.5 1007.0 L1885.0 1007.0 L1886.5 1007.0 L1888.1 1007.0 L1889.6 1007.0 L1891.2 1007.1 L1892.7 1007.1 L1894.2 1007.1 L1895.8 1007.1 L1897.3 1007.2 L1898.9 1007.2 L1900.4 1007.2 L1902.0 1007.2 L1903.5 1007.2 L1905.0 1007.2 L1906.6 1007.3 L1908.1 1007.3 L1909.7 1007.3 L1911.2 1007.3 L1912.7 1007.3 L1914.3 1007.3 L1915.8 1007.3 L1917.4 1007.4 L1918.9 1007.4 L1920.5 1007.4 L1922.0 1007.4 L1923.5 1007.4 L1925.1 1007.4 L1926.6 1007.4 L1928.2 1007.4 L1929.7 1007.4 L1931.2 1007.4 L1932.8 1007.4 L1934.3 1007.5 L1935.9 1007.5 L1937.4 1007.5 L1939.0 1007.5 L1940.5 1007.5 L1942.0 1007.5 L1943.6 1007.5 L1945.1 1007.5 L1946.7 1007.5 L1948.2 1007.5" stroke="#12A51A" stroke-width="7.5"/>
<path d="M254.0 128.0 L255.5 128.0 L257.1 128.0 L258.6 128.0 L260.2 128.0 L261.7 128.0 L263.2 128.0 L264.8 128.0 L266.3 128.0 L267.9 128.0 L269.4 128.0 L271.0 128.0 L272.5 128.0 L274.0 128.0 L275.6 128.0 L277.1 128.1 L278.7 128.1 L280.2 128.1 L281.7 128.1 L283.3 128.1 L284.8 128.1 L286.4 128.1 L287.9 128.1 L289.5 128.1 L291.0 128.1 L292.5 128.1 L294.1 128.2 L295.6 128.2 L297.2 128.2 L298.7 128.2 L300.2 128.2 L301.8 128.2 L303.3 128.2 L304.9 128.3 L306.4 128.3 L308.0 128.3 L309.5 128.3 L311.0 128.3 L312.6 128.3 L314.1 128.3 L315.7 128.4 L317.2 128.4 L318.7 128.4 L320.3 128.4 L321.8 128.4 L323.4 128.4 L324.9 128.5 L326.5 128.5 L328.0 128.5 L329.5 128.5 L331.1 128.5 L332.6 128.6 L334.2 128.6 L335.7 128.6 L337.2 128.6 L338.8 128.6 L340.3 128.7 L341.9 128.7 L343.4 128.7 L345.0 128.7 L346.5 128.7 L348.0 128.8 L349.6 128.8 L351.1 128.8 L352.7 128.8 L354.2 128.8 L355.7 128.9 L357.3 128.9 L358.8 128.9 L360.4 128.9 L361.9 129.0 L363.5 129.0 L365.0 129.0 L366.5 129.0 L368.1 129.0 L369.6 129.1 L371.2 129.1 L372.7 129.1 L374.2 129.1 L375.8 129.2 L377.3 129.2 L378.9 129.2 L380.4 129.2 L382.0 129.2 L383.5 129.3 L385.0 129.3 L386.6 129.3 L388.1 129.3 L389.7 129.4 L391.2 129.4 L392.7 129.4 L394.3 129.4 L395.8 129.5 L397.4 129.5 L398.9 129.5 L400.5 129.5 L402.0 129.5 L403.5 129.6 L405.1 129.6 L406.6 129.6 L408.2 129.6 L409.7 129.7 L411.2 129.7 L412.8 129.7 L414.3 129.7 L415.9 129.8 L417.4 129.8 L418.9 129.8 L420.5 129.8 L422.0 129.8 L423.6 129.9 L425.1 129.9 L426.7 129.9 L428.2 129.9 L429.7 129.9 L431.3 130.0 L432.8 130.0 L434.4 130.0 L435.9 130.0 L437.4 130.0 L439.0 130.1 L440.5 130.1 L442.1 130.1 L443.6 130.1 L445.2 130.1 L446.7 130.2 L448.2 130.2 L449.8 130.2 L451.3 130.2 L452.9 130.2 L454.4 130.3 L455.9 130.3 L457.5 130.3 L459.0 130.3 L460.6 130.3 L462.1 130.3 L463.7 130.4 L465.2 130.4 L466.7 130.4 L468.3 130.4 L469.8 130.4 L471.4 130.4 L472.9 130.5 L474.4 130.5 L476.0 130.5 L477.5 130.5 L479.1 130.5 L480.6 130.5 L482.2 130.6 L483.7 130.6 L485.2 130.6 L486.8 130.6 L488.3 130.6 L489.9 130.6 L491.4 130.7 L492.9 130.7 L494.5 130.7 L496.0 130.7 L497.6 130.7 L499.1 130.7 L500.7 130.8 L502.2 130.8 L503.7 130.8 L505.3 130.8 L506.8 130.8 L508.4 130.8 L509.9 130.9 L511.4 130.9 L513.0 130.9 L514.5 130.9 L516.1 130.9 L517.6 131.0 L519.2 131.0 L520.7 131.0 L522.2 131.0 L523.8 131.0 L525.3 131.0 L526.9 131.1 L528.4 131.1 L529.9 131.1 L531.5 131.1 L533.0 131.1 L534.6 131.1 L536.1 131.2 L537.7 131.2 L539.2 131.2 L540.7 131.2 L542.3 131.2 L543.8 131.3 L545.4 131.3 L546.9 131.3 L548.4 131.3 L550.0 131.3 L551.5 131.3 L553.1 131.4 L554.6 131.4 L556.2 131.4 L557.7 131.4 L559.2 131.4 L560.8 131.5 L562.3 131.5 L563.9 131.5 L565.4 131.5 L566.9 131.5 L568.5 131.6 L570.0 131.6 L571.6 131.6 L573.1 131.6 L574.6 131.6 L576.2 131.7 L577.7 131.7 L579.3 131.7 L580.8 131.7 L582.4 131.7 L583.9 131.8 L585.4 131.8 L587.0 131.8 L588.5 131.8 L590.1 131.9 L591.6 131.9 L593.1 131.9 L594.7 131.9 L596.2 131.9 L597.8 132.0 L599.3 132.0 L600.9 132.0 L602.4 132.0 L603.9 132.1 L605.5 132.1 L607.0 132.1 L608.6 132.1 L610.1 132.2 L611.6 132.2 L613.2 132.2 L614.7 132.2 L616.3 132.3 L617.8 132.3 L619.4 132.3 L620.9 132.4 L622.4 132.4 L624.0 132.4 L625.5 132.5 L627.1 132.5 L628.6 132.5 L630.1 132.5 L631.7 132.6 L633.2 132.6 L634.8 132.6 L636.3 132.7 L637.9 132.7 L639.4 132.7 L640.9 132.8 L642.5 132.8 L644.0 132.8 L645.6 132.9 L647.1 132.9 L648.6 132.9 L650.2 133.0 L651.7 133.0 L653.3 133.0 L654.8 133.1 L656.4 133.1 L657.9 133.1 L659.4 133.2 L661.0 133.2 L662.5 133.2 L664.1 133.3 L665.6 133.3 L667.1 133.3 L668.7 133.4 L670.2 133.4 L671.8 133.4 L673.3 133.5 L674.9 133.5 L676.4 133.5 L677.9 133.6 L679.5 133.6 L681.0 133.6 L682.6 133.7 L684.1 133.7 L685.6 133.7 L687.2 133.7 L688.7 133.8 L690.3 133.8 L691.8 133.8 L693.4 133.9 L694.9 133.9 L696.4 133.9 L698.0 133.9 L699.5 134.0 L701.1 134.0 L702.6 134.0 L704.1 134.1 L705.7 134.1 L707.2 134.1 L708.8 134.1 L710.3 134.2 L711.9 134.2 L713.4 134.2 L714.9 134.2 L716.5 134.3 L718.0 134.3 L719.6 134.3 L721.1 134.3 L722.6 134.3 L724.2 134.4 L725.7 134.4 L727.3 134.4 L728.8 134.4 L730.3 134.4 L731.9 134.5 L733.4 134.5 L735.0 134.5 L736.5 134.5 L738.1 134.5 L739.6 134.6 L741.1 134.6 L742.7 134.6 L744.2 134.6 L745.8 134.6 L747.3 134.7 L748.8 134.7 L750.4 134.7 L751.9 134.7 L753.5 134.8 L755.0 134.8 L756.6 134.8 L758.1 134.8 L759.6 134.8 L761.2 134.9 L762.7 134.9 L764.3 134.9 L765.8 134.9 L767.3 135.0 L768.9 135.0 L770.4 135.0 L772.0 135.0 L773.5 135.1 L775.1 135.1 L776.6 135.1 L778.1 135.1 L779.7 135.2 L781.2 135.2 L782.8 135.2 L784.3 135.3 L785.8 135.3 L787.4 135.3 L788.9 135.3 L790.5 135.4 L792.0 135.4 L793.6 135.4 L795.1 135.5 L796.6 135.5 L798.2 135.6 L799.7 135.6 L801.3 135.6 L802.8 135.7 L804.3 135.7 L805.9 135.8 L807.4 135.8 L809.0 135.9 L810.5 135.9 L812.1 136.0 L813.6 136.0 L815.1 136.1 L816.7 136.2 L818.2 136.2 L819.8 136.3 L821.3 136.4 L822.8 136.4 L824.4 136.5 L825.9 136.6 L827.5 136.6 L829.0 136.7 L830.6 136.8 L832.1 136.9 L833.6 136.9 L835.2 137.0 L836.7 137.1 L838.3 137.2 L839.8 137.3 L841.3 137.4 L842.9 137.4 L844.4 137.5 L846.0 137.6 L847.5 137.7 L849.1 137.8 L850.6 137.9 L852.1 138.0 L853.7 138.0 L855.2 138.1 L856.8 138.2 L858.3 138.3 L859.8 138.4 L861.4 138.5 L862.9 138.6 L864.5 138.6 L866.0 138.7 L867.6 138.8 L869.1 138.9 L870.6 139.0 L872.2 139.1 L873.7 139.1 L875.3 139.2 L876.8 139.3 L878.3 139.4 L879.9 139.5 L881.4 139.5 L883.0 139.6 L884.5 139.7 L886.0 139.8 L887.6 139.9 L889.1 140.0 L890.7 140.0 L892.2 140.1 L893.8 140.2 L895.3 140.3 L896.8 140.4 L898.4 140.5 L899.9 140.5 L901.5 140.6 L903.0 140.7 L904.5 140.8 L906.1 140.9 L907.6 141.0 L909.2 141.1 L910.7 141.1 L912.3 141.2 L913.8 141.3 L915.3 141.4 L916.9 141.5 L918.4 141.6 L920.0 141.7 L921.5 141.7 L923.0 141.8 L924.6 141.9 L926.1 142.0 L927.7 142.1 L929.2 142.2 L930.8 142.3 L932.3 142.3 L933.8 142.4 L935.4 142.5 L936.9 142.6 L938.5 142.7 L940.0 142.8 L941.5 142.8 L943.1 142.9 L944.6 143.0 L946.2 143.1 L947.7 143.2 L949.3 143.3 L950.8 143.3 L952.3 143.4 L953.9 143.5 L955.4 143.6 L957.0 143.7 L958.5 143.7 L960.0 143.8 L961.6 143.9 L963.1 144.0 L964.7 144.0 L966.2 144.1 L967.8 144.2 L969.3 144.2 L970.8 144.3 L972.4 144.4 L973.9 144.5 L975.5 144.5 L977.0 144.6 L978.5 144.7 L980.1 144.8 L981.6 144.8 L983.2 144.9 L984.7 145.0 L986.3 145.1 L987.8 145.2 L989.3 145.3 L990.9 145.3 L992.4 145.4 L994.0 145.5 L995.5 145.6 L997.0 145.7 L998.6 145.8 L1000.1 145.9 L1001.7 146.0 L1003.2 146.2 L1004.8 146.3 L1006.3 146.4 L1007.8 146.5 L1009.4 146.7 L1010.9 146.8 L1012.5 147.0 L1014.0 147.1 L1015.5 147.3 L1017.1 147.4 L1018.6 147.6 L1020.2 147.8 L1021.7 147.9 L1023.3 148.1 L1024.8 148.3 L1026.3 148.4 L1027.9 148.6 L1029.4 148.8 L1031.0 149.0 L1032.5 149.1 L1034.0 149.3 L1035.6 149.5 L1037.1 149.7 L1038.7 149.9 L1040.2 150.0 L1041.7 150.2 L1043.3 150.4 L1044.8 150.6 L1046.4 150.8 L1047.9 150.9 L1049.5 151.1 L1051.0 151.3 L1052.5 151.5 L1054.1 151.6 L1055.6 151.8 L1057.2 152.0 L1058.7 152.1 L1060.2 152.3 L1061.8 152.5 L1063.3 152.7 L1064.9 152.8 L1066.4 153.0 L1068.0 153.2 L1069.5 153.4 L1071.0 153.6 L1072.6 153.8 L1074.1 154.0 L1075.7 154.2 L1077.2 154.4 L1078.7 154.6 L1080.3 154.8 L1081.8 155.0 L1083.4 155.3 L1084.9 155.5 L1086.5 155.7 L1088.0 156.0 L1089.5 156.2 L1091.1 156.5 L1092.6 156.7 L1094.2 157.0 L1095.7 157.2 L1097.2 157.5 L1098.8 157.8 L1100.3 158.0 L1101.9 158.3 L1103.4 158.6 L1105.0 158.9 L1106.5 159.2 L1108.0 159.4 L1109.6 159.7 L1111.1 160.0 L1112.7 160.3 L1114.2 160.6 L1115.7 160.9 L1117.3 161.3 L1118.8 161.6 L1120.4 161.9 L1121.9 162.2 L1123.5 162.5 L1125.0 162.9 L1126.5 163.2 L1128.1 163.6 L1129.6 163.9 L1131.2 164.2 L1132.7 164.6 L1134.2 165.0 L1135.8 165.3 L1137.3 165.7 L1138.9 166.0 L1140.4 166.4 L1142.0 166.8 L1143.5 167.2 L1145.0 167.6 L1146.6 168.0 L1148.1 168.4 L1149.7 168.8 L1151.2 169.2 L1152.7 169.7 L1154.3 170.1 L1155.8 170.6 L1157.4 171.0 L1158.9 171.5 L1160.5 172.0 L1162.0 172.4 L1163.5 172.9 L1165.1 173.4 L1166.6 173.9 L1168.2 174.4 L1169.7 174.9 L1171.2 175.4 L1172.8 175.9 L1174.3 176.5 L1175.9 177.0 L1177.4 177.5 L1178.9 178.0 L1180.5 178.6 L1182.0 179.1 L1183.6 179.7 L1185.1 180.2 L1186.7 180.8 L1188.2 181.3 L1189.7 181.9 L1191.3 182.4 L1192.8 183.0 L1194.4 183.6 L1195.9 184.1 L1197.4 184.7 L1199.0 185.3 L1200.5 185.8 L1202.1 186.4 L1203.6 187.0 L1205.2 187.6 L1206.7 188.2 L1208.2 188.8 L1209.8 189.4 L1211.3 190.0 L1212.9 190.6 L1214.4 191.2 L1215.9 191.8 L1217.5 192.4 L1219.0 193.1 L1220.6 193.7 L1222.1 194.4 L1223.7 195.0 L1225.2 195.7 L1226.7 196.3 L1228.3 197.0 L1229.8 197.7 L1231.4 198.4 L1232.9 199.0 L1234.4 199.7 L1236.0 200.4 L1237.5 201.1 L1239.1 201.9 L1240.6 202.6 L1242.2 203.3 L1243.7 204.0 L1245.2 204.8 L1246.8 205.5 L1248.3 206.3 L1249.9 207.0 L1251.4 207.8 L1252.9 208.6 L1254.5 209.4 L1256.0 210.2 L1257.6 211.0 L1259.1 211.8 L1260.7 212.6 L1262.2 213.4 L1263.7 214.3 L1265.3 215.1 L1266.8 216.0 L1268.4 216.8 L1269.9 217.7 L1271.4 218.6 L1273.0 219.5 L1274.5 220.4 L1276.1 221.3 L1277.6 222.2 L1279.2 223.1 L1280.7 224.1 L1282.2 225.0 L1283.8 226.0 L1285.3 226.9 L1286.9 227.9 L1288.4 228.9 L1289.9 229.9 L1291.5 230.9 L1293.0 231.9 L1294.6 232.9 L1296.1 233.9 L1297.7 235.0 L1299.2 236.0 L1300.7 237.1 L1302.3 238.2 L1303.8 239.2 L1305.4 240.4 L1306.9 241.5 L1308.4 242.6 L1310.0 243.8 L1311.5 245.0 L1313.1 246.1 L1314.6 247.3 L1316.2 248.6 L1317.7 249.8 L1319.2 251.0 L1320.8 252.3 L1322.3 253.6 L1323.9 254.8 L1325.4 256.1 L1326.9 257.4 L1328.5 258.7 L1330.0 260.1 L1331.6 261.4 L1333.1 262.7 L1334.6 264.1 L1336.2 265.4 L1337.7 266.8 L1339.3 268.1 L1340.8 269.5 L1342.4 270.9 L1343.9 272.2 L1345.4 273.6 L1347.0 275.1 L1348.5 276.5 L1350.1 277.9 L1351.6 279.4 L1353.1 280.9 L1354.7 282.4 L1356.2 283.9 L1357.8 285.4 L1359.3 286.9 L1360.9 288.4 L1362.4 290.0 L1363.9 291.6 L1365.5 293.2 L1367.0 294.8 L1368.6 296.4 L1370.1 298.0 L1371.6 299.7 L1373.2 301.4 L1374.7 303.0 L1376.3 304.7 L1377.8 306.5 L1379.4 308.2 L1380.9 309.9 L1382.4 311.7 L1384.0 313.5 L1385.5 315.3 L1387.1 317.1 L1388.6 318.9 L1390.1 320.8 L1391.7 322.6 L1393.2 324.5 L1394.8 326.4 L1396.3 328.3 L1397.9 330.2 L1399.4 332.2 L1400.9 334.2 L1402.5 336.1 L1404.0 338.1 L1405.6 340.1 L1407.1 342.2 L1408.6 344.2 L1410.2 346.3 L1411.7 348.4 L1413.3 350.5 L1414.8 352.7 L1416.4 354.8 L1417.9 357.0 L1419.4 359.2 L1421.0 361.4 L1422.5 363.7 L1424.1 365.9 L1425.6 368.2 L1427.1 370.5 L1428.7 372.8 L1430.2 375.1 L1431.8 377.5 L1433.3 379.8 L1434.9 382.2 L1436.4 384.5 L1437.9 386.9 L1439.5 389.3 L1441.0 391.7 L1442.6 394.1 L1444.1 396.5 L1445.6 398.9 L1447.2 401.3 L1448.7 403.8 L1450.3 406.2 L1451.8 408.7 L1453.4 411.2 L1454.9 413.7 L1456.4 416.2 L1458.0 418.7 L1459.5 421.3 L1461.1 423.8 L1462.6 426.4 L1464.1 429.0 L1465.7 431.6 L1467.2 434.2 L1468.8 436.8 L1470.3 439.4 L1471.9 442.1 L1473.4 444.7 L1474.9 447.4 L1476.5 450.1 L1478.0 452.8 L1479.6 455.5 L1481.1 458.2 L1482.6 460.9 L1484.2 463.7 L1485.7 466.4 L1487.3 469.2 L1488.8 471.9 L1490.3 474.7 L1491.9 477.5 L1493.4 480.3 L1495.0 483.1 L1496.5 486.0 L1498.1 488.9 L1499.6 491.7 L1501.1 494.6 L1502.7 497.5 L1504.2 500.5 L1505.8 503.4 L1507.3 506.3 L1508.8 509.3 L1510.4 512.3 L1511.9 515.3 L1513.5 518.3 L1515.0 521.3 L1516.6 524.3 L1518.1 527.4 L1519.6 530.4 L1521.2 533.5 L1522.7 536.5 L1524.3 539.6 L1525.8 542.7 L1527.3 545.7 L1528.9 548.8 L1530.4 551.9 L1532.0 555.0 L1533.5 558.2 L1535.1 561.3 L1536.6 564.5 L1538.1 567.6 L1539.7 570.8 L1541.2 574.0 L1542.8 577.2 L1544.3 580.4 L1545.8 583.6 L1547.4 586.8 L1548.9 590.1 L1550.5 593.3 L1552.0 596.6 L1553.6 599.9 L1555.1 603.2 L1556.6 606.5 L1558.2 609.8 L1559.7 613.1 L1561.3 616.4 L1562.8 619.8 L1564.3 623.1 L1565.9 626.5 L1567.4 629.9 L1569.0 633.3 L1570.5 636.7 L1572.1 640.1 L1573.6 643.5 L1575.1 647.0 L1576.7 650.4 L1578.2 653.9 L1579.8 657.4 L1581.3 660.9 L1582.8 664.4 L1584.4 667.9 L1585.9 671.4 L1587.5 675.0 L1589.0 678.5 L1590.6 682.1 L1592.1 685.7 L1593.6 689.2 L1595.2 692.8 L1596.7 696.4 L1598.3 700.0 L1599.8 703.6 L1601.3 707.3 L1602.9 710.9 L1604.4 714.6 L1606.0 718.3 L1607.5 722.0 L1609.1 725.8 L1610.6 729.5 L1612.1 733.3 L1613.7 737.0 L1615.2 740.8 L1616.8 744.5 L1618.3 748.3 L1619.8 752.0 L1621.4 755.8 L1622.9 759.5 L1624.5 763.2 L1626.0 766.9 L1627.6 770.5 L1629.1 774.2 L1630.6 777.8 L1632.2 781.5 L1633.7 785.1 L1635.3 788.8 L1636.8 792.4 L1638.3 796.1 L1639.9 799.7 L1641.4 803.3 L1643.0 807.0 L1644.5 810.6 L1646.0 814.2 L1647.6 817.8 L1649.1 821.3 L1650.7 824.9 L1652.2 828.4 L1653.8 831.9 L1655.3 835.4 L1656.8 838.8 L1658.4 842.2 L1659.9 845.5 L1661.5 848.9 L1663.0 852.1 L1664.5 855.4 L1666.1 858.7 L1667.6 861.9 L1669.2 865.1 L1670.7 868.3 L1672.3 871.5 L1673.8 874.7 L1675.3 877.8 L1676.9 880.9 L1678.4 883.9 L1680.0 886.9 L1681.5 889.8 L1683.0 892.7 L1684.6 895.5 L1686.1 898.2 L1687.7 900.9 L1689.2 903.6 L1690.8 906.2 L1692.3 908.8 L1693.8 911.4 L1695.4 914.0 L1696.9 916.5 L1698.5 919.0 L1700.0 921.5 L1701.5 923.9 L1703.1 926.3 L1704.6 928.7 L1706.2 931.0 L1707.7 933.3 L1709.3 935.6 L1710.8 937.8 L1712.3 940.0 L1713.9 942.1 L1715.4 944.2 L1717.0 946.3 L1718.5 948.3 L1720.0 950.3 L1721.6 952.2 L1723.1 954.1 L1724.7 956.0 L1726.2 957.8 L1727.8 959.5 L1729.3 961.2 L1730.8 962.9 L1732.4 964.6 L1733.9 966.2 L1735.5 967.8 L1737.0 969.4 L1738.5 971.1 L1740.1 972.7 L1741.6 974.3 L1743.2 975.8 L1744.7 977.4 L1746.3 978.9 L1747.8 980.4 L1749.3 981.8 L1750.9 983.2 L1752.4 984.5 L1754.0 985.7 L1755.5 986.9 L1757.0 988.1 L1758.6 989.3 L1760.1 990.4 L1761.7 991.5 L1763.2 992.5 L1764.8 993.4 L1766.3 994.2 L1767.8 995.0 L1769.4 995.7 L1770.9 996.3 L1772.5 997.0 L1774.0 997.6 L1775.5 998.1 L1777.1 998.7 L1778.6 999.2 L1780.2 999.7 L1781.7 1000.1 L1783.3 1000.6 L1784.8 1001.0 L1786.3 1001.4 L1787.9 1001.8 L1789.4 1002.2 L1791.0 1002.6 L1792.5 1003.0 L1794.0 1003.4 L1795.6 1003.8 L1797.1 1004.1 L1798.7 1004.5 L1800.2 1004.8 L1801.7 1005.1 L1803.3 1005.4 L1804.8 1005.6 L1806.4 1005.9 L1807.9 1006.0 L1809.5 1006.2 L1811.0 1006.4 L1812.5 1006.6 L1814.1 1006.7 L1815.6 1006.9 L1817.2 1007.0 L1818.7 1007.2 L1820.2 1007.3 L1821.8 1007.5 L1823.3 1007.6 L1824.9 1007.8 L1826.4 1007.9 L1828.0 1008.0 L1829.5 1008.2 L1831.0 1008.3 L1832.6 1008.4 L1834.1 1008.6 L1835.7 1008.7 L1837.2 1008.8 L1838.7 1008.9 L1840.3 1009.0 L1841.8 1009.1 L1843.4 1009.2 L1844.9 1009.3 L1846.5 1009.4 L1848.0 1009.5 L1849.5 1009.6 L1851.1 1009.7 L1852.6 1009.8 L1854.2 1009.9 L1855.7 1010.0 L1857.2 1010.0 L1858.8 1010.1 L1860.3 1010.2 L1861.9 1010.2 L1863.4 1010.3 L1865.0 1010.4 L1866.5 1010.4 L1868.0 1010.5 L1869.6 1010.5 L1871.1 1010.6 L1872.7 1010.6 L1874.2 1010.7 L1875.7 1010.7 L1877.3 1010.7 L1878.8 1010.8 L1880.4 1010.8 L1881.9 1010.8 L1883.5 1010.9 L1885.0 1010.9 L1886.5 1010.9 L1888.1 1010.9 L1889.6 1011.0 L1891.2 1011.0 L1892.7 1011.0 L1894.2 1011.0 L1895.8 1011.1 L1897.3 1011.1 L1898.9 1011.1 L1900.4 1011.1 L1902.0 1011.1 L1903.5 1011.2 L1905.0 1011.2 L1906.6 1011.2 L1908.1 1011.2 L1909.7 1011.2 L1911.2 1011.3 L1912.7 1011.3 L1914.3 1011.3 L1915.8 1011.3 L1917.4 1011.3 L1918.9 1011.3 L1920.5 1011.3 L1922.0 1011.4 L1923.5 1011.4 L1925.1 1011.4 L1926.6 1011.4 L1928.2 1011.4 L1929.7 1011.4 L1931.2 1011.4 L1932.8 1011.4 L1934.3 1011.4 L1935.9 1011.5 L1937.4 1011.5 L1939.0 1011.5 L1940.5 1011.5 L1942.0 1011.5 L1943.6 1011.5 L1945.1 1011.5 L1946.7 1011.5 L1948.2 1011.5" stroke="#9B9B9B" stroke-width="7.5"/>
<path d="M254.0 129.2 L255.5 129.2 L257.1 129.2 L258.6 129.2 L260.2 129.2 L261.7 129.2 L263.2 129.2 L264.8 129.2 L266.3 129.2 L267.9 129.2 L269.4 129.2 L271.0 129.2 L272.5 129.2 L274.0 129.2 L275.6 129.2 L277.1 129.3 L278.7 129.3 L280.2 129.3 L281.7 129.3 L283.3 129.3 L284.8 129.3 L286.4 129.3 L287.9 129.3 L289.5 129.3 L291.0 129.3 L292.5 129.3 L294.1 129.4 L295.6 129.4 L297.2 129.4 L298.7 129.4 L300.2 129.4 L301.8 129.4 L303.3 129.4 L304.9 129.5 L306.4 129.5 L308.0 129.5 L309.5 129.5 L311.0 129.5 L312.6 129.5 L314.1 129.5 L315.7 129.6 L317.2 129.6 L318.7 129.6 L320.3 129.6 L321.8 129.6 L323.4 129.6 L324.9 129.7 L326.5 129.7 L328.0 129.7 L329.5 129.7 L331.1 129.7 L332.6 129.8 L334.2 129.8 L335.7 129.8 L337.2 129.8 L338.8 129.8 L340.3 129.9 L341.9 129.9 L343.4 129.9 L345.0 129.9 L346.5 129.9 L348.0 130.0 L349.6 130.0 L351.1 130.0 L352.7 130.0 L354.2 130.0 L355.7 130.1 L357.3 130.1 L358.8 130.1 L360.4 130.1 L361.9 130.2 L363.5 130.2 L365.0 130.2 L366.5 130.2 L368.1 130.2 L369.6 130.3 L371.2 130.3 L372.7 130.3 L374.2 130.3 L375.8 130.4 L377.3 130.4 L378.9 130.4 L380.4 130.4 L382.0 130.4 L383.5 130.5 L385.0 130.5 L386.6 130.5 L388.1 130.5 L389.7 130.6 L391.2 130.6 L392.7 130.6 L394.3 130.6 L395.8 130.7 L397.4 130.7 L398.9 130.7 L400.5 130.7 L402.0 130.7 L403.5 130.8 L405.1 130.8 L406.6 130.8 L408.2 130.8 L409.7 130.9 L411.2 130.9 L412.8 130.9 L414.3 130.9 L415.9 131.0 L417.4 131.0 L418.9 131.0 L420.5 131.0 L422.0 131.0 L423.6 131.1 L425.1 131.1 L426.7 131.1 L428.2 131.1 L429.7 131.1 L431.3 131.2 L432.8 131.2 L434.4 131.2 L435.9 131.2 L437.4 131.2 L439.0 131.3 L440.5 131.3 L442.1 131.3 L443.6 131.3 L445.2 131.3 L446.7 131.4 L448.2 131.4 L449.8 131.4 L451.3 131.4 L452.9 131.4 L454.4 131.5 L455.9 131.5 L457.5 131.5 L459.0 131.5 L460.6 131.5 L462.1 131.5 L463.7 131.6 L465.2 131.6 L466.7 131.6 L468.3 131.6 L469.8 131.6 L471.4 131.6 L472.9 131.7 L474.4 131.7 L476.0 131.7 L477.5 131.7 L479.1 131.7 L480.6 131.7 L482.2 131.8 L483.7 131.8 L485.2 131.8 L486.8 131.8 L488.3 131.8 L489.9 131.8 L491.4 131.9 L492.9 131.9 L494.5 131.9 L496.0 131.9 L497.6 131.9 L499.1 131.9 L500.7 132.0 L502.2 132.0 L503.7 132.0 L505.3 132.0 L506.8 132.0 L508.4 132.0 L509.9 132.1 L511.4 132.1 L513.0 132.1 L514.5 132.1 L516.1 132.1 L517.6 132.1 L519.2 132.2 L520.7 132.2 L522.2 132.2 L523.8 132.2 L525.3 132.2 L526.9 132.2 L528.4 132.3 L529.9 132.3 L531.5 132.3 L533.0 132.3 L534.6 132.3 L536.1 132.3 L537.7 132.4 L539.2 132.4 L540.7 132.4 L542.3 132.4 L543.8 132.4 L545.4 132.5 L546.9 132.5 L548.4 132.5 L550.0 132.5 L551.5 132.5 L553.1 132.5 L554.6 132.6 L556.2 132.6 L557.7 132.6 L559.2 132.6 L560.8 132.6 L562.3 132.7 L563.9 132.7 L565.4 132.7 L566.9 132.7 L568.5 132.7 L570.0 132.8 L571.6 132.8 L573.1 132.8 L574.6 132.8 L576.2 132.8 L577.7 132.9 L579.3 132.9 L580.8 132.9 L582.4 132.9 L583.9 133.0 L585.4 133.0 L587.0 133.0 L588.5 133.0 L590.1 133.0 L591.6 133.1 L593.1 133.1 L594.7 133.1 L596.2 133.1 L597.8 133.2 L599.3 133.2 L600.9 133.2 L602.4 133.2 L603.9 133.3 L605.5 133.3 L607.0 133.3 L608.6 133.3 L610.1 133.4 L611.6 133.4 L613.2 133.4 L614.7 133.5 L616.3 133.5 L617.8 133.5 L619.4 133.5 L620.9 133.6 L622.4 133.6 L624.0 133.6 L625.5 133.7 L627.1 133.7 L628.6 133.7 L630.1 133.8 L631.7 133.8 L633.2 133.8 L634.8 133.9 L636.3 133.9 L637.9 133.9 L639.4 134.0 L640.9 134.0 L642.5 134.1 L644.0 134.1 L645.6 134.1 L647.1 134.2 L648.6 134.2 L650.2 134.2 L651.7 134.3 L653.3 134.3 L654.8 134.3 L656.4 134.4 L657.9 134.4 L659.4 134.5 L661.0 134.5 L662.5 134.5 L664.1 134.6 L665.6 134.6 L667.1 134.6 L668.7 134.7 L670.2 134.7 L671.8 134.7 L673.3 134.8 L674.9 134.8 L676.4 134.9 L677.9 134.9 L679.5 134.9 L681.0 135.0 L682.6 135.0 L684.1 135.0 L685.6 135.1 L687.2 135.1 L688.7 135.1 L690.3 135.2 L691.8 135.2 L693.4 135.2 L694.9 135.3 L696.4 135.3 L698.0 135.3 L699.5 135.4 L701.1 135.4 L702.6 135.4 L704.1 135.5 L705.7 135.5 L707.2 135.5 L708.8 135.6 L710.3 135.6 L711.9 135.6 L713.4 135.6 L714.9 135.7 L716.5 135.7 L718.0 135.7 L719.6 135.8 L721.1 135.8 L722.6 135.8 L724.2 135.8 L725.7 135.9 L727.3 135.9 L728.8 135.9 L730.3 135.9 L731.9 136.0 L733.4 136.0 L735.0 136.0 L736.5 136.0 L738.1 136.1 L739.6 136.1 L741.1 136.1 L742.7 136.1 L744.2 136.2 L745.8 136.2 L747.3 136.2 L748.8 136.2 L750.4 136.3 L751.9 136.3 L753.5 136.3 L755.0 136.3 L756.6 136.4 L758.1 136.4 L759.6 136.4 L761.2 136.4 L762.7 136.5 L764.3 136.5 L765.8 136.5 L767.3 136.6 L768.9 136.6 L770.4 136.6 L772.0 136.7 L773.5 136.7 L775.1 136.7 L776.6 136.8 L778.1 136.8 L779.7 136.8 L781.2 136.9 L782.8 136.9 L784.3 136.9 L785.8 137.0 L787.4 137.0 L788.9 137.1 L790.5 137.1 L792.0 137.2 L793.6 137.2 L795.1 137.2 L796.6 137.3 L798.2 137.3 L799.7 137.4 L801.3 137.4 L802.8 137.5 L804.3 137.6 L805.9 137.6 L807.4 137.7 L809.0 137.8 L810.5 137.9 L812.1 137.9 L813.6 138.0 L815.1 138.1 L816.7 138.2 L818.2 138.3 L819.8 138.4 L821.3 138.5 L822.8 138.6 L824.4 138.8 L825.9 138.9 L827.5 139.0 L829.0 139.1 L830.6 139.2 L832.1 139.4 L833.6 139.5 L835.2 139.6 L836.7 139.7 L838.3 139.9 L839.8 140.0 L841.3 140.1 L842.9 140.3 L844.4 140.4 L846.0 140.5 L847.5 140.7 L849.1 140.8 L850.6 141.0 L852.1 141.1 L853.7 141.2 L855.2 141.4 L856.8 141.5 L858.3 141.6 L859.8 141.8 L861.4 141.9 L862.9 142.0 L864.5 142.1 L866.0 142.3 L867.6 142.4 L869.1 142.5 L870.6 142.6 L872.2 142.8 L873.7 142.9 L875.3 143.0 L876.8 143.1 L878.3 143.2 L879.9 143.3 L881.4 143.4 L883.0 143.5 L884.5 143.6 L886.0 143.7 L887.6 143.8 L889.1 143.9 L890.7 144.0 L892.2 144.1 L893.8 144.2 L895.3 144.3 L896.8 144.4 L898.4 144.5 L899.9 144.6 L901.5 144.7 L903.0 144.8 L904.5 144.9 L906.1 145.0 L907.6 145.1 L909.2 145.2 L910.7 145.3 L912.3 145.4 L913.8 145.5 L915.3 145.6 L916.9 145.7 L918.4 145.8 L920.0 145.9 L921.5 146.0 L923.0 146.1 L924.6 146.2 L926.1 146.2 L927.7 146.3 L929.2 146.4 L930.8 146.5 L932.3 146.6 L933.8 146.7 L935.4 146.8 L936.9 146.9 L938.5 147.0 L940.0 147.1 L941.5 147.2 L943.1 147.3 L944.6 147.4 L946.2 147.5 L947.7 147.6 L949.3 147.7 L950.8 147.8 L952.3 147.8 L953.9 147.9 L955.4 148.0 L957.0 148.1 L958.5 148.2 L960.0 148.3 L961.6 148.4 L963.1 148.4 L964.7 148.5 L966.2 148.6 L967.8 148.7 L969.3 148.8 L970.8 148.8 L972.4 148.9 L973.9 149.0 L975.5 149.1 L977.0 149.2 L978.5 149.3 L980.1 149.3 L981.6 149.4 L983.2 149.5 L984.7 149.6 L986.3 149.7 L987.8 149.8 L989.3 149.9 L990.9 150.0 L992.4 150.1 L994.0 150.2 L995.5 150.4 L997.0 150.5 L998.6 150.6 L1000.1 150.7 L1001.7 150.9 L1003.2 151.0 L1004.8 151.2 L1006.3 151.4 L1007.8 151.6 L1009.4 151.8 L1010.9 152.0 L1012.5 152.2 L1014.0 152.4 L1015.5 152.7 L1017.1 152.9 L1018.6 153.2 L1020.2 153.4 L1021.7 153.7 L1023.3 153.9 L1024.8 154.2 L1026.3 154.5 L1027.9 154.7 L1029.4 155.0 L1031.0 155.3 L1032.5 155.6 L1034.0 155.8 L1035.6 156.1 L1037.1 156.4 L1038.7 156.6 L1040.2 156.9 L1041.7 157.1 L1043.3 157.4 L1044.8 157.6 L1046.4 157.9 L1047.9 158.1 L1049.5 158.3 L1051.0 158.5 L1052.5 158.7 L1054.1 158.9 L1055.6 159.1 L1057.2 159.3 L1058.7 159.4 L1060.2 159.6 L1061.8 159.8 L1063.3 160.0 L1064.9 160.2 L1066.4 160.3 L1068.0 160.5 L1069.5 160.7 L1071.0 160.9 L1072.6 161.1 L1074.1 161.3 L1075.7 161.5 L1077.2 161.7 L1078.7 161.9 L1080.3 162.1 L1081.8 162.3 L1083.4 162.6 L1084.9 162.8 L1086.5 163.0 L1088.0 163.3 L1089.5 163.5 L1091.1 163.8 L1092.6 164.0 L1094.2 164.3 L1095.7 164.5 L1097.2 164.8 L1098.8 165.1 L1100.3 165.3 L1101.9 165.6 L1103.4 165.9 L1105.0 166.1 L1106.5 166.4 L1108.0 166.7 L1109.6 167.0 L1111.1 167.3 L1112.7 167.6 L1114.2 167.9 L1115.7 168.2 L1117.3 168.5 L1118.8 168.9 L1120.4 169.2 L1121.9 169.5 L1123.5 169.8 L1125.0 170.2 L1126.5 170.5 L1128.1 170.9 L1129.6 171.2 L1131.2 171.6 L1132.7 172.0 L1134.2 172.4 L1135.8 172.7 L1137.3 173.1 L1138.9 173.5 L1140.4 173.9 L1142.0 174.3 L1143.5 174.8 L1145.0 175.2 L1146.6 175.7 L1148.1 176.2 L1149.7 176.7 L1151.2 177.2 L1152.7 177.7 L1154.3 178.2 L1155.8 178.8 L1157.4 179.4 L1158.9 179.9 L1160.5 180.5 L1162.0 181.1 L1163.5 181.7 L1165.1 182.3 L1166.6 182.9 L1168.2 183.6 L1169.7 184.2 L1171.2 184.9 L1172.8 185.5 L1174.3 186.2 L1175.9 186.8 L1177.4 187.5 L1178.9 188.2 L1180.5 188.8 L1182.0 189.5 L1183.6 190.2 L1185.1 190.9 L1186.7 191.5 L1188.2 192.2 L1189.7 192.9 L1191.3 193.6 L1192.8 194.2 L1194.4 194.9 L1195.9 195.6 L1197.4 196.2 L1199.0 196.9 L1200.5 197.6 L1202.1 198.2 L1203.6 198.9 L1205.2 199.5 L1206.7 200.2 L1208.2 200.9 L1209.8 201.5 L1211.3 202.2 L1212.9 202.9 L1214.4 203.5 L1215.9 204.2 L1217.5 204.9 L1219.0 205.6 L1220.6 206.3 L1222.1 207.0 L1223.7 207.7 L1225.2 208.4 L1226.7 209.1 L1228.3 209.8 L1229.8 210.5 L1231.4 211.2 L1232.9 212.0 L1234.4 212.7 L1236.0 213.4 L1237.5 214.2 L1239.1 214.9 L1240.6 215.7 L1242.2 216.5 L1243.7 217.3 L1245.2 218.1 L1246.8 218.9 L1248.3 219.7 L1249.9 220.5 L1251.4 221.3 L1252.9 222.1 L1254.5 223.0 L1256.0 223.8 L1257.6 224.7 L1259.1 225.6 L1260.7 226.4 L1262.2 227.3 L1263.7 228.2 L1265.3 229.1 L1266.8 230.0 L1268.4 231.0 L1269.9 231.9 L1271.4 232.8 L1273.0 233.8 L1274.5 234.7 L1276.1 235.7 L1277.6 236.7 L1279.2 237.6 L1280.7 238.6 L1282.2 239.6 L1283.8 240.7 L1285.3 241.7 L1286.9 242.7 L1288.4 243.8 L1289.9 244.8 L1291.5 245.9 L1293.0 247.0 L1294.6 248.1 L1296.1 249.2 L1297.7 250.3 L1299.2 251.4 L1300.7 252.5 L1302.3 253.7 L1303.8 254.8 L1305.4 256.0 L1306.9 257.2 L1308.4 258.5 L1310.0 259.7 L1311.5 261.0 L1313.1 262.3 L1314.6 263.6 L1316.2 264.9 L1317.7 266.2 L1319.2 267.5 L1320.8 268.9 L1322.3 270.3 L1323.9 271.6 L1325.4 273.0 L1326.9 274.4 L1328.5 275.9 L1330.0 277.3 L1331.6 278.7 L1333.1 280.2 L1334.6 281.6 L1336.2 283.1 L1337.7 284.6 L1339.3 286.1 L1340.8 287.5 L1342.4 289.0 L1343.9 290.5 L1345.4 292.0 L1347.0 293.5 L1348.5 295.1 L1350.1 296.6 L1351.6 298.2 L1353.1 299.7 L1354.7 301.3 L1356.2 303.0 L1357.8 304.6 L1359.3 306.3 L1360.9 308.0 L1362.4 309.7 L1363.9 311.5 L1365.5 313.3 L1367.0 315.2 L1368.6 317.1 L1370.1 319.1 L1371.6 321.1 L1373.2 323.3 L1374.7 325.6 L1376.3 328.0 L1377.8 330.4 L1379.4 332.9 L1380.9 335.3 L1382.4 337.7 L1384.0 340.0 L1385.5 342.3 L1387.1 344.6 L1388.6 346.8 L1390.1 349.1 L1391.7 351.3 L1393.2 353.5 L1394.8 355.7 L1396.3 357.9 L1397.9 360.1 L1399.4 362.3 L1400.9 364.5 L1402.5 366.7 L1404.0 368.9 L1405.6 371.0 L1407.1 373.2 L1408.6 375.4 L1410.2 377.7 L1411.7 379.9 L1413.3 382.1 L1414.8 384.4 L1416.4 386.6 L1417.9 388.9 L1419.4 391.2 L1421.0 393.5 L1422.5 395.8 L1424.1 398.2 L1425.6 400.6 L1427.1 403.0 L1428.7 405.4 L1430.2 407.8 L1431.8 410.2 L1433.3 412.7 L1434.9 415.1 L1436.4 417.6 L1437.9 420.1 L1439.5 422.6 L1441.0 425.1 L1442.6 427.6 L1444.1 430.2 L1445.6 432.7 L1447.2 435.3 L1448.7 437.8 L1450.3 440.4 L1451.8 443.0 L1453.4 445.6 L1454.9 448.2 L1456.4 450.8 L1458.0 453.5 L1459.5 456.1 L1461.1 458.8 L1462.6 461.5 L1464.1 464.1 L1465.7 466.8 L1467.2 469.5 L1468.8 472.3 L1470.3 475.0 L1471.9 477.7 L1473.4 480.5 L1474.9 483.3 L1476.5 486.0 L1478.0 488.9 L1479.6 491.7 L1481.1 494.5 L1482.6 497.4 L1484.2 500.2 L1485.7 503.1 L1487.3 506.0 L1488.8 508.9 L1490.3 511.8 L1491.9 514.8 L1493.4 517.7 L1495.0 520.7 L1496.5 523.6 L1498.1 526.6 L1499.6 529.6 L1501.1 532.6 L1502.7 535.6 L1504.2 538.7 L1505.8 541.7 L1507.3 544.7 L1508.8 547.8 L1510.4 550.8 L1511.9 553.9 L1513.5 557.0 L1515.0 560.1 L1516.6 563.2 L1518.1 566.4 L1519.6 569.5 L1521.2 572.7 L1522.7 575.9 L1524.3 579.1 L1525.8 582.3 L1527.3 585.5 L1528.9 588.7 L1530.4 591.9 L1532.0 595.2 L1533.5 598.5 L1535.1 601.7 L1536.6 605.0 L1538.1 608.3 L1539.7 611.6 L1541.2 614.9 L1542.8 618.2 L1544.3 621.6 L1545.8 624.9 L1547.4 628.3 L1548.9 631.6 L1550.5 635.0 L1552.0 638.5 L1553.6 641.9 L1555.1 645.3 L1556.6 648.8 L1558.2 652.2 L1559.7 655.7 L1561.3 659.2 L1562.8 662.7 L1564.3 666.2 L1565.9 669.7 L1567.4 673.2 L1569.0 676.8 L1570.5 680.3 L1572.1 683.8 L1573.6 687.3 L1575.1 690.8 L1576.7 694.4 L1578.2 697.9 L1579.8 701.4 L1581.3 704.9 L1582.8 708.4 L1584.4 712.0 L1585.9 715.5 L1587.5 719.1 L1589.0 722.7 L1590.6 726.3 L1592.1 729.9 L1593.6 733.4 L1595.2 737.0 L1596.7 740.6 L1598.3 744.2 L1599.8 747.7 L1601.3 751.3 L1602.9 754.8 L1604.4 758.3 L1606.0 761.8 L1607.5 765.3 L1609.1 768.8 L1610.6 772.2 L1612.1 775.7 L1613.7 779.1 L1615.2 782.5 L1616.8 785.9 L1618.3 789.3 L1619.8 792.7 L1621.4 796.1 L1622.9 799.5 L1624.5 802.9 L1626.0 806.2 L1627.6 809.6 L1629.1 812.9 L1630.6 816.3 L1632.2 819.6 L1633.7 822.9 L1635.3 826.1 L1636.8 829.4 L1638.3 832.6 L1639.9 835.8 L1641.4 839.0 L1643.0 842.1 L1644.5 845.2 L1646.0 848.3 L1647.6 851.4 L1649.1 854.4 L1650.7 857.5 L1652.2 860.5 L1653.8 863.5 L1655.3 866.5 L1656.8 869.5 L1658.4 872.4 L1659.9 875.4 L1661.5 878.3 L1663.0 881.1 L1664.5 883.9 L1666.1 886.7 L1667.6 889.5 L1669.2 892.1 L1670.7 894.8 L1672.3 897.4 L1673.8 899.9 L1675.3 902.4 L1676.9 904.8 L1678.4 907.3 L1680.0 909.7 L1681.5 912.0 L1683.0 914.4 L1684.6 916.7 L1686.1 919.0 L1687.7 921.3 L1689.2 923.5 L1690.8 925.8 L1692.3 927.9 L1693.8 930.1 L1695.4 932.2 L1696.9 934.3 L1698.5 936.4 L1700.0 938.5 L1701.5 940.5 L1703.1 942.5 L1704.6 944.4 L1706.2 946.3 L1707.7 948.2 L1709.3 950.1 L1710.8 951.9 L1712.3 953.7 L1713.9 955.4 L1715.4 957.1 L1717.0 958.8 L1718.5 960.4 L1720.0 962.0 L1721.6 963.6 L1723.1 965.1 L1724.7 966.7 L1726.2 968.2 L1727.8 969.7 L1729.3 971.2 L1730.8 972.7 L1732.4 974.2 L1733.9 975.6 L1735.5 977.1 L1737.0 978.5 L1738.5 979.9 L1740.1 981.2 L1741.6 982.5 L1743.2 983.7 L1744.7 984.9 L1746.3 986.0 L1747.8 987.1 L1749.3 988.2 L1750.9 989.3 L1752.4 990.3 L1754.0 991.3 L1755.5 992.2 L1757.0 993.1 L1758.6 993.9 L1760.1 994.6 L1761.7 995.3 L1763.2 995.9 L1764.8 996.5 L1766.3 997.1 L1767.8 997.6 L1769.4 998.2 L1770.9 998.7 L1772.5 999.2 L1774.0 999.6 L1775.5 1000.1 L1777.1 1000.5 L1778.6 1000.9 L1780.2 1001.3 L1781.7 1001.7 L1783.3 1002.0 L1784.8 1002.4 L1786.3 1002.7 L1787.9 1003.1 L1789.4 1003.4 L1791.0 1003.8 L1792.5 1004.1 L1794.0 1004.4 L1795.6 1004.7 L1797.1 1004.9 L1798.7 1005.2 L1800.2 1005.4 L1801.7 1005.7 L1803.3 1005.9 L1804.8 1006.0 L1806.4 1006.2 L1807.9 1006.3 L1809.5 1006.5 L1811.0 1006.7 L1812.5 1006.8 L1814.1 1006.9 L1815.6 1007.1 L1817.2 1007.2 L1818.7 1007.4 L1820.2 1007.5 L1821.8 1007.7 L1823.3 1007.8 L1824.9 1007.9 L1826.4 1008.0 L1828.0 1008.2 L1829.5 1008.3 L1831.0 1008.4 L1832.6 1008.5 L1834.1 1008.7 L1835.7 1008.8 L1837.2 1008.9 L1838.7 1009.0 L1840.3 1009.1 L1841.8 1009.2 L1843.4 1009.3 L1844.9 1009.4 L1846.5 1009.5 L1848.0 1009.6 L1849.5 1009.7 L1851.1 1009.7 L1852.6 1009.8 L1854.2 1009.9 L1855.7 1010.0 L1857.2 1010.1 L1858.8 1010.1 L1860.3 1010.2 L1861.9 1010.3 L1863.4 1010.3 L1865.0 1010.4 L1866.5 1010.4 L1868.0 1010.5 L1869.6 1010.5 L1871.1 1010.6 L1872.7 1010.6 L1874.2 1010.7 L1875.7 1010.7 L1877.3 1010.7 L1878.8 1010.8 L1880.4 1010.8 L1881.9 1010.8 L1883.5 1010.9 L1885.0 1010.9 L1886.5 1010.9 L1888.1 1010.9 L1889.6 1011.0 L1891.2 1011.0 L1892.7 1011.0 L1894.2 1011.0 L1895.8 1011.1 L1897.3 1011.1 L1898.9 1011.1 L1900.4 1011.1 L1902.0 1011.1 L1903.5 1011.2 L1905.0 1011.2 L1906.6 1011.2 L1908.1 1011.2 L1909.7 1011.2 L1911.2 1011.3 L1912.7 1011.3 L1914.3 1011.3 L1915.8 1011.3 L1917.4 1011.3 L1918.9 1011.3 L1920.5 1011.3 L1922.0 1011.4 L1923.5 1011.4 L1925.1 1011.4 L1926.6 1011.4 L1928.2 1011.4 L1929.7 1011.4 L1931.2 1011.4 L1932.8 1011.4 L1934.3 1011.4 L1935.9 1011.5 L1937.4 1011.5 L1939.0 1011.5 L1940.5 1011.5 L1942.0 1011.5 L1943.6 1011.5 L1945.1 1011.5 L1946.7 1011.5 L1948.2 1011.5" stroke="#FFA870" stroke-width="7.5"/>
<path d="M254.0 128.0 L255.5 128.0 L257.1 128.0 L258.6 128.0 L260.2 128.0 L261.7 128.0 L263.2 128.0 L264.8 128.0 L266.3 128.0 L267.9 128.0 L269.4 128.0 L271.0 128.0 L272.5 128.0 L274.0 128.0 L275.6 128.0 L277.1 128.1 L278.7 128.1 L280.2 128.1 L281.7 128.1 L283.3 128.1 L284.8 128.1 L286.4 128.1 L287.9 128.1 L289.5 128.1 L291.0 128.1 L292.5 128.1 L294.1 128.2 L295.6 128.2 L297.2 128.2 L298.7 128.2 L300.2 128.2 L301.8 128.2 L303.3 128.2 L304.9 128.3 L306.4 128.3 L308.0 128.3 L309.5 128.3 L311.0 128.3 L312.6 128.3 L314.1 128.3 L315.7 128.4 L317.2 128.4 L318.7 128.4 L320.3 128.4 L321.8 128.4 L323.4 128.4 L324.9 128.5 L326.5 128.5 L328.0 128.5 L329.5 128.5 L331.1 128.5 L332.6 128.6 L334.2 128.6 L335.7 128.6 L337.2 128.6 L338.8 128.6 L340.3 128.7 L341.9 128.7 L343.4 128.7 L345.0 128.7 L346.5 128.7 L348.0 128.8 L349.6 128.8 L351.1 128.8 L352.7 128.8 L354.2 128.8 L355.7 128.9 L357.3 128.9 L358.8 128.9 L360.4 128.9 L361.9 129.0 L363.5 129.0 L365.0 129.0 L366.5 129.0 L368.1 129.0 L369.6 129.1 L371.2 129.1 L372.7 129.1 L374.2 129.1 L375.8 129.2 L377.3 129.2 L378.9 129.2 L380.4 129.2 L382.0 129.2 L383.5 129.3 L385.0 129.3 L386.6 129.3 L388.1 129.3 L389.7 129.4 L391.2 129.4 L392.7 129.4 L394.3 129.4 L395.8 129.5 L397.4 129.5 L398.9 129.5 L400.5 129.5 L402.0 129.5 L403.5 129.6 L405.1 129.6 L406.6 129.6 L408.2 129.6 L409.7 129.7 L411.2 129.7 L412.8 129.7 L414.3 129.7 L415.9 129.8 L417.4 129.8 L418.9 129.8 L420.5 129.8 L422.0 129.8 L423.6 129.9 L425.1 129.9 L426.7 129.9 L428.2 129.9 L429.7 129.9 L431.3 130.0 L432.8 130.0 L434.4 130.0 L435.9 130.0 L437.4 130.0 L439.0 130.1 L440.5 130.1 L442.1 130.1 L443.6 130.1 L445.2 130.1 L446.7 130.2 L448.2 130.2 L449.8 130.2 L451.3 130.2 L452.9 130.2 L454.4 130.3 L455.9 130.3 L457.5 130.3 L459.0 130.3 L460.6 130.3 L462.1 130.3 L463.7 130.4 L465.2 130.4 L466.7 130.4 L468.3 130.4 L469.8 130.4 L471.4 130.4 L472.9 130.5 L474.4 130.5 L476.0 130.5 L477.5 130.5 L479.1 130.5 L480.6 130.5 L482.2 130.6 L483.7 130.6 L485.2 130.6 L486.8 130.6 L488.3 130.6 L489.9 130.6 L491.4 130.7 L492.9 130.7 L494.5 130.7 L496.0 130.7 L497.6 130.7 L499.1 130.7 L500.7 130.8 L502.2 130.8 L503.7 130.8 L505.3 130.8 L506.8 130.8 L508.4 130.8 L509.9 130.9 L511.4 130.9 L513.0 130.9 L514.5 130.9 L516.1 130.9 L517.6 131.0 L519.2 131.0 L520.7 131.0 L522.2 131.0 L523.8 131.0 L525.3 131.0 L526.9 131.1 L528.4 131.1 L529.9 131.1 L531.5 131.1 L533.0 131.1 L534.6 131.1 L536.1 131.2 L537.7 131.2 L539.2 131.2 L540.7 131.2 L542.3 131.2 L543.8 131.3 L545.4 131.3 L546.9 131.3 L548.4 131.3 L550.0 131.3 L551.5 131.3 L553.1 131.4 L554.6 131.4 L556.2 131.4 L557.7 131.4 L559.2 131.4 L560.8 131.5 L562.3 131.5 L563.9 131.5 L565.4 131.5 L566.9 131.5 L568.5 131.6 L570.0 131.6 L571.6 131.6 L573.1 131.6 L574.6 131.6 L576.2 131.7 L577.7 131.7 L579.3 131.7 L580.8 131.7 L582.4 131.7 L583.9 131.8 L585.4 131.8 L587.0 131.8 L588.5 131.8 L590.1 131.9 L591.6 131.9 L593.1 131.9 L594.7 131.9 L596.2 131.9 L597.8 132.0 L599.3 132.0 L600.9 132.0 L602.4 132.0 L603.9 132.1 L605.5 132.1 L607.0 132.1 L608.6 132.1 L610.1 132.2 L611.6 132.2 L613.2 132.2 L614.7 132.2 L616.3 132.3 L617.8 132.3 L619.4 132.3 L620.9 132.4 L622.4 132.4 L624.0 132.4 L625.5 132.5 L627.1 132.5 L628.6 132.5 L630.1 132.5 L631.7 132.6 L633.2 132.6 L634.8 132.6 L636.3 132.7 L637.9 132.7 L639.4 132.7 L640.9 132.8 L642.5 132.8 L644.0 132.8 L645.6 132.9 L647.1 132.9 L648.6 132.9 L650.2 133.0 L651.7 133.0 L653.3 133.0 L654.8 133.1 L656.4 133.1 L657.9 133.1 L659.4 133.2 L661.0 133.2 L662.5 133.2 L664.1 133.3 L665.6 133.3 L667.1 133.3 L668.7 133.4 L670.2 133.4 L671.8 133.4 L673.3 133.5 L674.9 133.5 L676.4 133.5 L677.9 133.6 L679.5 133.6 L681.0 133.6 L682.6 133.7 L684.1 133.7 L685.6 133.7 L687.2 133.7 L688.7 133.8 L690.3 133.8 L691.8 133.8 L693.4 133.9 L694.9 133.9 L696.4 133.9 L698.0 133.9 L699.5 134.0 L701.1 134.0 L702.6 134.0 L704.1 134.1 L705.7 134.1 L707.2 134.1 L708.8 134.1 L710.3 134.2 L711.9 134.2 L713.4 134.2 L714.9 134.2 L716.5 134.3 L718.0 134.3 L719.6 134.3 L721.1 134.3 L722.6 134.3 L724.2 134.4 L725.7 134.4 L727.3 134.4 L728.8 134.4 L730.3 134.4 L731.9 134.5 L733.4 134.5 L735.0 134.5 L736.5 134.5 L738.1 134.5 L739.6 134.6 L741.1 134.6 L742.7 134.6 L744.2 134.6 L745.8 134.6 L747.3 134.7 L748.8 134.7 L750.4 134.7 L751.9 134.7 L753.5 134.8 L755.0 134.8 L756.6 134.8 L758.1 134.8 L759.6 134.8 L761.2 134.9 L762.7 134.9 L764.3 134.9 L765.8 134.9 L767.3 135.0 L768.9 135.0 L770.4 135.0 L772.0 135.0 L773.5 135.1 L775.1 135.1 L776.6 135.1 L778.1 135.1 L779.7 135.2 L781.2 135.2 L782.8 135.2 L784.3 135.3 L785.8 135.3 L787.4 135.3 L788.9 135.3 L790.5 135.4 L792.0 135.4 L793.6 135.4 L795.1 135.5 L796.6 135.5 L798.2 135.6 L799.7 135.6 L801.3 135.6 L802.8 135.7 L804.3 135.7 L805.9 135.8 L807.4 135.8 L809.0 135.9 L810.5 135.9 L812.1 136.0 L813.6 136.0 L815.1 136.1 L816.7 136.2 L818.2 136.2 L819.8 136.3 L821.3 136.4 L822.8 136.4 L824.4 136.5 L825.9 136.6 L827.5 136.6 L829.0 136.7 L830.6 136.8 L832.1 136.9 L833.6 137.0 L835.2 137.0 L836.7 137.1 L838.3 137.2 L839.8 137.3 L841.3 137.4 L842.9 137.4 L844.4 137.5 L846.0 137.6 L847.5 137.7 L849.1 137.8 L850.6 137.9 L852.1 138.0 L853.7 138.0 L855.2 138.1 L856.8 138.2 L858.3 138.3 L859.8 138.4 L861.4 138.5 L862.9 138.6 L864.5 138.7 L866.0 138.7 L867.6 138.8 L869.1 138.9 L870.6 139.0 L872.2 139.1 L873.7 139.2 L875.3 139.2 L876.8 139.3 L878.3 139.4 L879.9 139.5 L881.4 139.5 L883.0 139.6 L884.5 139.7 L886.0 139.8 L887.6 139.9 L889.1 139.9 L890.7 140.0 L892.2 140.1 L893.8 140.2 L895.3 140.3 L896.8 140.4 L898.4 140.4 L899.9 140.5 L901.5 140.6 L903.0 140.7 L904.5 140.8 L906.1 140.9 L907.6 140.9 L909.2 141.0 L910.7 141.1 L912.3 141.2 L913.8 141.3 L915.3 141.4 L916.9 141.5 L918.4 141.5 L920.0 141.6 L921.5 141.7 L923.0 141.8 L924.6 141.9 L926.1 142.0 L927.7 142.0 L929.2 142.1 L930.8 142.2 L932.3 142.3 L933.8 142.4 L935.4 142.5 L936.9 142.5 L938.5 142.6 L940.0 142.7 L941.5 142.8 L943.1 142.9 L944.6 142.9 L946.2 143.0 L947.7 143.1 L949.3 143.2 L950.8 143.2 L952.3 143.3 L953.9 143.4 L955.4 143.5 L957.0 143.5 L958.5 143.6 L960.0 143.7 L961.6 143.7 L963.1 143.8 L964.7 143.9 L966.2 143.9 L967.8 144.0 L969.3 144.0 L970.8 144.1 L972.4 144.2 L973.9 144.2 L975.5 144.3 L977.0 144.4 L978.5 144.4 L980.1 144.5 L981.6 144.6 L983.2 144.6 L984.7 144.7 L986.3 144.8 L987.8 144.9 L989.3 144.9 L990.9 145.0 L992.4 145.1 L994.0 145.2 L995.5 145.3 L997.0 145.3 L998.6 145.4 L1000.1 145.5 L1001.7 145.6 L1003.2 145.7 L1004.8 145.8 L1006.3 146.0 L1007.8 146.1 L1009.4 146.2 L1010.9 146.3 L1012.5 146.5 L1014.0 146.6 L1015.5 146.8 L1017.1 146.9 L1018.6 147.0 L1020.2 147.2 L1021.7 147.4 L1023.3 147.5 L1024.8 147.7 L1026.3 147.8 L1027.9 148.0 L1029.4 148.1 L1031.0 148.3 L1032.5 148.5 L1034.0 148.6 L1035.6 148.8 L1037.1 148.9 L1038.7 149.1 L1040.2 149.2 L1041.7 149.4 L1043.3 149.5 L1044.8 149.7 L1046.4 149.8 L1047.9 150.0 L1049.5 150.1 L1051.0 150.3 L1052.5 150.4 L1054.1 150.5 L1055.6 150.6 L1057.2 150.7 L1058.7 150.9 L1060.2 151.0 L1061.8 151.1 L1063.3 151.2 L1064.9 151.3 L1066.4 151.4 L1068.0 151.6 L1069.5 151.7 L1071.0 151.8 L1072.6 151.9 L1074.1 152.1 L1075.7 152.2 L1077.2 152.4 L1078.7 152.5 L1080.3 152.7 L1081.8 152.8 L1083.4 153.0 L1084.9 153.2 L1086.5 153.3 L1088.0 153.5 L1089.5 153.7 L1091.1 153.9 L1092.6 154.1 L1094.2 154.3 L1095.7 154.5 L1097.2 154.7 L1098.8 154.9 L1100.3 155.1 L1101.9 155.4 L1103.4 155.6 L1105.0 155.8 L1106.5 156.0 L1108.0 156.3 L1109.6 156.5 L1111.1 156.7 L1112.7 157.0 L1114.2 157.2 L1115.7 157.5 L1117.3 157.8 L1118.8 158.0 L1120.4 158.3 L1121.9 158.5 L1123.5 158.8 L1125.0 159.1 L1126.5 159.4 L1128.1 159.6 L1129.6 159.9 L1131.2 160.2 L1132.7 160.5 L1134.2 160.8 L1135.8 161.1 L1137.3 161.4 L1138.9 161.7 L1140.4 162.0 L1142.0 162.3 L1143.5 162.6 L1145.0 163.0 L1146.6 163.3 L1148.1 163.7 L1149.7 164.0 L1151.2 164.4 L1152.7 164.8 L1154.3 165.1 L1155.8 165.5 L1157.4 165.9 L1158.9 166.3 L1160.5 166.8 L1162.0 167.2 L1163.5 167.6 L1165.1 168.0 L1166.6 168.5 L1168.2 168.9 L1169.7 169.3 L1171.2 169.8 L1172.8 170.2 L1174.3 170.7 L1175.9 171.1 L1177.4 171.6 L1178.9 172.0 L1180.5 172.5 L1182.0 173.0 L1183.6 173.4 L1185.1 173.9 L1186.7 174.3 L1188.2 174.8 L1189.7 175.2 L1191.3 175.7 L1192.8 176.2 L1194.4 176.6 L1195.9 177.1 L1197.4 177.5 L1199.0 177.9 L1200.5 178.4 L1202.1 178.8 L1203.6 179.3 L1205.2 179.7 L1206.7 180.1 L1208.2 180.5 L1209.8 181.0 L1211.3 181.4 L1212.9 181.8 L1214.4 182.2 L1215.9 182.7 L1217.5 183.1 L1219.0 183.5 L1220.6 183.9 L1222.1 184.4 L1223.7 184.8 L1225.2 185.2 L1226.7 185.7 L1228.3 186.1 L1229.8 186.6 L1231.4 187.0 L1232.9 187.5 L1234.4 188.0 L1236.0 188.4 L1237.5 188.9 L1239.1 189.4 L1240.6 189.9 L1242.2 190.4 L1243.7 190.9 L1245.2 191.5 L1246.8 192.0 L1248.3 192.5 L1249.9 193.1 L1251.4 193.7 L1252.9 194.3 L1254.5 194.9 L1256.0 195.5 L1257.6 196.1 L1259.1 196.7 L1260.7 197.3 L1262.2 198.0 L1263.7 198.7 L1265.3 199.3 L1266.8 200.0 L1268.4 200.7 L1269.9 201.4 L1271.4 202.1 L1273.0 202.9 L1274.5 203.6 L1276.1 204.3 L1277.6 205.1 L1279.2 205.9 L1280.7 206.6 L1282.2 207.4 L1283.8 208.2 L1285.3 209.0 L1286.9 209.8 L1288.4 210.6 L1289.9 211.5 L1291.5 212.3 L1293.0 213.1 L1294.6 214.0 L1296.1 214.9 L1297.7 215.7 L1299.2 216.6 L1300.7 217.5 L1302.3 218.4 L1303.8 219.3 L1305.4 220.3 L1306.9 221.2 L1308.4 222.2 L1310.0 223.2 L1311.5 224.2 L1313.1 225.3 L1314.6 226.3 L1316.2 227.4 L1317.7 228.5 L1319.2 229.6 L1320.8 230.7 L1322.3 231.8 L1323.9 232.9 L1325.4 234.1 L1326.9 235.2 L1328.5 236.4 L1330.0 237.6 L1331.6 238.8 L1333.1 239.9 L1334.6 241.1 L1336.2 242.3 L1337.7 243.6 L1339.3 244.8 L1340.8 246.0 L1342.4 247.2 L1343.9 248.5 L1345.4 249.8 L1347.0 251.1 L1348.5 252.5 L1350.1 253.8 L1351.6 255.2 L1353.1 256.5 L1354.7 257.9 L1356.2 259.3 L1357.8 260.7 L1359.3 262.2 L1360.9 263.6 L1362.4 265.0 L1363.9 266.5 L1365.5 267.9 L1367.0 269.3 L1368.6 270.8 L1370.1 272.2 L1371.6 273.7 L1373.2 275.1 L1374.7 276.5 L1376.3 278.0 L1377.8 279.4 L1379.4 280.9 L1380.9 282.3 L1382.4 283.8 L1384.0 285.2 L1385.5 286.7 L1387.1 288.1 L1388.6 289.6 L1390.1 291.0 L1391.7 292.5 L1393.2 294.0 L1394.8 295.4 L1396.3 296.9 L1397.9 298.4 L1399.4 299.9 L1400.9 301.4 L1402.5 302.9 L1404.0 304.4 L1405.6 305.9 L1407.1 307.4 L1408.6 308.9 L1410.2 310.5 L1411.7 312.0 L1413.3 313.6 L1414.8 315.1 L1416.4 316.7 L1417.9 318.3 L1419.4 319.9 L1421.0 321.5 L1422.5 323.1 L1424.1 324.7 L1425.6 326.3 L1427.1 328.0 L1428.7 329.6 L1430.2 331.3 L1431.8 333.0 L1433.3 334.7 L1434.9 336.4 L1436.4 338.1 L1437.9 339.9 L1439.5 341.6 L1441.0 343.4 L1442.6 345.2 L1444.1 347.0 L1445.6 348.8 L1447.2 350.6 L1448.7 352.4 L1450.3 354.3 L1451.8 356.2 L1453.4 358.1 L1454.9 360.0 L1456.4 361.9 L1458.0 363.8 L1459.5 365.8 L1461.1 367.7 L1462.6 369.7 L1464.1 371.7 L1465.7 373.7 L1467.2 375.8 L1468.8 377.8 L1470.3 379.9 L1471.9 381.9 L1473.4 384.0 L1474.9 386.1 L1476.5 388.3 L1478.0 390.4 L1479.6 392.5 L1481.1 394.7 L1482.6 396.9 L1484.2 399.1 L1485.7 401.3 L1487.3 403.5 L1488.8 405.8 L1490.3 408.1 L1491.9 410.4 L1493.4 412.7 L1495.0 415.1 L1496.5 417.4 L1498.1 419.8 L1499.6 422.2 L1501.1 424.7 L1502.7 427.1 L1504.2 429.6 L1505.8 432.1 L1507.3 434.6 L1508.8 437.1 L1510.4 439.7 L1511.9 442.2 L1513.5 444.8 L1515.0 447.4 L1516.6 450.0 L1518.1 452.6 L1519.6 455.2 L1521.2 457.8 L1522.7 460.4 L1524.3 463.1 L1525.8 465.7 L1527.3 468.4 L1528.9 471.0 L1530.4 473.7 L1532.0 476.4 L1533.5 479.1 L1535.1 481.8 L1536.6 484.5 L1538.1 487.3 L1539.7 490.0 L1541.2 492.8 L1542.8 495.6 L1544.3 498.4 L1545.8 501.3 L1547.4 504.1 L1548.9 507.0 L1550.5 509.8 L1552.0 512.7 L1553.6 515.6 L1555.1 518.5 L1556.6 521.5 L1558.2 524.4 L1559.7 527.3 L1561.3 530.3 L1562.8 533.2 L1564.3 536.2 L1565.9 539.2 L1567.4 542.2 L1569.0 545.1 L1570.5 548.1 L1572.1 551.1 L1573.6 554.2 L1575.1 557.2 L1576.7 560.2 L1578.2 563.3 L1579.8 566.3 L1581.3 569.4 L1582.8 572.5 L1584.4 575.6 L1585.9 578.7 L1587.5 581.8 L1589.0 585.0 L1590.6 588.1 L1592.1 591.3 L1593.6 594.4 L1595.2 597.6 L1596.7 600.8 L1598.3 604.0 L1599.8 607.2 L1601.3 610.4 L1602.9 613.6 L1604.4 616.8 L1606.0 620.1 L1607.5 623.3 L1609.1 626.5 L1610.6 629.8 L1612.1 633.1 L1613.7 636.3 L1615.2 639.6 L1616.8 642.9 L1618.3 646.2 L1619.8 649.6 L1621.4 652.9 L1622.9 656.2 L1624.5 659.6 L1626.0 662.9 L1627.6 666.3 L1629.1 669.7 L1630.6 673.1 L1632.2 676.4 L1633.7 679.8 L1635.3 683.2 L1636.8 686.6 L1638.3 690.0 L1639.9 693.4 L1641.4 696.8 L1643.0 700.3 L1644.5 703.7 L1646.0 707.1 L1647.6 710.6 L1649.1 714.0 L1650.7 717.5 L1652.2 721.0 L1653.8 724.5 L1655.3 728.0 L1656.8 731.5 L1658.4 735.0 L1659.9 738.5 L1661.5 742.0 L1663.0 745.5 L1664.5 749.0 L1666.1 752.5 L1667.6 756.0 L1669.2 759.5 L1670.7 763.0 L1672.3 766.4 L1673.8 769.9 L1675.3 773.3 L1676.9 776.8 L1678.4 780.2 L1680.0 783.6 L1681.5 787.1 L1683.0 790.5 L1684.6 793.9 L1686.1 797.4 L1687.7 800.8 L1689.2 804.2 L1690.8 807.7 L1692.3 811.1 L1693.8 814.5 L1695.4 817.9 L1696.9 821.3 L1698.5 824.7 L1700.0 828.0 L1701.5 831.4 L1703.1 834.7 L1704.6 838.0 L1706.2 841.3 L1707.7 844.6 L1709.3 847.8 L1710.8 851.0 L1712.3 854.3 L1713.9 857.5 L1715.4 860.7 L1717.0 864.0 L1718.5 867.2 L1720.0 870.4 L1721.6 873.6 L1723.1 876.7 L1724.7 879.9 L1726.2 882.9 L1727.8 886.0 L1729.3 889.0 L1730.8 891.9 L1732.4 894.8 L1733.9 897.6 L1735.5 900.4 L1737.0 903.1 L1738.5 905.8 L1740.1 908.5 L1741.6 911.2 L1743.2 913.8 L1744.7 916.5 L1746.3 919.1 L1747.8 921.7 L1749.3 924.2 L1750.9 926.7 L1752.4 929.2 L1754.0 931.6 L1755.5 934.0 L1757.0 936.3 L1758.6 938.5 L1760.1 940.8 L1761.7 942.9 L1763.2 945.0 L1764.8 947.0 L1766.3 948.9 L1767.8 950.8 L1769.4 952.5 L1770.9 954.3 L1772.5 955.9 L1774.0 957.5 L1775.5 959.1 L1777.1 960.6 L1778.6 962.1 L1780.2 963.6 L1781.7 965.0 L1783.3 966.4 L1784.8 967.8 L1786.3 969.2 L1787.9 970.5 L1789.4 971.9 L1791.0 973.2 L1792.5 974.6 L1794.0 975.9 L1795.6 977.2 L1797.1 978.5 L1798.7 979.8 L1800.2 981.0 L1801.7 982.2 L1803.3 983.4 L1804.8 984.5 L1806.4 985.5 L1807.9 986.6 L1809.5 987.5 L1811.0 988.5 L1812.5 989.4 L1814.1 990.3 L1815.6 991.2 L1817.2 992.0 L1818.7 992.9 L1820.2 993.6 L1821.8 994.4 L1823.3 995.1 L1824.9 995.8 L1826.4 996.4 L1828.0 997.0 L1829.5 997.5 L1831.0 998.0 L1832.6 998.6 L1834.1 999.1 L1835.7 999.5 L1837.2 1000.0 L1838.7 1000.4 L1840.3 1000.8 L1841.8 1001.1 L1843.4 1001.5 L1844.9 1001.8 L1846.5 1002.1 L1848.0 1002.4 L1849.5 1002.7 L1851.1 1003.0 L1852.6 1003.3 L1854.2 1003.5 L1855.7 1003.7 L1857.2 1003.9 L1858.8 1004.0 L1860.3 1004.1 L1861.9 1004.2 L1863.4 1004.2 L1865.0 1004.3 L1866.5 1004.4 L1868.0 1004.4 L1869.6 1004.5 L1871.1 1004.6 L1872.7 1004.6 L1874.2 1004.7 L1875.7 1004.7 L1877.3 1004.8 L1878.8 1004.8 L1880.4 1004.9 L1881.9 1004.9 L1883.5 1004.9 L1885.0 1005.0 L1886.5 1005.0 L1888.1 1005.0 L1889.6 1005.1 L1891.2 1005.1 L1892.7 1005.1 L1894.2 1005.1 L1895.8 1005.1 L1897.3 1005.2 L1898.9 1005.2 L1900.4 1005.2 L1902.0 1005.2 L1903.5 1005.2 L1905.0 1005.3 L1906.6 1005.3 L1908.1 1005.3 L1909.7 1005.3 L1911.2 1005.3 L1912.7 1005.3 L1914.3 1005.3 L1915.8 1005.3 L1917.4 1005.4 L1918.9 1005.4 L1920.5 1005.4 L1922.0 1005.4 L1923.5 1005.4 L1925.1 1005.4 L1926.6 1005.4 L1928.2 1005.4 L1929.7 1005.4 L1931.2 1005.4 L1932.8 1005.5 L1934.3 1005.5 L1935.9 1005.5 L1937.4 1005.5 L1939.0 1005.5 L1940.5 1005.5 L1942.0 1005.5 L1943.6 1005.5 L1945.1 1005.5 L1946.7 1005.5 L1948.2 1005.5" stroke="#88CC7E" stroke-width="7.5"/>
<path d="M254.0 128.0 L255.5 128.0 L257.1 128.0 L258.6 128.0 L260.2 128.0 L261.7 128.0 L263.2 128.0 L264.8 128.0 L266.3 128.0 L267.9 128.0 L269.4 128.0 L271.0 128.0 L272.5 128.0 L274.0 128.0 L275.6 128.0 L277.1 128.1 L278.7 128.1 L280.2 128.1 L281.7 128.1 L283.3 128.1 L284.8 128.1 L286.4 128.1 L287.9 128.1 L289.5 128.1 L291.0 128.1 L292.5 128.1 L294.1 128.2 L295.6 128.2 L297.2 128.2 L298.7 128.2 L300.2 128.2 L301.8 128.2 L303.3 128.2 L304.9 128.3 L306.4 128.3 L308.0 128.3 L309.5 128.3 L311.0 128.3 L312.6 128.3 L314.1 128.3 L315.7 128.4 L317.2 128.4 L318.7 128.4 L320.3 128.4 L321.8 128.4 L323.4 128.4 L324.9 128.5 L326.5 128.5 L328.0 128.5 L329.5 128.5 L331.1 128.5 L332.6 128.6 L334.2 128.6 L335.7 128.6 L337.2 128.6 L338.8 128.6 L340.3 128.7 L341.9 128.7 L343.4 128.7 L345.0 128.7 L346.5 128.7 L348.0 128.8 L349.6 128.8 L351.1 128.8 L352.7 128.8 L354.2 128.8 L355.7 128.9 L357.3 128.9 L358.8 128.9 L360.4 128.9 L361.9 129.0 L363.5 129.0 L365.0 129.0 L366.5 129.0 L368.1 129.0 L369.6 129.1 L371.2 129.1 L372.7 129.1 L374.2 129.1 L375.8 129.2 L377.3 129.2 L378.9 129.2 L380.4 129.2 L382.0 129.2 L383.5 129.3 L385.0 129.3 L386.6 129.3 L388.1 129.3 L389.7 129.4 L391.2 129.4 L392.7 129.4 L394.3 129.4 L395.8 129.5 L397.4 129.5 L398.9 129.5 L400.5 129.5 L402.0 129.5 L403.5 129.6 L405.1 129.6 L406.6 129.6 L408.2 129.6 L409.7 129.7 L411.2 129.7 L412.8 129.7 L414.3 129.7 L415.9 129.8 L417.4 129.8 L418.9 129.8 L420.5 129.8 L422.0 129.8 L423.6 129.9 L425.1 129.9 L426.7 129.9 L428.2 129.9 L429.7 129.9 L431.3 130.0 L432.8 130.0 L434.4 130.0 L435.9 130.0 L437.4 130.0 L439.0 130.1 L440.5 130.1 L442.1 130.1 L443.6 130.1 L445.2 130.1 L446.7 130.2 L448.2 130.2 L449.8 130.2 L451.3 130.2 L452.9 130.2 L454.4 130.3 L455.9 130.3 L457.5 130.3 L459.0 130.3 L460.6 130.3 L462.1 130.3 L463.7 130.4 L465.2 130.4 L466.7 130.4 L468.3 130.4 L469.8 130.4 L471.4 130.4 L472.9 130.5 L474.4 130.5 L476.0 130.5 L477.5 130.5 L479.1 130.5 L480.6 130.5 L482.2 130.6 L483.7 130.6 L485.2 130.6 L486.8 130.6 L488.3 130.6 L489.9 130.6 L491.4 130.7 L492.9 130.7 L494.5 130.7 L496.0 130.7 L497.6 130.7 L499.1 130.7 L500.7 130.8 L502.2 130.8 L503.7 130.8 L505.3 130.8 L506.8 130.8 L508.4 130.8 L509.9 130.9 L511.4 130.9 L513.0 130.9 L514.5 130.9 L516.1 130.9 L517.6 131.0 L519.2 131.0 L520.7 131.0 L522.2 131.0 L523.8 131.0 L525.3 131.0 L526.9 131.1 L528.4 131.1 L529.9 131.1 L531.5 131.1 L533.0 131.1 L534.6 131.1 L536.1 131.2 L537.7 131.2 L539.2 131.2 L540.7 131.2 L542.3 131.2 L543.8 131.3 L545.4 131.3 L546.9 131.3 L548.4 131.3 L550.0 131.3 L551.5 131.3 L553.1 131.4 L554.6 131.4 L556.2 131.4 L557.7 131.4 L559.2 131.4 L560.8 131.5 L562.3 131.5 L563.9 131.5 L565.4 131.5 L566.9 131.5 L568.5 131.6 L570.0 131.6 L571.6 131.6 L573.1 131.6 L574.6 131.6 L576.2 131.7 L577.7 131.7 L579.3 131.7 L580.8 131.7 L582.4 131.7 L583.9 131.8 L585.4 131.8 L587.0 131.8 L588.5 131.8 L590.1 131.9 L591.6 131.9 L593.1 131.9 L594.7 131.9 L596.2 131.9 L597.8 132.0 L599.3 132.0 L600.9 132.0 L602.4 132.0 L603.9 132.1 L605.5 132.1 L607.0 132.1 L608.6 132.1 L610.1 132.2 L611.6 132.2 L613.2 132.2 L614.7 132.2 L616.3 132.3 L617.8 132.3 L619.4 132.3 L620.9 132.4 L622.4 132.4 L624.0 132.4 L625.5 132.5 L627.1 132.5 L628.6 132.5 L630.1 132.5 L631.7 132.6 L633.2 132.6 L634.8 132.6 L636.3 132.7 L637.9 132.7 L639.4 132.7 L640.9 132.8 L642.5 132.8 L644.0 132.8 L645.6 132.9 L647.1 132.9 L648.6 132.9 L650.2 133.0 L651.7 133.0 L653.3 133.0 L654.8 133.1 L656.4 133.1 L657.9 133.1 L659.4 133.2 L661.0 133.2 L662.5 133.2 L664.1 133.3 L665.6 133.3 L667.1 133.3 L668.7 133.4 L670.2 133.4 L671.8 133.4 L673.3 133.5 L674.9 133.5 L676.4 133.5 L677.9 133.6 L679.5 133.6 L681.0 133.6 L682.6 133.7 L684.1 133.7 L685.6 133.7 L687.2 133.7 L688.7 133.8 L690.3 133.8 L691.8 133.8 L693.4 133.9 L694.9 133.9 L696.4 133.9 L698.0 133.9 L699.5 134.0 L701.1 134.0 L702.6 134.0 L704.1 134.1 L705.7 134.1 L707.2 134.1 L708.8 134.1 L710.3 134.2 L711.9 134.2 L713.4 134.2 L714.9 134.2 L716.5 134.3 L718.0 134.3 L719.6 134.3 L721.1 134.3 L722.6 134.3 L724.2 134.4 L725.7 134.4 L727.3 134.4 L728.8 134.4 L730.3 134.4 L731.9 134.5 L733.4 134.5 L735.0 134.5 L736.5 134.5 L738.1 134.5 L739.6 134.6 L741.1 134.6 L742.7 134.6 L744.2 134.6 L745.8 134.6 L747.3 134.7 L748.8 134.7 L750.4 134.7 L751.9 134.7 L753.5 134.8 L755.0 134.8 L756.6 134.8 L758.1 134.8 L759.6 134.8 L761.2 134.9 L762.7 134.9 L764.3 134.9 L765.8 134.9 L767.3 135.0 L768.9 135.0 L770.4 135.0 L772.0 135.0 L773.5 135.1 L775.1 135.1 L776.6 135.1 L778.1 135.1 L779.7 135.2 L781.2 135.2 L782.8 135.2 L784.3 135.3 L785.8 135.3 L787.4 135.3 L788.9 135.3 L790.5 135.4 L792.0 135.4 L793.6 135.4 L795.1 135.5 L796.6 135.5 L798.2 135.6 L799.7 135.6 L801.3 135.6 L802.8 135.7 L804.3 135.7 L805.9 135.8 L807.4 135.8 L809.0 135.9 L810.5 135.9 L812.1 136.0 L813.6 136.0 L815.1 136.1 L816.7 136.2 L818.2 136.2 L819.8 136.3 L821.3 136.4 L822.8 136.4 L824.4 136.5 L825.9 136.6 L827.5 136.6 L829.0 136.7 L830.6 136.8 L832.1 136.9 L833.6 137.0 L835.2 137.0 L836.7 137.1 L838.3 137.2 L839.8 137.3 L841.3 137.4 L842.9 137.4 L844.4 137.5 L846.0 137.6 L847.5 137.7 L849.1 137.8 L850.6 137.9 L852.1 138.0 L853.7 138.0 L855.2 138.1 L856.8 138.2 L858.3 138.3 L859.8 138.4 L861.4 138.5 L862.9 138.6 L864.5 138.7 L866.0 138.7 L867.6 138.8 L869.1 138.9 L870.6 139.0 L872.2 139.1 L873.7 139.2 L875.3 139.2 L876.8 139.3 L878.3 139.4 L879.9 139.5 L881.4 139.5 L883.0 139.6 L884.5 139.7 L886.0 139.8 L887.6 139.9 L889.1 139.9 L890.7 140.0 L892.2 140.1 L893.8 140.2 L895.3 140.3 L896.8 140.4 L898.4 140.4 L899.9 140.5 L901.5 140.6 L903.0 140.7 L904.5 140.8 L906.1 140.8 L907.6 140.9 L909.2 141.0 L910.7 141.1 L912.3 141.2 L913.8 141.3 L915.3 141.3 L916.9 141.4 L918.4 141.5 L920.0 141.6 L921.5 141.7 L923.0 141.8 L924.6 141.9 L926.1 141.9 L927.7 142.0 L929.2 142.1 L930.8 142.2 L932.3 142.3 L933.8 142.3 L935.4 142.4 L936.9 142.5 L938.5 142.6 L940.0 142.7 L941.5 142.8 L943.1 142.8 L944.6 142.9 L946.2 143.0 L947.7 143.1 L949.3 143.2 L950.8 143.2 L952.3 143.3 L953.9 143.4 L955.4 143.5 L957.0 143.5 L958.5 143.6 L960.0 143.7 L961.6 143.8 L963.1 143.8 L964.7 143.9 L966.2 144.0 L967.8 144.0 L969.3 144.1 L970.8 144.2 L972.4 144.2 L973.9 144.3 L975.5 144.4 L977.0 144.5 L978.5 144.5 L980.1 144.6 L981.6 144.7 L983.2 144.7 L984.7 144.8 L986.3 144.9 L987.8 145.0 L989.3 145.1 L990.9 145.2 L992.4 145.2 L994.0 145.3 L995.5 145.4 L997.0 145.5 L998.6 145.6 L1000.1 145.7 L1001.7 145.8 L1003.2 145.9 L1004.8 146.1 L1006.3 146.2 L1007.8 146.3 L1009.4 146.5 L1010.9 146.6 L1012.5 146.7 L1014.0 146.9 L1015.5 147.0 L1017.1 147.2 L1018.6 147.3 L1020.2 147.5 L1021.7 147.7 L1023.3 147.8 L1024.8 148.0 L1026.3 148.2 L1027.9 148.3 L1029.4 148.5 L1031.0 148.7 L1032.5 148.9 L1034.0 149.0 L1035.6 149.2 L1037.1 149.4 L1038.7 149.6 L1040.2 149.8 L1041.7 149.9 L1043.3 150.1 L1044.8 150.3 L1046.4 150.5 L1047.9 150.6 L1049.5 150.8 L1051.0 151.0 L1052.5 151.1 L1054.1 151.3 L1055.6 151.5 L1057.2 151.6 L1058.7 151.8 L1060.2 152.0 L1061.8 152.2 L1063.3 152.3 L1064.9 152.5 L1066.4 152.7 L1068.0 152.9 L1069.5 153.0 L1071.0 153.2 L1072.6 153.4 L1074.1 153.6 L1075.7 153.8 L1077.2 154.0 L1078.7 154.2 L1080.3 154.4 L1081.8 154.7 L1083.4 154.9 L1084.9 155.1 L1086.5 155.3 L1088.0 155.6 L1089.5 155.8 L1091.1 156.1 L1092.6 156.3 L1094.2 156.6 L1095.7 156.8 L1097.2 157.1 L1098.8 157.4 L1100.3 157.6 L1101.9 157.9 L1103.4 158.2 L1105.0 158.4 L1106.5 158.7 L1108.0 159.0 L1109.6 159.3 L1111.1 159.6 L1112.7 159.9 L1114.2 160.2 L1115.7 160.5 L1117.3 160.8 L1118.8 161.1 L1120.4 161.4 L1121.9 161.8 L1123.5 162.1 L1125.0 162.4 L1126.5 162.8 L1128.1 163.1 L1129.6 163.4 L1131.2 163.8 L1132.7 164.1 L1134.2 164.5 L1135.8 164.8 L1137.3 165.2 L1138.9 165.5 L1140.4 165.9 L1142.0 166.3 L1143.5 166.7 L1145.0 167.1 L1146.6 167.5 L1148.1 167.9 L1149.7 168.3 L1151.2 168.7 L1152.7 169.1 L1154.3 169.6 L1155.8 170.0 L1157.4 170.5 L1158.9 170.9 L1160.5 171.4 L1162.0 171.8 L1163.5 172.3 L1165.1 172.8 L1166.6 173.3 L1168.2 173.8 L1169.7 174.3 L1171.2 174.8 L1172.8 175.3 L1174.3 175.8 L1175.9 176.3 L1177.4 176.8 L1178.9 177.4 L1180.5 177.9 L1182.0 178.4 L1183.6 179.0 L1185.1 179.5 L1186.7 180.0 L1188.2 180.6 L1189.7 181.1 L1191.3 181.7 L1192.8 182.2 L1194.4 182.8 L1195.9 183.4 L1197.4 183.9 L1199.0 184.5 L1200.5 185.0 L1202.1 185.6 L1203.6 186.2 L1205.2 186.7 L1206.7 187.3 L1208.2 187.9 L1209.8 188.5 L1211.3 189.1 L1212.9 189.7 L1214.4 190.3 L1215.9 190.9 L1217.5 191.6 L1219.0 192.2 L1220.6 192.8 L1222.1 193.4 L1223.7 194.1 L1225.2 194.7 L1226.7 195.4 L1228.3 196.1 L1229.8 196.7 L1231.4 197.4 L1232.9 198.1 L1234.4 198.8 L1236.0 199.5 L1237.5 200.2 L1239.1 200.9 L1240.6 201.6 L1242.2 202.3 L1243.7 203.0 L1245.2 203.7 L1246.8 204.5 L1248.3 205.2 L1249.9 206.0 L1251.4 206.8 L1252.9 207.5 L1254.5 208.3 L1256.0 209.1 L1257.6 209.9 L1259.1 210.7 L1260.7 211.5 L1262.2 212.3 L1263.7 213.2 L1265.3 214.0 L1266.8 214.8 L1268.4 215.7 L1269.9 216.6 L1271.4 217.4 L1273.0 218.3 L1274.5 219.2 L1276.1 220.1 L1277.6 221.0 L1279.2 222.0 L1280.7 222.9 L1282.2 223.8 L1283.8 224.8 L1285.3 225.7 L1286.9 226.7 L1288.4 227.7 L1289.9 228.6 L1291.5 229.6 L1293.0 230.6 L1294.6 231.6 L1296.1 232.7 L1297.7 233.7 L1299.2 234.7 L1300.7 235.8 L1302.3 236.8 L1303.8 237.9 L1305.4 239.0 L1306.9 240.2 L1308.4 241.3 L1310.0 242.5 L1311.5 243.6 L1313.1 244.8 L1314.6 246.0 L1316.2 247.3 L1317.7 248.5 L1319.2 249.7 L1320.8 251.0 L1322.3 252.3 L1323.9 253.5 L1325.4 254.8 L1326.9 256.1 L1328.5 257.4 L1330.0 258.7 L1331.6 260.0 L1333.1 261.3 L1334.6 262.7 L1336.2 264.0 L1337.7 265.3 L1339.3 266.6 L1340.8 268.0 L1342.4 269.3 L1343.9 270.6 L1345.4 272.0 L1347.0 273.3 L1348.5 274.7 L1350.1 276.1 L1351.6 277.5 L1353.1 278.9 L1354.7 280.3 L1356.2 281.7 L1357.8 283.1 L1359.3 284.5 L1360.9 286.0 L1362.4 287.5 L1363.9 289.0 L1365.5 290.4 L1367.0 292.0 L1368.6 293.5 L1370.1 295.0 L1371.6 296.6 L1373.2 298.1 L1374.7 299.7 L1376.3 301.3 L1377.8 302.9 L1379.4 304.5 L1380.9 306.2 L1382.4 307.8 L1384.0 309.5 L1385.5 311.1 L1387.1 312.8 L1388.6 314.5 L1390.1 316.2 L1391.7 317.9 L1393.2 319.7 L1394.8 321.4 L1396.3 323.2 L1397.9 324.9 L1399.4 326.7 L1400.9 328.5 L1402.5 330.3 L1404.0 332.2 L1405.6 334.0 L1407.1 335.9 L1408.6 337.8 L1410.2 339.7 L1411.7 341.6 L1413.3 343.5 L1414.8 345.5 L1416.4 347.4 L1417.9 349.4 L1419.4 351.5 L1421.0 353.5 L1422.5 355.5 L1424.1 357.6 L1425.6 359.7 L1427.1 361.8 L1428.7 363.9 L1430.2 366.1 L1431.8 368.2 L1433.3 370.4 L1434.9 372.6 L1436.4 374.8 L1437.9 377.0 L1439.5 379.2 L1441.0 381.4 L1442.6 383.7 L1444.1 385.9 L1445.6 388.2 L1447.2 390.4 L1448.7 392.7 L1450.3 395.0 L1451.8 397.3 L1453.4 399.6 L1454.9 401.9 L1456.4 404.2 L1458.0 406.5 L1459.5 408.9 L1461.1 411.2 L1462.6 413.6 L1464.1 416.0 L1465.7 418.4 L1467.2 420.8 L1468.8 423.2 L1470.3 425.6 L1471.9 428.0 L1473.4 430.5 L1474.9 433.0 L1476.5 435.4 L1478.0 437.9 L1479.6 440.4 L1481.1 442.9 L1482.6 445.5 L1484.2 448.0 L1485.7 450.6 L1487.3 453.1 L1488.8 455.7 L1490.3 458.3 L1491.9 460.9 L1493.4 463.5 L1495.0 466.1 L1496.5 468.7 L1498.1 471.4 L1499.6 474.0 L1501.1 476.7 L1502.7 479.4 L1504.2 482.1 L1505.8 484.8 L1507.3 487.5 L1508.8 490.2 L1510.4 493.0 L1511.9 495.8 L1513.5 498.6 L1515.0 501.4 L1516.6 504.2 L1518.1 507.0 L1519.6 509.9 L1521.2 512.8 L1522.7 515.6 L1524.3 518.5 L1525.8 521.4 L1527.3 524.3 L1528.9 527.3 L1530.4 530.2 L1532.0 533.2 L1533.5 536.1 L1535.1 539.1 L1536.6 542.1 L1538.1 545.1 L1539.7 548.1 L1541.2 551.1 L1542.8 554.1 L1544.3 557.2 L1545.8 560.2 L1547.4 563.3 L1548.9 566.4 L1550.5 569.5 L1552.0 572.7 L1553.6 575.8 L1555.1 579.0 L1556.6 582.1 L1558.2 585.3 L1559.7 588.5 L1561.3 591.7 L1562.8 594.9 L1564.3 598.2 L1565.9 601.4 L1567.4 604.7 L1569.0 608.0 L1570.5 611.2 L1572.1 614.5 L1573.6 617.8 L1575.1 621.1 L1576.7 624.4 L1578.2 627.8 L1579.8 631.1 L1581.3 634.5 L1582.8 637.8 L1584.4 641.2 L1585.9 644.6 L1587.5 648.1 L1589.0 651.5 L1590.6 654.9 L1592.1 658.4 L1593.6 661.9 L1595.2 665.3 L1596.7 668.8 L1598.3 672.3 L1599.8 675.8 L1601.3 679.3 L1602.9 682.9 L1604.4 686.4 L1606.0 689.9 L1607.5 693.5 L1609.1 697.0 L1610.6 700.6 L1612.1 704.1 L1613.7 707.7 L1615.2 711.3 L1616.8 715.0 L1618.3 718.6 L1619.8 722.3 L1621.4 725.9 L1622.9 729.6 L1624.5 733.3 L1626.0 737.0 L1627.6 740.7 L1629.1 744.3 L1630.6 748.0 L1632.2 751.7 L1633.7 755.4 L1635.3 759.1 L1636.8 762.7 L1638.3 766.3 L1639.9 770.0 L1641.4 773.6 L1643.0 777.2 L1644.5 780.7 L1646.0 784.3 L1647.6 787.9 L1649.1 791.5 L1650.7 795.1 L1652.2 798.7 L1653.8 802.3 L1655.3 805.9 L1656.8 809.5 L1658.4 813.1 L1659.9 816.6 L1661.5 820.1 L1663.0 823.7 L1664.5 827.2 L1666.1 830.6 L1667.6 834.1 L1669.2 837.5 L1670.7 840.9 L1672.3 844.3 L1673.8 847.6 L1675.3 850.9 L1676.9 854.2 L1678.4 857.5 L1680.0 860.8 L1681.5 864.1 L1683.0 867.3 L1684.6 870.6 L1686.1 873.8 L1687.7 876.9 L1689.2 880.1 L1690.8 883.2 L1692.3 886.2 L1693.8 889.2 L1695.4 892.2 L1696.9 895.1 L1698.5 897.9 L1700.0 900.7 L1701.5 903.4 L1703.1 906.2 L1704.6 908.8 L1706.2 911.5 L1707.7 914.1 L1709.3 916.7 L1710.8 919.3 L1712.3 921.8 L1713.9 924.4 L1715.4 926.8 L1717.0 929.3 L1718.5 931.7 L1720.0 934.1 L1721.6 936.4 L1723.1 938.7 L1724.7 940.9 L1726.2 943.1 L1727.8 945.3 L1729.3 947.4 L1730.8 949.5 L1732.4 951.5 L1733.9 953.5 L1735.5 955.4 L1737.0 957.3 L1738.5 959.1 L1740.1 960.9 L1741.6 962.6 L1743.2 964.4 L1744.7 966.1 L1746.3 967.8 L1747.8 969.5 L1749.3 971.2 L1750.9 972.9 L1752.4 974.5 L1754.0 976.2 L1755.5 977.9 L1757.0 979.5 L1758.6 981.1 L1760.1 982.6 L1761.7 984.0 L1763.2 985.3 L1764.8 986.6 L1766.3 987.9 L1767.8 989.2 L1769.4 990.4 L1770.9 991.5 L1772.5 992.6 L1774.0 993.6 L1775.5 994.5 L1777.1 995.3 L1778.6 996.0 L1780.2 996.7 L1781.7 997.3 L1783.3 997.9 L1784.8 998.5 L1786.3 999.0 L1787.9 999.6 L1789.4 1000.1 L1791.0 1000.5 L1792.5 1001.0 L1794.0 1001.5 L1795.6 1001.9 L1797.1 1002.4 L1798.7 1002.9 L1800.2 1003.3 L1801.7 1003.8 L1803.3 1004.2 L1804.8 1004.7 L1806.4 1005.0 L1807.9 1005.4 L1809.5 1005.7 L1811.0 1005.9 L1812.5 1006.1 L1814.1 1006.3 L1815.6 1006.5 L1817.2 1006.7 L1818.7 1006.9 L1820.2 1007.0 L1821.8 1007.2 L1823.3 1007.4 L1824.9 1007.5 L1826.4 1007.7 L1828.0 1007.8 L1829.5 1008.0 L1831.0 1008.1 L1832.6 1008.3 L1834.1 1008.4 L1835.7 1008.5 L1837.2 1008.7 L1838.7 1008.8 L1840.3 1008.9 L1841.8 1009.0 L1843.4 1009.1 L1844.9 1009.3 L1846.5 1009.4 L1848.0 1009.5 L1849.5 1009.6 L1851.1 1009.7 L1852.6 1009.8 L1854.2 1009.8 L1855.7 1009.9 L1857.2 1010.0 L1858.8 1010.1 L1860.3 1010.2 L1861.9 1010.2 L1863.4 1010.3 L1865.0 1010.4 L1866.5 1010.4 L1868.0 1010.5 L1869.6 1010.5 L1871.1 1010.6 L1872.7 1010.6 L1874.2 1010.7 L1875.7 1010.7 L1877.3 1010.7 L1878.8 1010.8 L1880.4 1010.8 L1881.9 1010.8 L1883.5 1010.9 L1885.0 1010.9 L1886.5 1010.9 L1888.1 1010.9 L1889.6 1011.0 L1891.2 1011.0 L1892.7 1011.0 L1894.2 1011.0 L1895.8 1011.1 L1897.3 1011.1 L1898.9 1011.1 L1900.4 1011.1 L1902.0 1011.1 L1903.5 1011.2 L1905.0 1011.2 L1906.6 1011.2 L1908.1 1011.2 L1909.7 1011.2 L1911.2 1011.3 L1912.7 1011.3 L1914.3 1011.3 L1915.8 1011.3 L1917.4 1011.3 L1918.9 1011.3 L1920.5 1011.3 L1922.0 1011.4 L1923.5 1011.4 L1925.1 1011.4 L1926.6 1011.4 L1928.2 1011.4 L1929.7 1011.4 L1931.2 1011.4 L1932.8 1011.4 L1934.3 1011.4 L1935.9 1011.5 L1937.4 1011.5 L1939.0 1011.5 L1940.5 1011.5 L1942.0 1011.5 L1943.6 1011.5 L1945.1 1011.5 L1946.7 1011.5 L1948.2 1011.5" stroke="#000000" stroke-width="7.5"/>
</g>
<g font-family="'Liberation Sans', Arial, sans-serif" font-size="64" fill="#000">
<line x1="385.8" y1="207.4" x2="461.8" y2="207.4" stroke="#00ADEE" stroke-width="7.8" stroke-linecap="round"/>
<text transform="translate(470.55 226.4) scale(1.0152 1)">GPR</text>
<line x1="385.8" y1="282.7" x2="461.8" y2="282.7" stroke="#FF50CC" stroke-width="7.8" stroke-linecap="round"/>
<text transform="translate(469.03 301.7) scale(1.0131 1)">[PBS/GPR10/HDI]-Ti</text>
<line x1="385.8" y1="358.0" x2="461.8" y2="358.0" stroke="#FF0000" stroke-width="7.8" stroke-linecap="round"/>
<text transform="translate(469.04 377.0) scale(1.0119 1)">[PBS/GPR10/Ti]-HDI</text>
<line x1="385.8" y1="433.3" x2="461.8" y2="433.3" stroke="#0060C0" stroke-width="7.8" stroke-linecap="round"/>
<text transform="translate(469.02 452.3) scale(1.0152 1)">[PBS/GPR5/Ti]-HDI</text>
<line x1="385.8" y1="508.6" x2="461.8" y2="508.6" stroke="#FFBC00" stroke-width="7.8" stroke-linecap="round"/>
<text transform="translate(469.04 527.6) scale(1.0130 1)">[PBS/GPR10/Ti/HDI]</text>
<line x1="385.8" y1="583.9" x2="461.8" y2="583.9" stroke="#FF6E08" stroke-width="7.8" stroke-linecap="round"/>
<text transform="translate(469.96 602.9) scale(1.0089 1)">PBS/GPR10/HDI</text>
<line x1="385.8" y1="659.2" x2="461.8" y2="659.2" stroke="#12A51A" stroke-width="7.8" stroke-linecap="round"/>
<text transform="translate(469.92 678.2) scale(1.0154 1)">PBS/GPR10/Ti</text>
<line x1="385.8" y1="734.5" x2="461.8" y2="734.5" stroke="#9B9B9B" stroke-width="7.8" stroke-linecap="round"/>
<text transform="translate(469.95 753.5) scale(1.0095 1)">PBS/GPR10</text>
<line x1="385.8" y1="809.8" x2="461.8" y2="809.8" stroke="#FFA870" stroke-width="7.8" stroke-linecap="round"/>
<text transform="translate(469.96 828.8) scale(1.0090 1)">PBS/HDI</text>
<line x1="385.8" y1="885.1" x2="461.8" y2="885.1" stroke="#88CC7E" stroke-width="7.8" stroke-linecap="round"/>
<text transform="translate(469.88 904.1) scale(1.0241 1)">PBS/Ti</text>
<line x1="385.8" y1="960.4" x2="461.8" y2="960.4" stroke="#000000" stroke-width="7.8" stroke-linecap="round"/>
<text transform="translate(470.01 979.4) scale(0.9983 1)">PBS</text>
</g>
<g font-family="'Liberation Sans', Arial, sans-serif" font-size="64.5" font-weight="bold" fill="#000">
<text transform="translate(253.2 1113.8) scale(1 1.05)" text-anchor="middle">250</text>
<text transform="translate(676.5 1113.8) scale(1 1.05)" text-anchor="middle">300</text>
<text transform="translate(1099.9 1113.8) scale(1 1.05)" text-anchor="middle">350</text>
<text transform="translate(1523.2 1113.8) scale(1 1.05)" text-anchor="middle">400</text>
<text transform="translate(1946.5 1113.8) scale(1 1.05)" text-anchor="middle">450</text>
<text transform="translate(199.4 1036.3) scale(1 1.05)" text-anchor="end">0</text>
<text transform="translate(199.4 858.7) scale(1 1.05)" text-anchor="end">20</text>
<text transform="translate(199.4 681.1) scale(1 1.05)" text-anchor="end">40</text>
<text transform="translate(199.4 503.5) scale(1 1.05)" text-anchor="end">60</text>
<text transform="translate(199.4 325.9) scale(1 1.05)" text-anchor="end">80</text>
<text transform="translate(199.4 148.3) scale(1 1.05)" text-anchor="end">100</text>
<text transform="translate(0 1200.8) scale(1 1.05)" font-size="63.5"><tspan x="846.5">Temperature</tspan><tspan x="1251.4">[</tspan><tspan x="1270" font-size="58.5" font-family="'Liberation Sans', 'Noto Sans CJK JP', sans-serif" font-weight="normal">℃</tspan><tspan x="1332.3">]</tspan></text>
<text transform="translate(65.9 528.7) rotate(-90) translate(-160.9 0) scale(1 1.05)" font-size="63.3">Weight</text>
<text transform="translate(65.9 528.7) rotate(-90) translate(72.8 0) scale(0.914 1.05)" font-size="63.3">[%]</text>
</g>
</svg>
</div>
</body></html>
